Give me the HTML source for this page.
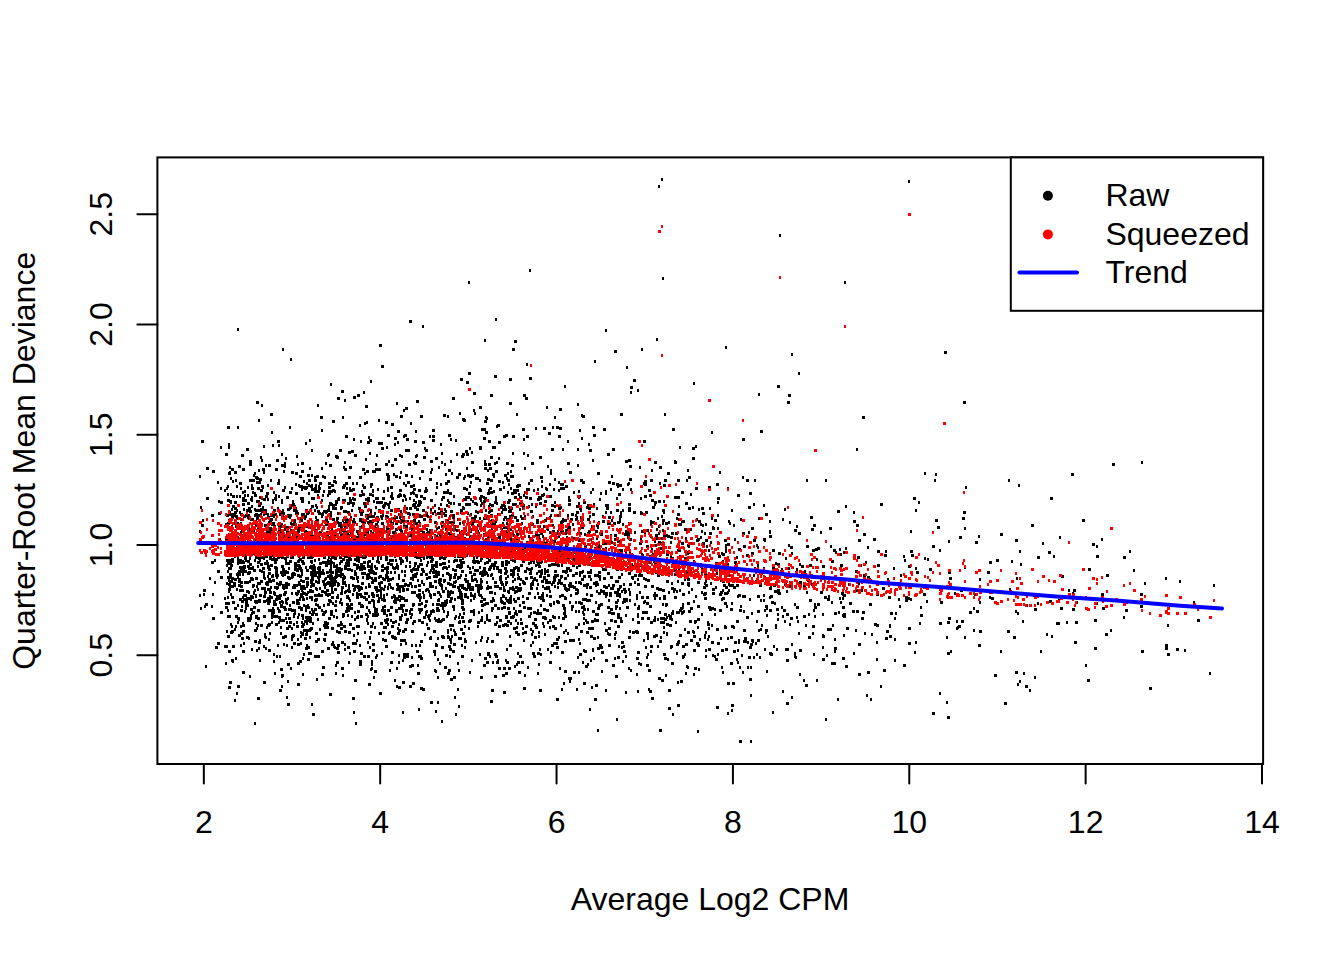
<!DOCTYPE html>
<html><head><meta charset="utf-8"><style>
html,body{margin:0;padding:0;background:#fff;}
svg{display:block;}
text{font-family:"Liberation Sans",sans-serif;font-size:32px;fill:#000;}
</style></head><body>
<svg width="1344" height="960" viewBox="0 0 1344 960">
<rect width="1344" height="960" fill="#fff"/>
<path d="M455 560.5h3M366 531.5h3M378 443.5h3M1019 551.5h2M503 587.5h2M527 608.5h3M361 521.5h2M530 511.5h3M274 587.5h3M244 611.5h2M663 627.5h2M226 488.5h2M956 628.5h2M639 467.5h2M602 549.5h3M242 651.5h3M309 629.5h3M662 590.5h3M405 526.5h3M500 542.5h3M274 540.5h2M300 568.5h2M435 536.5h3M456 549.5h2M267 576.5h2M681 612.5h3M281 512.5h2M409 583.5h3M479 490.5h3M356 565.5h3M399 586.5h2M708 636.5h2M415 502.5h2M455 544.5h2M911 555.5h3M338 524.5h2M719 472.5h2M374 554.5h2M353 651.5h3M700 524.5h2M250 599.5h2M681 543.5h3M719 610.5h3M247 618.5h3M322 521.5h3M594 564.5h3M407 547.5h2M218 530.5h3M538 566.5h3M614 592.5h3M927 559.5h2M286 628.5h3M328 545.5h2M261 405.5h2M337 595.5h2M414 554.5h2M399 543.5h3M457 577.5h2M684 563.5h3M503 668.5h3M515 587.5h3M482 571.5h3M311 498.5h3M413 493.5h2M1020 564.5h2M743 611.5h2M589 551.5h2M453 609.5h2M684 558.5h3M502 595.5h2M390 607.5h3M449 656.5h2M305 634.5h3M354 455.5h3M599 499.5h2M639 543.5h3M1088 569.5h3M647 618.5h3M247 528.5h3M558 482.5h2M622 565.5h2M688 508.5h3M433 576.5h3M425 614.5h2M287 664.5h3M855 571.5h3M1015 540.5h3M332 603.5h2M856 590.5h2M309 612.5h2M258 503.5h2M564 578.5h3M629 594.5h2M306 570.5h3M845 506.5h2M391 636.5h3M300 596.5h2M348 662.5h2M270 581.5h2M592 649.5h2M342 500.5h3M539 542.5h3M418 534.5h2M275 624.5h3M479 498.5h3M895 613.5h2M300 570.5h3M876 594.5h3M272 500.5h2M474 521.5h3M295 493.5h3M1123 557.5h3M460 556.5h2M688 611.5h3M547 649.5h2M413 520.5h3M331 572.5h3M688 546.5h2M705 632.5h2M601 565.5h3M620 618.5h2M240 633.5h3M314 609.5h3M463 588.5h3M255 477.5h3M481 503.5h2M825 480.5h2M371 533.5h2M537 542.5h2M307 570.5h2M612 613.5h3M722 581.5h3M628 668.5h2M409 544.5h2M369 539.5h3M258 541.5h2M660 618.5h3M733 651.5h3M465 497.5h3M586 584.5h3M318 576.5h3M580 603.5h3M327 627.5h2M561 521.5h3M227 486.5h2M384 640.5h3M322 476.5h2M239 512.5h2M331 578.5h3M760 431.5h3M349 498.5h2M271 614.5h3M523 583.5h3M592 427.5h3M367 656.5h3M769 610.5h3M541 486.5h2M454 632.5h2M722 672.5h2M622 565.5h2M488 490.5h2M327 648.5h3M447 481.5h3M497 554.5h2M722 554.5h3M803 680.5h2M248 518.5h3M449 493.5h3M799 674.5h2M405 622.5h3M579 430.5h2M318 570.5h3M687 632.5h3M295 484.5h2M332 531.5h2M325 534.5h2M282 569.5h3M524 571.5h3M655 635.5h3M288 532.5h2M306 551.5h3M390 496.5h3M348 606.5h3M506 625.5h3M272 523.5h3M438 527.5h2M272 515.5h2M413 500.5h2M380 516.5h2M251 578.5h2M359 539.5h2M509 645.5h3M692 507.5h2M841 593.5h3M567 633.5h2M395 476.5h3M285 527.5h2M532 631.5h2M472 540.5h3M675 533.5h3M329 465.5h3M517 590.5h3M262 568.5h3M352 505.5h2M405 508.5h3M619 596.5h2M368 561.5h3M496 568.5h3M1007 631.5h3M822 614.5h2M426 557.5h2M310 618.5h2M494 538.5h2M609 593.5h3M483 569.5h3M574 587.5h2M312 545.5h3M342 525.5h3M288 578.5h2M246 550.5h3M418 525.5h3M593 504.5h2M380 623.5h3M843 616.5h3M370 535.5h3M383 595.5h2M665 604.5h3M519 656.5h3M453 644.5h3M321 572.5h3M259 640.5h2M291 610.5h3M292 635.5h3M399 490.5h3M361 569.5h2M459 621.5h2M331 628.5h3M532 642.5h2M822 659.5h3M630 564.5h3M474 413.5h2M331 562.5h2M607 505.5h2M648 670.5h3M262 542.5h2M659 598.5h2M763 505.5h2M307 557.5h3M299 661.5h3M560 577.5h2M427 562.5h2M253 607.5h3M493 475.5h2M641 554.5h2M562 449.5h2M244 537.5h2M240 586.5h2M445 483.5h3M517 554.5h3M764 610.5h2M550 596.5h2M529 573.5h3M692 631.5h2M394 637.5h2M294 564.5h2M271 519.5h2M372 644.5h3M679 590.5h2M460 563.5h2M241 544.5h3M739 610.5h3M636 595.5h2M246 605.5h2M603 593.5h3M299 607.5h2M243 528.5h3M389 560.5h2M546 610.5h3M335 573.5h3M405 450.5h3M651 698.5h3M273 558.5h2M508 601.5h2M354 680.5h3M248 541.5h3M586 507.5h2M527 667.5h2M418 585.5h3M421 569.5h3M386 527.5h3M530 629.5h2M226 488.5h2M268 573.5h3M258 583.5h3M268 579.5h3M462 454.5h3M398 608.5h3M517 570.5h3M447 596.5h3M600 554.5h2M544 588.5h3M237 622.5h2M259 533.5h3M522 505.5h3M666 581.5h3M637 691.5h2M261 571.5h2M486 582.5h2M285 602.5h2M348 452.5h3M663 536.5h3M497 546.5h2M649 495.5h3M488 569.5h3M733 525.5h2M337 552.5h3M427 532.5h3M794 653.5h2M586 594.5h2M244 558.5h3M310 572.5h3M379 583.5h2M506 519.5h3M344 566.5h3M651 500.5h3M622 602.5h2M399 477.5h2M328 483.5h3M321 595.5h2M317 553.5h2M435 566.5h3M457 689.5h2M716 484.5h3M435 493.5h2M467 475.5h3M318 547.5h2M978 645.5h3M426 529.5h2M286 603.5h2M344 538.5h2M563 683.5h2M335 558.5h2M1075 622.5h3M608 541.5h2M486 615.5h2M534 637.5h3M389 540.5h3M623 601.5h3M620 515.5h2M619 587.5h2M501 529.5h2M611 476.5h2M615 632.5h2M320 555.5h3M242 545.5h2M764 649.5h2M387 563.5h3M255 551.5h2M685 538.5h2M654 551.5h3M493 491.5h2M266 530.5h3M684 629.5h2M430 586.5h3M259 479.5h3M296 535.5h3M282 585.5h2M684 529.5h3M708 607.5h3M785 649.5h2M358 535.5h2M478 592.5h2M494 562.5h3M374 580.5h3M229 467.5h2M248 509.5h3M256 628.5h2M414 576.5h3M397 586.5h2M234 502.5h3M248 598.5h2M383 507.5h2M511 476.5h3M438 573.5h2M579 575.5h2M464 639.5h2M259 595.5h3M267 566.5h3M372 555.5h3M488 560.5h3M680 563.5h3M696 643.5h3M867 577.5h3M674 462.5h3M393 474.5h2M465 581.5h2M248 532.5h3M808 614.5h2M480 677.5h3M241 562.5h3M708 550.5h2M554 564.5h3M1000 651.5h2M264 549.5h3M402 660.5h2M268 589.5h3M808 637.5h3M286 497.5h3M554 586.5h2M529 608.5h3M487 653.5h3M425 450.5h3M404 614.5h3M611 520.5h2M487 586.5h2M365 499.5h3M563 613.5h3M524 675.5h2M409 666.5h3M544 556.5h2M292 532.5h3M599 645.5h3M605 690.5h2M578 540.5h3M1167 625.5h2M387 504.5h3M751 613.5h2M595 602.5h2M584 651.5h3M357 611.5h3M261 509.5h3M590 539.5h2M249 480.5h3M518 590.5h3M229 575.5h3M300 576.5h2M411 552.5h2M646 665.5h3M348 477.5h3M767 636.5h2M810 517.5h3M577 592.5h2M368 570.5h2M415 495.5h3M908 598.5h2M469 568.5h2M483 429.5h3M468 504.5h3M288 543.5h3M1060 608.5h3M482 554.5h2M530 577.5h3M625 599.5h3M434 581.5h3M326 572.5h3M798 633.5h2M297 644.5h3M377 498.5h2M545 580.5h3M410 493.5h2M483 504.5h2M315 633.5h3M659 467.5h3M678 570.5h2M409 535.5h3M756 654.5h2M512 574.5h3M318 488.5h3M235 626.5h2M786 614.5h3M777 592.5h2M493 539.5h2M455 537.5h3M565 486.5h3M389 579.5h3M356 597.5h3M368 551.5h3M456 477.5h3M228 580.5h2M316 536.5h2M466 468.5h2M705 656.5h2M448 566.5h2M340 624.5h3M813 610.5h2M668 615.5h2M335 581.5h2M1074 642.5h3M540 573.5h3M331 557.5h3M491 520.5h2M360 536.5h2M770 596.5h3M493 521.5h2M244 582.5h3M444 558.5h2M458 474.5h3M632 566.5h2M814 604.5h2M530 584.5h2M476 529.5h2M452 539.5h3M294 563.5h3M567 515.5h2M437 513.5h3M390 560.5h2M576 567.5h2M372 650.5h3M545 571.5h2M359 546.5h2M302 487.5h3M465 504.5h3M756 545.5h2M301 463.5h3M285 548.5h3M356 558.5h2M673 591.5h2M381 570.5h3M378 590.5h2M360 564.5h3M459 554.5h2M395 523.5h3M285 585.5h2M566 526.5h2M287 516.5h3M458 504.5h3M430 585.5h2M229 501.5h3M325 611.5h2M650 536.5h2M676 591.5h2M281 502.5h2M573 538.5h2M370 626.5h3M317 577.5h3M303 654.5h2M698 509.5h2M964 528.5h2M811 529.5h3M280 572.5h2M218 513.5h3M419 547.5h3M715 563.5h3M442 591.5h3M331 644.5h3M763 595.5h2M510 476.5h2M368 437.5h2M475 527.5h2M513 608.5h2M255 623.5h2M461 603.5h3M488 479.5h2M258 501.5h2M298 568.5h2M236 554.5h2M315 599.5h3M236 693.5h2M479 480.5h2M629 600.5h2M268 581.5h2M693 601.5h2M323 542.5h2M199 531.5h2M399 600.5h2M348 557.5h3M372 537.5h2M356 560.5h3M599 579.5h2M378 562.5h2M651 586.5h3M528 536.5h2M532 623.5h3M590 636.5h3M295 552.5h3M774 603.5h2M471 589.5h3M230 530.5h3M305 526.5h3M742 672.5h2M505 571.5h3M211 562.5h3M265 637.5h2M866 695.5h2M312 585.5h2M412 505.5h3M466 581.5h3M226 542.5h3M400 597.5h3M474 545.5h3M238 562.5h3M432 430.5h3M594 699.5h3M517 634.5h3M310 586.5h2M411 631.5h3M299 576.5h2M392 637.5h3M369 572.5h3M405 540.5h2M559 428.5h3M300 520.5h3M791 644.5h2M589 516.5h2M842 594.5h2M374 471.5h2M499 537.5h2M524 492.5h2M877 565.5h3M539 542.5h2M443 415.5h3M286 556.5h3M603 586.5h3M760 629.5h2M512 576.5h2M228 584.5h3M1068 590.5h2M654 598.5h2M503 603.5h3M439 532.5h3M550 473.5h2M671 619.5h2M369 494.5h3M287 598.5h2M374 573.5h3M276 588.5h2M418 501.5h3M577 557.5h2M383 600.5h3M420 658.5h2M297 663.5h3M908 566.5h3M302 674.5h2M727 538.5h2M330 580.5h3M718 556.5h3M288 563.5h2M492 447.5h3M477 512.5h2M288 516.5h3M487 470.5h2M709 609.5h3M260 524.5h3M432 572.5h3M232 481.5h2M645 612.5h3M247 566.5h3M669 618.5h2M560 547.5h2M789 582.5h3M458 543.5h3M267 485.5h2M562 571.5h3M239 590.5h2M272 555.5h2M351 554.5h3M454 697.5h2M264 594.5h2M446 505.5h2M307 659.5h2M340 622.5h2M786 591.5h2M550 515.5h2M387 563.5h2M528 593.5h2M333 584.5h2M347 565.5h3M367 499.5h3M386 567.5h2M769 588.5h3M743 596.5h3M247 531.5h2M406 560.5h2M291 505.5h3M627 484.5h2M441 546.5h3M409 566.5h2M578 565.5h3M667 573.5h3M225 524.5h3M289 508.5h2M815 549.5h3M371 578.5h2M359 553.5h3M352 483.5h2M293 587.5h2M303 630.5h3M376 548.5h2M731 510.5h2M390 487.5h3M252 579.5h2M372 533.5h2M399 591.5h2M610 588.5h2M544 634.5h2M456 530.5h3M352 489.5h3M269 522.5h3M302 624.5h3M371 661.5h2M686 553.5h3M229 586.5h3M394 438.5h3M518 672.5h3M263 547.5h3M432 513.5h2M612 585.5h3M465 596.5h2M368 529.5h2M742 533.5h3M442 497.5h3M472 523.5h2M364 542.5h3M595 582.5h3M367 531.5h2M471 518.5h2M402 610.5h2M398 588.5h3M314 491.5h3M339 532.5h3M447 612.5h2M460 566.5h3M314 656.5h3M516 664.5h2M727 488.5h2M505 660.5h2M489 521.5h3M637 608.5h3M490 575.5h2M327 522.5h2M274 539.5h2M341 590.5h2M423 550.5h3M351 616.5h2M292 576.5h2M797 621.5h2M687 583.5h3M278 611.5h3M420 548.5h2M1079 597.5h2M752 641.5h2M334 508.5h3M304 630.5h3M311 577.5h2M224 646.5h3M627 537.5h2M701 508.5h3M232 555.5h2M733 587.5h3M344 539.5h2M370 535.5h2M535 535.5h3M256 501.5h3M608 558.5h2M298 552.5h2M253 593.5h2M366 607.5h2M311 609.5h2M377 614.5h2M251 613.5h2M394 553.5h2M556 427.5h3M374 526.5h2M416 455.5h2M357 633.5h2M302 563.5h3M663 501.5h2M488 560.5h2M556 515.5h3M448 502.5h2M493 565.5h3M396 553.5h3M434 618.5h2M491 608.5h3M359 519.5h2M370 669.5h2M254 493.5h2M607 607.5h3M279 514.5h3M429 555.5h2M366 533.5h3M260 509.5h2M402 537.5h2M454 574.5h3M556 561.5h3M263 510.5h2M386 517.5h3M867 547.5h2M442 568.5h2M414 541.5h2M440 605.5h3M265 637.5h2M827 599.5h3M305 607.5h3M530 562.5h2M302 514.5h3M470 611.5h2M260 564.5h3M291 554.5h3M538 571.5h3M274 567.5h3M454 582.5h2M491 564.5h3M552 427.5h2M630 569.5h3M564 598.5h3M497 608.5h3M384 606.5h2M536 588.5h2M313 567.5h3M339 557.5h3M335 543.5h2M340 569.5h3M359 569.5h2M531 634.5h2M882 588.5h3M473 598.5h2M758 630.5h2M453 496.5h2M469 584.5h2M420 656.5h2M274 673.5h2M576 557.5h3M321 514.5h3M359 495.5h3M203 590.5h3M431 469.5h2M339 575.5h2M311 557.5h2M496 622.5h2M480 496.5h3M370 486.5h2M331 589.5h2M430 537.5h3M338 498.5h2M308 485.5h2M505 582.5h3M381 566.5h3M258 470.5h2M729 585.5h3M358 558.5h2M367 542.5h2M430 500.5h3M580 510.5h2M533 562.5h2M296 593.5h3M509 403.5h3M387 624.5h2M624 591.5h3M973 630.5h2M916 572.5h3M535 428.5h2M415 645.5h2M595 584.5h2M727 544.5h3M403 552.5h2M299 526.5h3M333 578.5h3M375 587.5h3M372 495.5h2M418 490.5h3M336 522.5h3M470 589.5h3M279 528.5h2M473 559.5h2M335 601.5h2M467 566.5h2M316 520.5h3M476 557.5h2M398 495.5h2M714 614.5h2M295 513.5h2M380 593.5h2M391 424.5h3M380 512.5h2M372 490.5h2M491 538.5h3M227 494.5h2M386 530.5h2M392 552.5h3M679 610.5h3M853 521.5h3M628 573.5h2M655 545.5h2M1037 603.5h2M1096 603.5h2M506 616.5h2M248 553.5h2M677 550.5h3M433 569.5h2M234 556.5h2M289 547.5h3M459 532.5h2M549 591.5h2M870 699.5h2M628 637.5h3M712 589.5h3M247 561.5h3M406 589.5h3M618 550.5h2M622 524.5h2M308 538.5h3M475 528.5h3M324 540.5h3M283 574.5h3M641 618.5h3M381 443.5h2M724 540.5h3M237 554.5h2M769 521.5h2M620 621.5h3M425 545.5h3M450 511.5h3M340 529.5h2M444 509.5h2M560 625.5h2M538 597.5h3M472 611.5h3M279 534.5h2M339 450.5h3M914 652.5h2M380 593.5h2M387 477.5h3M392 588.5h2M666 581.5h2M386 619.5h2M469 620.5h3M389 614.5h3M312 538.5h3M350 577.5h3M316 589.5h2M615 608.5h2M1125 610.5h3M590 595.5h3M441 453.5h2M485 549.5h2M439 584.5h3M665 570.5h3M279 656.5h2M240 582.5h3M553 617.5h3M418 521.5h2M575 593.5h3M765 606.5h3M302 658.5h2M583 606.5h2M561 539.5h2M501 565.5h3M386 474.5h3M486 662.5h3M449 522.5h3M260 457.5h2M471 462.5h3M200 608.5h2M358 603.5h3M528 563.5h2M742 596.5h2M360 606.5h3M205 604.5h3M741 655.5h2M267 589.5h2M536 561.5h3M310 546.5h2M650 521.5h2M263 577.5h2M812 550.5h3M270 530.5h2M491 641.5h3M670 647.5h2M291 472.5h3M397 628.5h2M346 556.5h3M799 582.5h3M489 656.5h2M735 567.5h2M989 562.5h3M468 628.5h2M616 595.5h3M440 596.5h2M400 547.5h3M946 637.5h2M377 534.5h3M385 422.5h3M365 459.5h2M315 641.5h3M368 602.5h3M337 583.5h2M679 556.5h2M578 639.5h2M465 589.5h2M625 600.5h3M573 492.5h2M814 607.5h3M289 561.5h3M347 647.5h3M370 539.5h3M207 542.5h3M325 512.5h2M293 550.5h3M510 538.5h2M698 521.5h3M405 553.5h3M451 542.5h3M374 611.5h3M330 563.5h2M251 519.5h3M1009 589.5h2M412 605.5h2M556 557.5h2M490 557.5h3M908 628.5h3M674 461.5h2M583 623.5h2M367 565.5h2M1051 636.5h2M287 515.5h2M481 575.5h3M435 671.5h2M243 643.5h2M630 670.5h2M308 653.5h3M436 528.5h2M428 591.5h2M365 503.5h2M376 517.5h3M597 637.5h2M780 571.5h3M526 568.5h2M450 598.5h3M300 529.5h2M233 535.5h3M501 584.5h3M657 575.5h3M353 519.5h2M481 511.5h2M376 595.5h3M269 532.5h2M578 491.5h2M778 593.5h3M410 570.5h2M577 465.5h2M663 632.5h2M248 568.5h2M510 617.5h2M360 514.5h3M388 461.5h2M608 523.5h2M342 578.5h3M688 477.5h3M628 460.5h3M232 559.5h2M302 557.5h3M949 578.5h3M360 535.5h2M806 546.5h3M541 572.5h2M436 551.5h3M372 580.5h2M465 544.5h3M452 651.5h3M307 546.5h3M617 592.5h2M886 631.5h3M220 577.5h3M649 556.5h2M924 558.5h2M502 625.5h3M400 522.5h2M303 593.5h3M317 582.5h3M946 587.5h3M272 616.5h3M481 557.5h2M435 587.5h2M463 613.5h2M863 575.5h3M466 589.5h2M459 567.5h3M500 572.5h2M532 554.5h3M462 633.5h3M596 591.5h2M874 624.5h3M545 582.5h3M288 568.5h2M430 548.5h2M418 597.5h2M628 510.5h3M362 525.5h2M362 557.5h2M429 520.5h2M314 595.5h3M422 533.5h3M489 468.5h3M328 454.5h2M305 617.5h3M575 611.5h2M674 589.5h2M493 523.5h3M550 532.5h2M264 511.5h3M514 591.5h3M460 585.5h2M225 454.5h3M341 555.5h2M705 540.5h3M331 586.5h2M310 556.5h2M467 551.5h3M279 536.5h2M396 403.5h2M556 533.5h3M302 526.5h2M424 534.5h3M252 480.5h3M371 593.5h3M724 593.5h2M449 592.5h3M653 595.5h3M500 507.5h2M385 621.5h3M520 516.5h2M615 606.5h3M447 673.5h3M499 620.5h3M743 546.5h3M332 421.5h3M522 596.5h2M556 639.5h3M722 561.5h2M422 539.5h2M644 534.5h2M579 654.5h3M449 584.5h3M328 600.5h3M389 632.5h2M493 555.5h2M444 552.5h2M605 630.5h3M548 565.5h3M732 683.5h3M380 502.5h3M493 541.5h3M340 573.5h2M794 604.5h2M625 656.5h2M291 545.5h3M846 628.5h3M522 628.5h2M385 552.5h2M308 493.5h2M367 498.5h3M479 448.5h3M573 587.5h3M399 545.5h2M596 547.5h2M500 582.5h3M522 429.5h3M338 575.5h3M401 514.5h2M296 540.5h3M318 488.5h2M417 566.5h3M411 614.5h2M784 621.5h2M379 532.5h3M253 553.5h2M411 592.5h3M511 617.5h3M493 523.5h3M654 593.5h2M596 575.5h3M405 543.5h2M386 577.5h3M234 508.5h3M564 610.5h2M245 527.5h2M399 617.5h3M365 587.5h2M532 540.5h2M349 499.5h2M327 510.5h2M876 642.5h2M452 522.5h3M333 548.5h3M650 622.5h3M278 610.5h2M812 633.5h2M336 631.5h2M646 597.5h3M412 575.5h2M757 596.5h3M286 532.5h3M263 646.5h2M687 470.5h2M394 517.5h3M251 548.5h2M542 600.5h3M639 592.5h2M600 590.5h2M229 581.5h2M686 572.5h3M426 565.5h2M461 656.5h3M345 483.5h3M399 495.5h3M269 633.5h2M534 578.5h2M392 578.5h2M858 540.5h3M244 595.5h3M546 518.5h2M347 512.5h3M486 483.5h3M265 496.5h3M604 569.5h3M301 561.5h3M343 485.5h3M346 597.5h2M403 517.5h2M663 485.5h3M239 599.5h2M532 584.5h2M503 692.5h3M327 576.5h3M379 576.5h3M276 550.5h3M766 671.5h2M660 538.5h3M727 683.5h3M487 654.5h2M419 564.5h2M472 501.5h2M570 519.5h3M463 478.5h2M740 519.5h2M856 611.5h3M234 512.5h3M577 533.5h3M423 519.5h3M266 525.5h2M291 593.5h2M605 505.5h2M489 511.5h2M353 589.5h3M843 552.5h3M521 549.5h3M704 573.5h3M416 573.5h2M512 532.5h2M330 614.5h3M488 538.5h2M603 578.5h3M360 566.5h2M430 537.5h3M507 576.5h2M725 545.5h2M285 583.5h3M448 646.5h3M314 524.5h3M471 547.5h3M344 553.5h2M479 518.5h2M495 471.5h3M618 577.5h3M518 611.5h2M443 567.5h3M510 542.5h2M237 605.5h2M322 573.5h3M671 663.5h3M409 508.5h3M610 620.5h3M660 622.5h2M370 568.5h3M1072 593.5h2M495 554.5h2M305 610.5h2M724 626.5h2M313 565.5h2M490 515.5h2M383 539.5h2M605 565.5h2M473 410.5h2M543 617.5h3M709 533.5h3M336 542.5h2M314 480.5h3M441 522.5h3M306 586.5h2M385 557.5h3M764 540.5h2M490 592.5h3M329 561.5h3M352 594.5h2M228 651.5h3M614 539.5h3M255 514.5h3M312 526.5h3M339 570.5h3M639 565.5h2M292 587.5h3M283 571.5h2M229 574.5h3M834 613.5h3M381 547.5h2M443 581.5h2M358 508.5h3M280 541.5h3M442 554.5h3M582 612.5h2M443 492.5h3M687 583.5h2M763 577.5h3M553 541.5h3M492 474.5h3M290 540.5h2M300 551.5h2M351 451.5h3M257 583.5h2M443 580.5h3M451 636.5h2M321 468.5h2M598 593.5h3M533 612.5h3M438 542.5h3M268 569.5h3M253 530.5h2M403 545.5h3M543 494.5h2M1092 544.5h3M517 574.5h2M228 447.5h2M761 625.5h2M1094 648.5h3M607 454.5h3M336 662.5h3M340 593.5h3M889 625.5h2M595 553.5h3M262 507.5h2M352 698.5h3M459 614.5h2M538 526.5h3M491 610.5h2M538 664.5h2M298 614.5h2M317 619.5h2M363 533.5h2M370 566.5h3M637 584.5h3M293 616.5h2M739 667.5h2M464 594.5h3M512 453.5h2M342 487.5h3M273 604.5h2M652 554.5h2M622 661.5h2M605 548.5h2M436 539.5h2M760 582.5h2M365 406.5h3M357 626.5h3M315 604.5h2M365 532.5h3M298 582.5h2M712 528.5h3M828 596.5h2M417 557.5h2M489 587.5h3M803 616.5h3M550 652.5h2M270 587.5h2M470 589.5h3M817 548.5h3M619 516.5h3M694 621.5h3M1034 609.5h3M380 582.5h3M561 484.5h3M529 551.5h2M495 497.5h2M690 608.5h3M310 566.5h3M420 597.5h2M430 520.5h2M273 524.5h2M477 589.5h3M308 647.5h2M563 585.5h3M253 592.5h2M498 668.5h3M616 510.5h3M688 585.5h2M297 542.5h2M470 482.5h2M328 487.5h3M311 599.5h2M1101 539.5h2M494 529.5h2M649 556.5h2M468 553.5h3M569 472.5h3M664 480.5h3M349 490.5h3M714 520.5h3M711 518.5h2M734 562.5h3M386 568.5h3M790 618.5h3M550 547.5h3M430 557.5h3M528 489.5h2M659 548.5h3M217 643.5h3M447 533.5h2M404 496.5h2M273 512.5h2M429 577.5h2M350 555.5h2M494 550.5h2M275 568.5h3M725 564.5h3M471 524.5h3M338 632.5h3M505 578.5h2M562 605.5h3M766 615.5h2M688 592.5h2M413 489.5h3M617 626.5h2M720 592.5h3M427 628.5h3M274 562.5h3M319 563.5h3M504 554.5h2M380 597.5h2M300 594.5h3M469 672.5h2M534 597.5h2M334 477.5h2M662 510.5h3M471 660.5h2M255 525.5h2M468 621.5h3M834 651.5h2M263 544.5h3M659 641.5h3M293 585.5h3M314 477.5h2M705 650.5h2M500 545.5h2M426 529.5h2M419 645.5h2M415 456.5h2M440 513.5h3M575 560.5h3M291 636.5h3M360 653.5h3M430 570.5h2M422 571.5h3M268 529.5h2M374 627.5h2M393 568.5h3M328 509.5h2M382 639.5h2M569 602.5h2M426 551.5h3M440 504.5h2M508 562.5h2M1072 609.5h3M245 558.5h2M350 604.5h3M592 489.5h2M384 620.5h3M486 418.5h2M336 550.5h3M628 504.5h3M485 544.5h3M328 557.5h2M840 602.5h2M231 526.5h2M705 581.5h2M425 605.5h2M840 554.5h2M249 511.5h3M487 479.5h3M460 510.5h3M230 565.5h3M423 584.5h2M887 579.5h2M530 587.5h2M226 631.5h2M439 621.5h2M564 671.5h3M704 637.5h2M424 525.5h2M651 470.5h2M277 546.5h3M508 612.5h3M397 633.5h3M750 667.5h2M344 462.5h2M321 516.5h2M513 535.5h2M685 644.5h3M332 519.5h3M494 605.5h3M578 611.5h2M291 488.5h2M495 656.5h3M404 600.5h3M617 626.5h3M623 584.5h2M455 616.5h2M287 577.5h3M326 583.5h3M275 575.5h2M502 562.5h2M611 613.5h2M668 592.5h2M577 553.5h3M538 497.5h3M617 522.5h3M754 480.5h2M267 546.5h2M506 600.5h3M557 602.5h3M272 610.5h2M530 570.5h2M664 658.5h3M278 534.5h3M670 616.5h2M474 594.5h2M442 637.5h3M380 558.5h2M234 608.5h3M716 629.5h3M416 557.5h2M522 633.5h2M234 584.5h2M806 480.5h2M607 633.5h2M894 639.5h2M437 638.5h2M565 533.5h2M525 497.5h3M505 584.5h2M481 601.5h2M428 615.5h3M266 600.5h3M625 564.5h2M276 570.5h2M229 577.5h3M714 569.5h2M502 596.5h3M365 614.5h3M624 592.5h2M582 571.5h2M515 632.5h3M693 632.5h2M664 614.5h3M363 597.5h3M523 544.5h3M551 525.5h3M444 464.5h2M697 539.5h3M535 550.5h2M430 585.5h2M475 642.5h2M957 627.5h2M578 582.5h3M367 546.5h3M344 500.5h2M452 585.5h2M630 489.5h2M309 637.5h2M257 698.5h3M494 582.5h3M490 521.5h3M432 440.5h3M710 576.5h3M542 623.5h2M343 536.5h2M369 637.5h2M304 531.5h3M241 519.5h2M437 659.5h2M260 531.5h2M326 563.5h2M1165 648.5h3M523 439.5h2M597 614.5h2M412 604.5h3M258 524.5h3M306 582.5h3M246 449.5h3M659 573.5h2M474 579.5h3M335 570.5h3M407 585.5h3M389 502.5h2M670 557.5h2M247 487.5h2M565 589.5h2M305 567.5h2M301 571.5h2M275 543.5h2M450 461.5h2M537 593.5h2M454 582.5h2M599 577.5h2M459 595.5h3M324 552.5h2M266 543.5h2M597 473.5h3M414 463.5h3M693 561.5h2M935 520.5h3M287 584.5h3M273 601.5h3M248 508.5h3M452 517.5h3M1106 575.5h3M494 463.5h2M395 567.5h3M956 621.5h2M438 508.5h2M583 618.5h2M734 539.5h2M282 587.5h2M360 596.5h3M523 607.5h3M466 454.5h3M229 563.5h2M357 551.5h3M607 573.5h3M372 520.5h2M331 504.5h2M259 504.5h2M440 546.5h2M765 630.5h2M383 613.5h3M799 564.5h2M345 436.5h3M359 661.5h3M548 545.5h3M531 504.5h2M304 488.5h3M395 611.5h3M237 618.5h3M610 512.5h2M746 555.5h3M743 630.5h3M294 587.5h2M402 561.5h2M244 500.5h3M843 614.5h3M415 549.5h2M357 566.5h2M258 552.5h2M1082 520.5h3M339 602.5h2M387 580.5h2M610 535.5h2M335 566.5h2M584 534.5h2M250 568.5h3M243 535.5h2M544 520.5h3M636 564.5h2M535 546.5h2M410 609.5h3M243 599.5h3M381 599.5h2M757 565.5h2M263 544.5h2M462 562.5h2M341 668.5h3M519 589.5h3M217 571.5h3M551 505.5h3M301 574.5h2M629 592.5h2M458 597.5h3M311 614.5h3M391 597.5h2M439 663.5h2M572 640.5h3M690 529.5h2M348 562.5h2M242 597.5h2M578 539.5h3M662 530.5h2M566 568.5h2M318 537.5h2M281 557.5h3M301 514.5h2M554 576.5h3M465 499.5h2M511 515.5h3M869 579.5h2M342 559.5h3M403 436.5h2M272 530.5h3M400 560.5h3M270 533.5h2M479 654.5h2M350 608.5h3M386 447.5h2M514 579.5h2M1015 672.5h3M403 524.5h2M336 617.5h2M327 455.5h2M806 592.5h2M1019 681.5h2M597 545.5h2M238 619.5h2M830 546.5h2M1040 651.5h2M499 579.5h3M461 597.5h2M307 592.5h2M580 480.5h3M381 653.5h2M442 563.5h2M721 667.5h2M342 530.5h3M296 570.5h3M535 627.5h3M858 674.5h3M566 570.5h2M682 657.5h2M582 517.5h2M322 570.5h2M1073 590.5h3M418 609.5h2M267 516.5h2M458 622.5h3M231 469.5h3M264 578.5h2M394 537.5h3M415 551.5h2M1105 634.5h3M526 489.5h2M402 589.5h3M421 603.5h2M291 639.5h2M636 658.5h3M354 643.5h3M880 504.5h3M617 541.5h3M382 607.5h2M276 554.5h2M353 538.5h2M317 577.5h2M677 612.5h3M437 677.5h2M390 620.5h2M393 595.5h2M637 616.5h2M435 571.5h2M420 610.5h2M584 546.5h3M627 531.5h3M278 555.5h2M264 592.5h3M564 641.5h3M378 420.5h2M346 560.5h3M483 574.5h3M484 572.5h3M414 556.5h2M258 553.5h3M736 585.5h3M347 551.5h2M319 588.5h2M588 508.5h3M311 489.5h3M452 586.5h2M537 526.5h3M541 561.5h2M271 545.5h3M517 590.5h2M698 669.5h2M313 489.5h2M628 589.5h2M803 585.5h3M342 675.5h2M493 568.5h2M787 402.5h3M446 616.5h2M510 623.5h2M1167 654.5h3M274 526.5h2M236 518.5h3M267 603.5h3M280 633.5h2M446 520.5h3M301 588.5h3M273 510.5h3M285 535.5h2M695 446.5h2M236 510.5h2M286 587.5h2M789 624.5h2M629 466.5h3M958 626.5h3M269 601.5h2M317 511.5h3M301 590.5h2M523 640.5h2M270 480.5h2M262 469.5h3M311 450.5h2M252 585.5h3M439 536.5h3M665 614.5h2M258 642.5h3M404 508.5h2M602 569.5h3M292 573.5h3M335 502.5h3M682 594.5h3M422 555.5h3M242 672.5h3M428 577.5h2M341 642.5h3M250 615.5h2M608 585.5h2M571 609.5h2M315 530.5h3M711 608.5h3M296 456.5h2M831 561.5h3M800 585.5h2M303 605.5h2M348 591.5h3M379 693.5h3M511 465.5h3M529 593.5h2M275 499.5h2M490 543.5h3M788 545.5h2M449 649.5h3M349 467.5h3M910 531.5h2M238 635.5h3M822 647.5h2M239 546.5h3M278 598.5h3M614 658.5h2M315 522.5h3M541 495.5h3M396 598.5h3M429 557.5h2M309 527.5h3M333 543.5h3M813 654.5h2M231 631.5h3M473 518.5h3M500 580.5h2M309 590.5h3M1165 578.5h2M484 658.5h3M370 484.5h3M290 530.5h3M229 512.5h2M509 516.5h3M321 674.5h3M201 525.5h3M263 542.5h2M308 544.5h3M828 629.5h3M238 560.5h2M422 537.5h2M445 556.5h2M460 638.5h2M485 603.5h2M382 515.5h2M546 528.5h2M431 559.5h3M295 535.5h2M392 532.5h3M372 545.5h2M360 538.5h2M496 567.5h3M468 547.5h2M331 485.5h3M404 506.5h2M418 604.5h3M395 529.5h3M428 618.5h2M238 561.5h3M383 610.5h3M460 585.5h2M316 524.5h3M374 566.5h2M321 500.5h2M569 583.5h3M432 436.5h3M400 605.5h3M596 620.5h3M315 485.5h2M281 675.5h3M549 662.5h3M438 582.5h3M502 675.5h3M319 551.5h3M581 554.5h2M315 595.5h3M308 630.5h3M517 662.5h3M476 561.5h3M413 621.5h3M462 419.5h3M345 591.5h2M719 594.5h3M788 568.5h2M593 638.5h3M268 533.5h2M258 558.5h2M275 599.5h3M684 654.5h2M376 517.5h2M733 627.5h2M407 450.5h3M245 608.5h2M484 421.5h3M293 614.5h2M318 572.5h2M263 601.5h3M603 429.5h3M246 582.5h3M1031 525.5h3M348 588.5h2M399 558.5h3M567 528.5h3M354 538.5h2M418 590.5h3M963 512.5h3M386 571.5h2M353 397.5h3M452 546.5h2M373 501.5h2M327 563.5h3M225 538.5h2M427 548.5h3M769 597.5h2M666 634.5h2M281 465.5h3M451 547.5h3M443 513.5h2M406 547.5h2M327 604.5h3M609 595.5h3M403 654.5h3M1101 594.5h3M249 581.5h2M265 648.5h2M326 523.5h2M672 611.5h2M411 586.5h2M259 570.5h2M231 626.5h2M259 532.5h2M376 531.5h2M757 640.5h3M488 441.5h3M629 584.5h3M723 585.5h3M521 662.5h3M822 566.5h3M394 444.5h2M247 515.5h3M397 568.5h2M883 670.5h3M353 522.5h3M453 586.5h3M589 564.5h3M461 600.5h3M411 476.5h2M677 497.5h3M557 531.5h2M297 617.5h2M374 520.5h2M613 555.5h2M547 588.5h3M259 601.5h2M359 511.5h2M612 449.5h3M602 521.5h3M512 570.5h3M301 486.5h2M737 596.5h2M457 539.5h3M364 632.5h2M357 581.5h2M382 533.5h2M227 524.5h2M628 573.5h3M511 493.5h3M566 568.5h3M345 522.5h3M348 607.5h3M302 586.5h3M499 577.5h2M395 560.5h2M376 588.5h2M280 531.5h3M227 603.5h3M347 520.5h3M524 516.5h2M582 607.5h3M657 518.5h2M440 585.5h3M940 602.5h3M465 555.5h3M301 501.5h3M829 528.5h3M385 576.5h3M438 467.5h2M316 476.5h3M717 654.5h2M300 643.5h2M658 533.5h2M915 568.5h2M484 622.5h2M591 628.5h3M294 574.5h2M714 609.5h2M243 516.5h3M278 526.5h2M363 503.5h3M399 529.5h2M926 601.5h2M701 614.5h2M687 579.5h3M627 568.5h2M402 631.5h3M500 601.5h3M670 537.5h3M374 610.5h2M450 642.5h2M989 597.5h2M395 621.5h2M461 531.5h3M290 609.5h2M299 476.5h3M657 568.5h3M321 610.5h2M620 512.5h2M536 522.5h3M297 561.5h3M318 594.5h2M597 608.5h3M494 593.5h2M461 601.5h2M379 586.5h2M220 502.5h3M366 553.5h2M296 585.5h2M363 522.5h3M501 602.5h3M254 548.5h3M240 586.5h3M689 621.5h3M498 537.5h2M571 553.5h3M263 572.5h2M538 632.5h2M440 580.5h2M299 519.5h2M309 440.5h2M247 542.5h3M228 589.5h3M457 565.5h2M341 589.5h2M218 501.5h2M654 462.5h3M546 571.5h3M463 538.5h3M407 656.5h2M266 553.5h3M494 550.5h3M333 563.5h2M457 597.5h3M398 548.5h3M437 610.5h3M266 627.5h2M420 544.5h3M417 673.5h3M285 518.5h2M432 544.5h2M361 491.5h2M562 488.5h3M528 608.5h3M322 591.5h2M277 441.5h3M258 600.5h3M510 602.5h2M550 521.5h3M232 646.5h3M782 691.5h2M212 618.5h3M324 622.5h3M575 573.5h3M239 483.5h3M491 529.5h2M364 557.5h2M310 535.5h3M549 496.5h3M559 507.5h3M332 549.5h3M294 568.5h3M293 510.5h3M623 589.5h3M411 539.5h2M447 632.5h2M554 550.5h2M500 507.5h3M241 562.5h2M287 545.5h2M578 624.5h2M231 533.5h2M591 621.5h3M358 542.5h3M269 592.5h3M1042 543.5h2M842 598.5h2M485 510.5h2M347 524.5h3M284 585.5h3M347 610.5h3M871 634.5h2M328 491.5h2M333 557.5h3M530 613.5h2M330 585.5h2M477 626.5h2M528 616.5h3M338 584.5h2M282 490.5h3M654 554.5h2M822 578.5h3M366 593.5h2M417 665.5h2M245 601.5h3M867 672.5h3M423 540.5h3M524 468.5h2M588 628.5h3M427 516.5h2M237 542.5h3M240 514.5h3M292 505.5h3M543 545.5h3M494 654.5h3M317 491.5h3M388 534.5h2M459 592.5h3M532 560.5h3M242 568.5h2M421 581.5h2M578 602.5h3M755 581.5h3M340 624.5h2M234 521.5h3M263 536.5h2M490 480.5h3M569 586.5h3M428 555.5h2M505 598.5h2M330 573.5h2M409 498.5h2M297 565.5h3M610 609.5h3M278 556.5h3M421 556.5h2M454 526.5h3M572 524.5h2M468 493.5h3M812 626.5h3M286 622.5h2M366 518.5h3M372 615.5h3M368 586.5h3M573 558.5h3M627 529.5h3M534 619.5h3M776 579.5h2M239 599.5h3M471 580.5h3M299 553.5h2M663 598.5h3M327 495.5h2M396 529.5h2M447 500.5h2M242 498.5h3M455 440.5h2M486 617.5h2M292 501.5h2M425 546.5h2M1140 606.5h3M717 515.5h2M419 612.5h2M483 438.5h3M366 575.5h2M348 538.5h2M650 646.5h3M711 642.5h3M386 572.5h3M549 517.5h2M477 533.5h3M763 600.5h2M546 595.5h2M591 687.5h2M266 584.5h3M594 548.5h3M337 513.5h2M372 557.5h2M645 512.5h3M508 511.5h3M592 611.5h3M413 568.5h2M242 625.5h3M268 598.5h3M296 622.5h2M394 556.5h2M338 525.5h2M369 538.5h2M279 602.5h2M263 575.5h2M435 562.5h3M263 446.5h2M352 643.5h3M399 618.5h3M487 552.5h2M434 565.5h3M307 578.5h2M352 628.5h3M615 581.5h3M381 549.5h3M269 591.5h2M310 597.5h3M324 548.5h3M615 676.5h3M296 626.5h3M337 546.5h2M317 639.5h3M777 590.5h3M749 647.5h3M346 565.5h2M299 559.5h3M346 564.5h2M508 500.5h3M369 542.5h2M459 413.5h2M948 572.5h3M472 567.5h2M1096 546.5h2M435 574.5h2M498 626.5h3M362 485.5h2M535 506.5h2M685 571.5h3M650 480.5h3M286 550.5h3M626 607.5h3M366 619.5h2M266 563.5h3M503 436.5h3M640 513.5h3M862 612.5h3M306 532.5h2M401 571.5h2M689 571.5h3M232 535.5h3M558 506.5h2M562 531.5h2M558 580.5h3M782 616.5h2M372 596.5h3M327 623.5h2M608 612.5h3M470 593.5h2M283 588.5h2M392 527.5h2M359 547.5h3M264 549.5h3M392 567.5h2M240 567.5h3M567 557.5h3M631 554.5h2M227 500.5h3M272 445.5h2M270 553.5h3M676 653.5h2M433 651.5h3M685 673.5h2M466 550.5h3M324 587.5h2M281 454.5h2M400 416.5h3M831 602.5h2M480 560.5h2M380 502.5h2M833 663.5h3M310 533.5h2M894 618.5h2M413 462.5h2M427 616.5h2M420 564.5h3M600 534.5h3M519 497.5h3M356 596.5h3M293 610.5h3M345 521.5h2M335 482.5h2M333 566.5h2M537 610.5h2M276 550.5h2M470 552.5h3M256 542.5h3M366 533.5h2M480 500.5h2M671 558.5h3M228 473.5h3M719 570.5h2M908 643.5h3M307 522.5h3M783 610.5h3M403 640.5h3M404 549.5h3M258 548.5h2M576 512.5h3M233 542.5h2M583 576.5h3M321 430.5h2M240 560.5h2M647 580.5h3M251 649.5h2M540 598.5h3M324 627.5h3M612 559.5h3M526 598.5h3M480 581.5h3M312 612.5h3M652 522.5h3M690 640.5h3M310 572.5h2M450 629.5h2M526 544.5h2M694 622.5h2M591 526.5h2M512 616.5h3M570 595.5h2M527 455.5h2M551 564.5h3M577 404.5h2M347 569.5h2M512 504.5h3M242 469.5h3M684 579.5h2M331 529.5h2M388 610.5h2M421 471.5h3M543 577.5h3M543 526.5h2M309 653.5h3M289 578.5h2M657 568.5h3M409 562.5h2M575 602.5h2M290 523.5h2M728 521.5h2M337 568.5h3M655 535.5h3M1102 608.5h3M272 612.5h3M305 443.5h2M439 544.5h2M347 590.5h3M340 537.5h3M566 590.5h2M364 593.5h3M453 677.5h3M629 567.5h3M738 640.5h2M314 532.5h3M273 516.5h2M453 544.5h2M617 581.5h2M387 619.5h2M324 553.5h2M614 535.5h3M340 507.5h3M372 595.5h3M1123 617.5h2M404 585.5h2M504 531.5h3M323 557.5h3M512 581.5h2M249 539.5h2M395 509.5h3M554 571.5h3M595 685.5h3M503 607.5h3M303 481.5h2M794 656.5h2M420 496.5h3M473 596.5h3M671 588.5h3M301 622.5h2M629 554.5h2M565 630.5h2M227 636.5h3M315 656.5h3M532 581.5h2M293 643.5h3M540 613.5h2M880 686.5h2M332 582.5h3M403 521.5h2M546 489.5h2M654 541.5h2M228 568.5h2M663 654.5h3M234 552.5h2M506 555.5h3M621 591.5h2M259 660.5h2M420 416.5h3M308 502.5h2M453 561.5h2M499 489.5h3M462 522.5h3M383 579.5h3M932 546.5h3M522 581.5h2M264 563.5h3M556 647.5h3M304 638.5h3M1029 690.5h2M214 582.5h2M437 574.5h3M371 571.5h3M758 518.5h3M343 467.5h2M273 551.5h3M310 582.5h3M506 662.5h3M647 572.5h3M654 617.5h2M507 502.5h3M676 567.5h3M261 588.5h3M590 579.5h2M406 548.5h3M322 495.5h2M679 524.5h3M687 584.5h3M369 612.5h2M455 551.5h3M312 528.5h3M773 646.5h2M227 427.5h3M328 563.5h2M373 606.5h2M496 556.5h2M300 498.5h3M835 552.5h2M648 490.5h3M646 657.5h2M329 554.5h3M678 641.5h2M619 485.5h3M505 564.5h3M696 540.5h3M370 514.5h2M302 592.5h2M426 556.5h3M640 575.5h3M537 536.5h3M564 588.5h3M725 649.5h3M646 633.5h3M578 497.5h2M309 553.5h2M287 681.5h2M904 560.5h2M240 568.5h2M704 593.5h3M450 439.5h2M405 485.5h2M325 592.5h2M417 516.5h3M618 494.5h3M269 533.5h3M371 582.5h3M367 442.5h3M359 425.5h2M447 636.5h2M649 606.5h3M643 441.5h3M247 620.5h2M614 634.5h2M560 576.5h3M260 540.5h3M501 562.5h3M245 604.5h3M524 632.5h3M258 482.5h3M506 553.5h2M588 563.5h2M323 625.5h3M753 657.5h2M337 645.5h3M449 555.5h2M311 556.5h3M301 634.5h3M775 627.5h2M271 554.5h3M375 609.5h3M448 435.5h3M291 577.5h2M521 523.5h2M633 512.5h3M267 547.5h3M315 572.5h3M483 604.5h3M639 572.5h2M326 540.5h3M722 598.5h3M246 605.5h3M282 516.5h2M437 572.5h3M491 515.5h2M560 583.5h3M368 516.5h3M283 538.5h3M370 632.5h2M483 545.5h2M478 536.5h2M462 508.5h3M721 553.5h2M477 478.5h2M397 543.5h2M347 503.5h3M730 580.5h3M732 571.5h3M585 666.5h3M478 489.5h3M311 506.5h3M660 637.5h2M343 518.5h2M525 578.5h3M429 436.5h2M277 557.5h3M517 485.5h2M508 613.5h3M681 583.5h2M214 560.5h2M560 488.5h2M861 618.5h3M417 540.5h3M692 448.5h3M839 598.5h2M285 458.5h2M414 507.5h3M233 583.5h3M507 480.5h3M280 669.5h3M494 624.5h3M258 526.5h2M272 580.5h3M939 693.5h2M638 575.5h3M414 549.5h2M250 542.5h3M644 496.5h3M231 578.5h3M254 473.5h2M229 514.5h3M725 593.5h3M453 577.5h3M450 551.5h3M404 584.5h3M441 462.5h2M412 623.5h2M749 599.5h2M447 542.5h3M663 534.5h2M300 580.5h2M519 509.5h2M663 512.5h2M353 635.5h2M728 590.5h2M241 601.5h3M677 682.5h2M553 541.5h2M436 610.5h3M284 609.5h3M753 540.5h3M323 612.5h3M237 686.5h3M458 638.5h2M335 508.5h2M284 636.5h3M785 558.5h2M280 606.5h3M440 533.5h2M617 600.5h2M569 640.5h3M351 570.5h2M441 603.5h3M487 542.5h3M587 664.5h2M509 508.5h3M484 461.5h2M394 680.5h2M336 519.5h2M402 580.5h3M377 489.5h2M617 566.5h3M250 578.5h2M360 441.5h2M331 588.5h2M257 488.5h3M649 691.5h3M507 473.5h2M215 647.5h3M345 563.5h3M318 559.5h2M437 604.5h2M877 551.5h3M1034 677.5h2M473 562.5h3M514 592.5h2M795 657.5h2M647 636.5h2M256 536.5h2M540 545.5h2M370 545.5h2M309 468.5h2M379 590.5h3M657 646.5h2M258 648.5h2M627 567.5h2M362 521.5h3M306 623.5h2M467 586.5h3M458 540.5h2M375 615.5h3M674 574.5h2M755 643.5h2M293 520.5h3M399 516.5h3M727 592.5h2M430 597.5h2M409 613.5h2M332 546.5h3M683 611.5h2M726 606.5h2M258 554.5h3M335 543.5h3M402 521.5h3M432 567.5h2M296 603.5h2M362 511.5h2M358 590.5h2M226 560.5h3M796 617.5h2M549 484.5h2M348 632.5h3M257 562.5h3M905 600.5h3M595 614.5h2M252 567.5h2M546 546.5h3M288 626.5h3M325 624.5h3M734 642.5h3M663 596.5h3M549 532.5h2M242 562.5h3M350 559.5h2M475 478.5h3M616 498.5h2M313 611.5h2M610 489.5h2M235 658.5h2M699 639.5h2M292 534.5h3M770 586.5h2M365 539.5h2M475 561.5h3M335 456.5h3M319 483.5h3M320 417.5h3M396 584.5h3M231 559.5h3M559 409.5h3M345 534.5h2M483 497.5h2M235 526.5h3M429 572.5h2M275 559.5h3M656 564.5h2M540 654.5h2M486 516.5h3M599 552.5h3M283 543.5h2M682 604.5h2M297 684.5h3M447 583.5h3M355 573.5h2M281 574.5h3M668 690.5h3M391 536.5h3M512 544.5h3M471 529.5h3M267 567.5h3M262 544.5h3M318 607.5h3M361 605.5h2M312 571.5h2M560 484.5h3M247 517.5h2M387 529.5h3M565 571.5h3M1096 556.5h3M766 608.5h2M547 529.5h2M342 583.5h3M687 545.5h2M289 492.5h3M647 638.5h2M488 512.5h2M382 578.5h2M502 523.5h2M377 521.5h2M712 655.5h2M450 679.5h3M232 547.5h3M795 572.5h2M508 484.5h2M299 486.5h2M515 538.5h3M430 611.5h2M428 541.5h3M331 582.5h2M1144 583.5h2M577 590.5h2M393 596.5h3M656 529.5h2M658 501.5h3M337 398.5h3M237 561.5h2M632 619.5h2M235 516.5h3M338 568.5h3M234 700.5h2M464 596.5h2M487 550.5h2M363 487.5h3M269 519.5h3M831 663.5h3M269 558.5h3M674 570.5h3M376 529.5h2M370 571.5h3M495 539.5h2M514 492.5h3M230 478.5h2M410 423.5h2M315 547.5h3M464 596.5h2M493 447.5h3M337 652.5h3M726 570.5h3M495 500.5h2M363 568.5h3M774 591.5h3M226 646.5h2M653 636.5h3M393 601.5h2M900 575.5h2M666 617.5h2M532 516.5h2M407 513.5h3M371 547.5h3M611 542.5h2M209 578.5h2M820 592.5h3M518 568.5h2M234 629.5h2M658 678.5h3M969 612.5h3M351 547.5h3M558 551.5h3M498 458.5h2M228 521.5h2M1048 552.5h3M351 538.5h3M280 537.5h2M531 463.5h3M380 597.5h2M542 548.5h2M290 507.5h2M259 515.5h2M678 524.5h2M512 587.5h2M253 570.5h3M441 499.5h2M335 542.5h3M356 537.5h3M644 484.5h3M667 659.5h2M506 463.5h3M619 521.5h2M431 586.5h3M506 532.5h3M333 646.5h2M415 540.5h2M305 594.5h3M330 566.5h2M321 651.5h3M386 543.5h2M471 576.5h2M582 599.5h3M244 555.5h3M1176 649.5h3M547 466.5h2M322 528.5h2M206 468.5h3M376 591.5h2M315 505.5h2M416 401.5h3M463 499.5h3M378 583.5h3M410 578.5h3M443 605.5h3M288 534.5h3M256 478.5h3M568 504.5h3M628 560.5h3M314 575.5h3M308 617.5h2M826 655.5h2M471 524.5h3M247 573.5h2M840 565.5h3M356 483.5h2M273 612.5h2M454 599.5h2M590 572.5h2M491 523.5h2M469 589.5h2M569 678.5h3M499 489.5h2M487 550.5h2M504 624.5h3M292 524.5h3M435 644.5h2M659 483.5h2M425 601.5h3M478 612.5h2M554 479.5h2M592 514.5h3M536 556.5h2M329 570.5h2M292 551.5h3M233 585.5h3M537 540.5h2M405 643.5h2M409 514.5h2M572 575.5h3M628 523.5h2M421 582.5h2M885 551.5h2M504 568.5h3M263 545.5h3M488 506.5h2M272 610.5h3M421 622.5h3M212 594.5h2M414 543.5h3M385 531.5h2M735 568.5h3M330 512.5h2M528 483.5h2M342 614.5h3M608 634.5h3M539 690.5h3M330 504.5h3M327 560.5h2M629 631.5h2M452 552.5h2M280 605.5h3M509 529.5h3M585 620.5h2M775 563.5h2M346 493.5h3M307 536.5h2M491 505.5h3M386 567.5h3M397 599.5h2M369 566.5h3M1184 650.5h2M309 591.5h2M334 584.5h2M261 557.5h2M239 496.5h2M293 548.5h2M301 615.5h3M543 626.5h2M449 533.5h3M387 610.5h3M602 591.5h3M301 471.5h3M423 617.5h3M281 533.5h3M520 503.5h3M608 523.5h3M475 511.5h2M604 623.5h2M782 519.5h2M387 534.5h2M400 490.5h2M659 589.5h3M422 534.5h3M371 568.5h2M423 457.5h3M459 566.5h2M315 614.5h3M642 612.5h3M374 578.5h3M769 531.5h2M248 598.5h3M366 422.5h2M505 598.5h2M331 580.5h3M347 525.5h2M400 513.5h2M749 493.5h3M659 612.5h2M365 538.5h3M484 468.5h3M557 583.5h2M738 595.5h3M575 589.5h3M620 553.5h3M975 542.5h3M480 601.5h3M294 613.5h2M653 561.5h3M459 585.5h2M853 653.5h2M370 510.5h2M417 580.5h2M254 641.5h3M399 619.5h3M349 600.5h2M572 565.5h3M377 555.5h2M664 619.5h3M606 593.5h2M497 425.5h3M325 594.5h3M283 471.5h2M453 540.5h2M200 507.5h2M220 612.5h3M493 541.5h2M484 464.5h3M295 511.5h2M229 538.5h3M241 638.5h3M342 574.5h2M542 586.5h2M435 620.5h3M368 610.5h2M298 556.5h2M472 587.5h2M383 505.5h3M446 600.5h2M330 541.5h2M409 686.5h3M399 553.5h3M789 586.5h3M394 572.5h2M239 567.5h2M306 645.5h2M778 553.5h3M314 600.5h3M419 523.5h2M512 436.5h3M272 547.5h2M311 577.5h3M336 648.5h3M588 531.5h3M652 507.5h3M449 516.5h2M235 616.5h3M284 607.5h2M404 656.5h3M587 519.5h3M548 582.5h3M234 523.5h3M448 561.5h2M294 567.5h3M351 490.5h2M388 633.5h2M769 532.5h2M366 518.5h3M335 536.5h3M697 645.5h3M320 595.5h2M575 515.5h2M302 581.5h3M978 536.5h2M583 585.5h3M810 575.5h2M285 572.5h2M448 470.5h3M533 490.5h2M450 575.5h2M404 584.5h2M385 622.5h3M704 533.5h2M407 482.5h2M297 552.5h2M259 534.5h2M491 541.5h2M375 464.5h2M929 569.5h3M339 563.5h2M371 668.5h2M268 532.5h3M662 522.5h2M448 670.5h3M485 432.5h3M426 624.5h2M324 640.5h2M682 561.5h3M270 519.5h3M381 610.5h3M368 684.5h3M280 548.5h3M551 449.5h3M248 572.5h3M359 645.5h2M356 545.5h2M468 587.5h2M829 629.5h3M790 547.5h3M833 550.5h3M506 531.5h2M583 609.5h3M297 626.5h2M242 574.5h2M416 651.5h3M505 617.5h2M304 621.5h2M579 533.5h3M765 514.5h3M411 665.5h3M199 476.5h2M461 617.5h3M391 498.5h3M323 605.5h2M347 533.5h2M326 590.5h3M628 483.5h2M470 531.5h2M556 601.5h3M681 521.5h2M244 551.5h2M378 633.5h2M742 439.5h3M415 569.5h3M1129 551.5h2M420 574.5h3M383 491.5h2M463 488.5h3M217 482.5h2M287 509.5h3M310 561.5h3M746 480.5h3M275 569.5h2M553 603.5h2M685 503.5h3M247 503.5h3M379 502.5h2M598 547.5h2M511 508.5h2M473 574.5h3M542 593.5h2M262 557.5h2M515 620.5h2M336 457.5h3M517 634.5h2M571 514.5h3M437 600.5h3M710 542.5h2M360 512.5h3M398 624.5h2M489 488.5h3M315 517.5h2M492 598.5h2M549 596.5h3M602 516.5h2M286 645.5h2M319 532.5h3M440 484.5h2M399 494.5h2M297 591.5h3M394 602.5h3M329 601.5h2M283 538.5h2M238 574.5h3M688 584.5h2M385 551.5h3M498 442.5h3M296 553.5h3M617 614.5h3M265 465.5h2M309 567.5h2M534 625.5h3M496 662.5h3M312 555.5h2M463 420.5h3M568 678.5h3M344 545.5h3M388 476.5h2M436 483.5h2M300 636.5h2M277 550.5h2M268 522.5h2M317 491.5h3M507 492.5h2M322 513.5h2M994 675.5h3M530 573.5h2M362 494.5h3M255 617.5h3M776 609.5h3M468 549.5h2M608 482.5h3M1058 600.5h2M311 562.5h2M284 529.5h3M299 566.5h2M457 578.5h2M329 575.5h3M349 488.5h2M420 554.5h2M402 682.5h3M1033 595.5h2M555 561.5h2M359 477.5h3M271 597.5h2M668 522.5h2M346 596.5h3M450 591.5h2M544 571.5h3M256 554.5h3M346 608.5h3M351 510.5h2M434 511.5h2M374 534.5h3M266 548.5h3M502 482.5h2M232 516.5h2M643 578.5h2M456 547.5h2M456 454.5h2M703 594.5h3M295 593.5h3M258 420.5h2M513 599.5h2M442 575.5h2M677 581.5h2M346 488.5h2M380 588.5h3M420 551.5h2M382 548.5h2M276 460.5h3M397 431.5h3M398 687.5h3M558 553.5h3M510 488.5h2M816 559.5h2M495 539.5h2M489 521.5h3M391 523.5h3M284 466.5h2M662 520.5h3M676 644.5h3M425 574.5h3M492 662.5h2M265 583.5h2M273 661.5h2M230 553.5h3M481 605.5h3M487 537.5h3M449 601.5h3M628 508.5h3M395 598.5h2M680 608.5h3M443 591.5h2M418 504.5h3M227 563.5h2M592 528.5h3M484 498.5h3M353 590.5h2M463 533.5h3M329 539.5h3M637 579.5h2M241 571.5h3M715 587.5h2M434 565.5h3M330 491.5h3M414 441.5h3M327 582.5h2M474 503.5h3M469 476.5h3M582 579.5h2M311 475.5h2M425 612.5h2M237 537.5h2M299 599.5h2M368 539.5h3M671 533.5h3M441 588.5h2M333 481.5h3M227 542.5h3M364 506.5h3M616 484.5h3M575 582.5h2M360 556.5h3M225 663.5h2M306 633.5h2M708 649.5h3M265 556.5h3M477 525.5h3M211 606.5h2M429 586.5h3M654 563.5h3M441 522.5h3M404 571.5h2M473 519.5h2M262 487.5h2M544 501.5h3M505 547.5h2M454 618.5h2M400 522.5h2M440 621.5h2M296 511.5h2M277 508.5h2M458 590.5h3M322 562.5h2M593 583.5h3M834 648.5h3M593 658.5h2M504 557.5h3M494 551.5h3M330 559.5h2M451 592.5h3M876 625.5h3M528 506.5h2M228 544.5h3M286 697.5h2M258 550.5h2M526 558.5h2M342 616.5h2M460 555.5h2M353 553.5h2M444 536.5h2M552 582.5h3M359 520.5h3M504 506.5h2M429 620.5h2M483 665.5h3M248 592.5h2M706 546.5h2M961 621.5h3M302 498.5h2M243 566.5h3M376 550.5h3M506 617.5h2M266 582.5h2M267 598.5h3M640 498.5h2M260 625.5h3M1061 576.5h3M414 522.5h2M530 480.5h3M263 596.5h3M632 578.5h2M278 445.5h2M407 521.5h2M479 447.5h3M248 573.5h2M804 571.5h2M693 636.5h3M236 496.5h2M360 519.5h3M239 599.5h2M405 450.5h2M281 552.5h2M556 699.5h3M325 565.5h3M367 616.5h2M539 539.5h2M508 608.5h2M1076 602.5h2M240 488.5h2M384 503.5h3M490 556.5h2M402 500.5h2M294 524.5h2M675 622.5h2M369 521.5h3M665 675.5h2M490 492.5h3M349 653.5h2M295 569.5h3M512 589.5h3M668 522.5h2M514 601.5h3M757 611.5h3M250 596.5h3M357 586.5h3M341 603.5h2M278 480.5h2M613 523.5h3M540 533.5h3M315 543.5h2M597 527.5h2M1085 665.5h2M279 595.5h3M553 489.5h2M282 513.5h3M575 519.5h3M322 667.5h3M378 535.5h3M324 634.5h3M229 543.5h3M468 497.5h2M324 562.5h3M678 506.5h2M536 520.5h3M340 599.5h2M285 599.5h3M665 605.5h2M507 601.5h3M418 656.5h3M412 683.5h3M677 514.5h3M1133 570.5h2M488 620.5h3M362 577.5h2M701 531.5h2M260 581.5h3M480 558.5h3M920 615.5h3M420 688.5h3M284 545.5h3M494 586.5h3M390 564.5h3M375 589.5h2M296 565.5h3M395 523.5h2M284 547.5h3M337 625.5h3M280 555.5h3M229 568.5h3M477 562.5h3M429 479.5h3M433 594.5h3M383 627.5h2M232 496.5h3M536 613.5h3M824 597.5h3M481 617.5h2M731 603.5h2M536 573.5h2M340 534.5h3M857 557.5h3M471 579.5h2M318 513.5h3M227 547.5h3M523 495.5h2M898 599.5h2M450 541.5h3M414 563.5h3M344 631.5h3M737 662.5h2M228 687.5h3M375 657.5h2M564 616.5h3M470 595.5h3M616 556.5h2M418 535.5h3M277 483.5h3M515 567.5h3M510 599.5h2M385 559.5h3M238 585.5h3M359 587.5h3M328 510.5h2M480 584.5h2M453 547.5h3M658 589.5h2M599 560.5h2M499 535.5h2M769 536.5h3M361 545.5h3M437 592.5h3M461 549.5h3M398 521.5h2M947 653.5h3M353 553.5h3M389 545.5h3M427 548.5h3M441 526.5h2M425 525.5h2M367 566.5h3M552 616.5h2M253 475.5h2M595 531.5h3M849 603.5h3M569 556.5h3M238 571.5h3M328 493.5h3M284 545.5h3M789 522.5h2M492 578.5h2M381 523.5h3M392 544.5h3M256 402.5h3M387 490.5h2M727 638.5h2M331 592.5h3M335 501.5h3M656 595.5h2M522 602.5h3M289 517.5h2M512 527.5h2M852 611.5h3M511 552.5h2M530 588.5h3M347 562.5h3M290 668.5h2M520 542.5h3M386 615.5h2M514 666.5h2M356 578.5h2M400 563.5h2M279 583.5h3M357 587.5h3M390 572.5h2M506 478.5h2M269 528.5h3M231 517.5h3M263 682.5h3M387 619.5h2M637 584.5h3M509 517.5h3M548 433.5h3M640 664.5h2M666 624.5h3M486 619.5h2M458 670.5h2M510 574.5h3M293 523.5h3M341 525.5h2M1046 634.5h2M643 602.5h2M414 574.5h3M259 503.5h3M302 597.5h2M466 454.5h3M345 542.5h3M334 522.5h2M447 540.5h3M242 492.5h2M281 686.5h2M360 588.5h3M403 410.5h2M226 565.5h2M489 567.5h3M240 626.5h2M354 612.5h2M465 544.5h3M333 544.5h2M280 627.5h2M328 582.5h3M280 526.5h3M560 556.5h3M297 639.5h2M721 650.5h3M372 572.5h3M281 531.5h2M255 602.5h3M242 573.5h2M508 507.5h3M323 491.5h2M323 584.5h2M757 547.5h2M661 680.5h3M611 577.5h2M546 587.5h3M765 632.5h2M605 491.5h2M551 584.5h2M516 486.5h3M398 575.5h2M588 576.5h3M1017 684.5h2M533 656.5h3M471 475.5h3M288 609.5h2M310 628.5h3M439 558.5h2M203 594.5h2M545 488.5h2M378 510.5h3M590 506.5h3M278 496.5h2M228 520.5h2M532 653.5h3M573 559.5h2M302 618.5h2M581 438.5h2M332 642.5h2M738 642.5h2M356 617.5h3M294 506.5h2M686 666.5h2M255 616.5h3M667 568.5h2M442 608.5h2M497 660.5h2M400 528.5h2M442 619.5h3M512 560.5h2M244 491.5h2M321 542.5h2M310 574.5h2M276 587.5h3M510 539.5h2M474 546.5h2M426 578.5h2M620 550.5h3M480 640.5h2M241 535.5h3M612 483.5h3M350 531.5h2M245 515.5h2M448 594.5h3M439 594.5h2M257 625.5h2M480 505.5h2M334 558.5h3M1013 637.5h3M509 588.5h3M720 580.5h3M341 543.5h2M656 588.5h3M385 516.5h3M730 663.5h3M356 577.5h3M514 497.5h3M282 637.5h3M235 480.5h2M432 610.5h2M341 604.5h2M693 650.5h3M429 595.5h3M308 525.5h3M736 581.5h2M515 611.5h2M691 543.5h2M973 608.5h2M676 518.5h2M712 527.5h2M418 516.5h3M507 591.5h3M721 599.5h2M518 525.5h2M294 587.5h2M605 594.5h3M245 527.5h3M330 569.5h2M433 631.5h3M707 639.5h2M233 543.5h2M449 577.5h3M593 435.5h3M252 612.5h3M483 570.5h2M277 608.5h2M266 582.5h2M332 508.5h3M606 508.5h3M873 539.5h3M714 656.5h2M583 502.5h3M368 584.5h2M667 473.5h3M427 553.5h3M447 637.5h3M513 628.5h3M232 602.5h2M471 452.5h2M330 611.5h3M662 622.5h3M409 611.5h2M461 563.5h2M608 645.5h3M256 601.5h3M263 616.5h3M530 645.5h2M587 533.5h3M298 607.5h3M513 490.5h3M798 533.5h3M307 620.5h3M384 568.5h3M488 464.5h2M513 491.5h2M549 604.5h3M452 529.5h3M402 590.5h3M623 646.5h2M228 534.5h2M532 556.5h3M658 542.5h3M266 539.5h2M251 579.5h3M717 502.5h2M623 651.5h3M416 523.5h2M289 427.5h2M641 531.5h3M419 610.5h2M537 489.5h2M266 561.5h2M711 432.5h2M458 617.5h2M542 536.5h2M396 566.5h3M531 544.5h2M547 575.5h3M568 500.5h3M340 628.5h3M291 628.5h2M537 653.5h3M271 524.5h2M915 642.5h2M357 557.5h3M476 570.5h3M413 525.5h2M405 545.5h2M361 548.5h3M333 616.5h2M450 549.5h2M686 480.5h2M318 656.5h2M496 426.5h2M297 531.5h3M360 616.5h3M299 598.5h2M335 576.5h3M348 542.5h3M748 657.5h3M315 588.5h2M250 609.5h3M344 539.5h2M306 584.5h3M594 575.5h2M903 556.5h2M862 417.5h3M809 600.5h3M494 654.5h3M567 589.5h3M372 491.5h2M483 501.5h3M426 589.5h3M360 542.5h2M367 500.5h3M257 610.5h3M291 574.5h2M629 551.5h2M340 508.5h2M544 573.5h2M230 594.5h2M600 493.5h2M300 586.5h3M398 514.5h3M238 581.5h3M480 588.5h2M865 562.5h2M359 527.5h3M315 521.5h2M341 587.5h3M842 615.5h2M681 492.5h3M452 515.5h3M299 547.5h2M436 604.5h2M378 554.5h2M443 547.5h2M588 444.5h2M442 536.5h2M420 560.5h2M680 571.5h2M740 606.5h2M704 583.5h2M843 635.5h2M601 591.5h3M503 505.5h2M460 594.5h3M559 596.5h2M246 591.5h3M458 537.5h2M402 640.5h2M700 537.5h2M1049 601.5h3M621 647.5h2M539 498.5h3M363 656.5h3M1058 623.5h2M508 592.5h2M561 565.5h2M760 585.5h2M480 546.5h3M224 490.5h2M292 602.5h3M743 641.5h2M580 540.5h2M283 594.5h3M520 588.5h2M263 554.5h3M382 550.5h2M791 697.5h2M282 510.5h2M664 414.5h2M744 641.5h3M461 607.5h3M671 583.5h2M573 552.5h3M261 486.5h3M505 616.5h2M248 548.5h3M619 519.5h2M424 491.5h3M399 517.5h2M638 606.5h2M805 625.5h2M344 511.5h3M366 620.5h2M504 573.5h3M437 621.5h3M364 534.5h2M465 552.5h2M361 606.5h3M263 553.5h2M666 633.5h2M260 490.5h3M937 527.5h3M531 583.5h3M813 525.5h3M1141 651.5h3M481 429.5h2M227 523.5h3M1037 557.5h3M509 509.5h2M514 490.5h3M324 477.5h2M361 526.5h3M267 598.5h3M227 550.5h3M418 620.5h3M311 543.5h3M467 583.5h2M475 498.5h2M430 472.5h2M461 571.5h3M239 635.5h2M568 497.5h2M473 610.5h2M284 592.5h3M704 635.5h2M283 536.5h3M390 579.5h2M393 532.5h3M443 563.5h3M358 561.5h2M345 543.5h2M634 582.5h2M236 542.5h2M446 568.5h2M372 623.5h2M559 668.5h2M494 502.5h2M306 598.5h2M777 564.5h3M364 556.5h3M717 528.5h2M289 605.5h2M637 614.5h2M377 558.5h2M368 596.5h2M592 650.5h2M519 605.5h2M498 571.5h3M345 536.5h2M459 544.5h3M400 472.5h2M694 668.5h3M260 514.5h2M293 624.5h2M1016 578.5h2M523 453.5h2M371 547.5h3M1026 605.5h2M311 524.5h2M246 598.5h2M451 540.5h3M744 638.5h3M298 518.5h3M374 608.5h2M510 559.5h3M574 551.5h3M465 589.5h2M465 451.5h3M418 530.5h3M224 598.5h2M336 565.5h2M337 499.5h3M535 565.5h2M299 552.5h2M486 557.5h3M513 568.5h3M285 561.5h2M393 545.5h2M382 554.5h3M346 604.5h3M372 558.5h2M457 565.5h3M325 565.5h2M307 659.5h3M281 524.5h2M238 466.5h3M251 506.5h2M629 479.5h3M251 524.5h2M647 530.5h2M373 601.5h2M670 542.5h2M328 506.5h2M610 577.5h2M483 568.5h3M247 495.5h2M201 441.5h3M544 569.5h2M258 557.5h3M859 565.5h3M305 648.5h3M381 448.5h3M500 598.5h2M286 552.5h2M325 544.5h2M281 566.5h3M388 534.5h2M549 620.5h3M454 556.5h2M229 562.5h3M375 498.5h2M446 492.5h3M539 576.5h3M979 602.5h2M318 574.5h3M524 547.5h2M373 677.5h2M318 595.5h2M416 550.5h2M651 555.5h3M316 679.5h2M227 597.5h2M447 593.5h2M270 565.5h3M457 556.5h3M654 504.5h2M343 523.5h3M959 537.5h3M340 538.5h3M558 508.5h3M411 571.5h2M379 549.5h3M345 532.5h3M492 600.5h3M318 575.5h2M545 545.5h3M307 532.5h2M453 630.5h2M749 679.5h3M641 597.5h3M398 578.5h2M241 606.5h2M583 650.5h2M644 481.5h3M427 541.5h2M939 623.5h3M236 574.5h3M398 655.5h2M586 632.5h3M648 689.5h2M614 621.5h3M358 547.5h2M238 548.5h2M568 585.5h2M327 595.5h2M520 619.5h2M964 567.5h2M385 627.5h2M301 586.5h2M350 517.5h2M888 597.5h3M539 562.5h3M470 499.5h2M856 525.5h3M288 618.5h3M370 549.5h2M791 553.5h2M394 599.5h3M462 585.5h2M776 649.5h2M301 626.5h3M375 612.5h3M479 595.5h3M518 529.5h3M464 647.5h2M276 583.5h2M264 588.5h2M697 619.5h3M629 539.5h3M650 651.5h2M508 602.5h2M658 526.5h2M493 550.5h2M1085 598.5h3M363 562.5h3M343 511.5h2M491 690.5h3M1094 620.5h3M486 483.5h2M388 584.5h3M677 480.5h3M772 574.5h3M489 592.5h2M399 455.5h2M705 524.5h2M329 585.5h3M702 513.5h3M263 514.5h2M233 553.5h3M681 613.5h2M453 582.5h3M567 463.5h3M817 604.5h3M361 583.5h3M622 489.5h2M747 667.5h2M410 486.5h3M255 510.5h3M464 626.5h2M621 574.5h2M369 647.5h2M509 598.5h2M553 602.5h2M506 550.5h2M373 516.5h2M345 611.5h3M478 525.5h3M401 534.5h3M240 532.5h2M275 572.5h3M412 525.5h3M352 585.5h2M459 560.5h3M214 545.5h2M273 592.5h2M696 519.5h2M495 527.5h3M781 607.5h2M358 556.5h3M420 641.5h3M424 448.5h2M1000 534.5h3M848 584.5h2M411 645.5h2M670 646.5h3M518 494.5h2M418 536.5h3M383 597.5h2M634 604.5h2M488 464.5h3M229 521.5h2M300 609.5h3M426 490.5h2M348 525.5h2M244 571.5h3M453 503.5h2M605 512.5h2M558 637.5h2M674 597.5h3M392 532.5h2M576 506.5h3M420 609.5h3M281 513.5h3M300 608.5h3M996 560.5h3M403 495.5h2M317 568.5h3M258 524.5h3M275 495.5h2M443 611.5h2M646 546.5h2M345 585.5h2M522 582.5h3M704 598.5h3M457 663.5h2M404 508.5h3M505 673.5h3M282 539.5h2M601 671.5h2M501 512.5h2M460 629.5h3M391 465.5h3M254 590.5h2M546 545.5h3M616 569.5h3M458 577.5h3M342 417.5h2M587 609.5h2M405 499.5h2M520 565.5h3M438 600.5h2M309 617.5h2M274 498.5h3M597 584.5h2M231 514.5h3M335 673.5h2M864 633.5h2M861 590.5h2M248 638.5h2M489 548.5h2M950 651.5h2M697 582.5h3M414 523.5h2M327 537.5h3M268 639.5h2M329 548.5h3M267 517.5h3M489 492.5h3M212 471.5h3M286 614.5h3M487 533.5h2M449 592.5h2M425 488.5h2M624 534.5h3M724 627.5h3M558 490.5h2M679 447.5h2M274 604.5h3M496 503.5h2M332 490.5h3M454 560.5h2M315 581.5h2M381 529.5h2M455 581.5h2M326 532.5h3M413 485.5h2M396 686.5h2M520 623.5h3M962 518.5h3M257 589.5h2M707 622.5h2M796 526.5h2M636 598.5h2M753 575.5h2M650 572.5h2M654 502.5h3M261 498.5h2M378 469.5h3M586 600.5h3M247 534.5h2M507 621.5h3M271 432.5h2M416 496.5h2M461 542.5h2M526 436.5h3M334 491.5h2M898 586.5h2M504 509.5h3M313 498.5h2M524 550.5h3M781 569.5h2M325 519.5h2M312 585.5h3M357 594.5h2M845 548.5h2M597 558.5h3M662 523.5h2M634 568.5h3M546 552.5h2M569 570.5h3M345 519.5h3M474 516.5h3M487 493.5h3M424 634.5h2M526 542.5h3M531 524.5h3M233 584.5h2M441 636.5h3M579 572.5h2M414 565.5h2M361 552.5h3M404 629.5h3M422 442.5h3M725 587.5h3M589 450.5h3M809 565.5h3M238 579.5h3M542 597.5h2M467 597.5h2M439 533.5h2M453 530.5h2M759 657.5h2M365 534.5h3M263 499.5h3M541 581.5h3M259 560.5h2M546 541.5h2M423 597.5h2M553 580.5h3M261 460.5h2M728 584.5h2M451 625.5h3M400 640.5h2M232 506.5h3M243 595.5h2M820 576.5h2M964 637.5h2M429 530.5h2M414 549.5h3M498 442.5h2M481 587.5h2M448 528.5h3M325 584.5h2M246 637.5h3M582 416.5h3M508 668.5h3M730 637.5h3M537 613.5h3M231 509.5h2M565 545.5h3M387 488.5h2M590 570.5h2M822 635.5h2M1022 621.5h2M281 601.5h2M310 580.5h2M505 561.5h3M599 560.5h2M1066 622.5h2M434 535.5h2M277 575.5h2M598 576.5h3M373 603.5h2M240 519.5h3M263 557.5h2M729 523.5h2M438 580.5h3M425 590.5h2M412 576.5h3M516 414.5h2M313 573.5h2M489 504.5h2M430 461.5h3M400 644.5h2M371 600.5h3M481 637.5h2M619 586.5h3M233 602.5h2M411 529.5h2M405 600.5h3M246 548.5h3M1059 537.5h2M554 417.5h2M390 521.5h2M476 531.5h3M480 579.5h2M368 577.5h3M340 574.5h3M514 613.5h3M554 502.5h2M425 542.5h2M540 605.5h2M649 562.5h2M369 638.5h2M682 656.5h3M614 544.5h2M342 615.5h3M231 581.5h2M240 645.5h2M396 564.5h2M314 510.5h2M615 602.5h3M254 630.5h3M477 588.5h3M441 557.5h2M655 572.5h2M444 604.5h3M623 599.5h3M539 649.5h2M571 606.5h3M352 552.5h2M677 642.5h3M227 571.5h2M805 685.5h3M612 665.5h3M380 594.5h2M520 536.5h2M312 623.5h2M252 586.5h2M388 507.5h2M271 559.5h2M354 571.5h2M775 625.5h2M1209 673.5h2M724 603.5h3M436 487.5h2M809 575.5h3M401 537.5h2M578 672.5h2M655 538.5h3M645 579.5h2M585 559.5h2M402 611.5h2M619 553.5h3M330 524.5h2M352 498.5h2M628 555.5h2M695 596.5h2M621 642.5h3M839 549.5h2M537 561.5h3M738 549.5h3M438 619.5h2M414 592.5h2M634 575.5h3M486 562.5h3M520 556.5h2M445 511.5h2M320 573.5h2M373 573.5h3M294 569.5h2M434 551.5h3M276 577.5h2M449 575.5h2M257 589.5h2M272 608.5h2M410 617.5h2M236 542.5h3M289 515.5h3M510 596.5h2M462 621.5h3M251 497.5h2M530 538.5h2M357 565.5h2M276 544.5h3M577 592.5h2M704 573.5h3M515 555.5h2M241 561.5h3M419 478.5h2M400 520.5h2M434 522.5h3M426 611.5h2M414 532.5h3M845 666.5h3M619 565.5h2M284 463.5h2M202 520.5h2M447 614.5h2M464 476.5h2M979 579.5h2M352 521.5h3M537 564.5h3M843 595.5h3M477 591.5h2M787 649.5h2M605 660.5h3M692 458.5h3M746 617.5h3M627 534.5h3M376 455.5h2M392 551.5h3M422 592.5h2M595 585.5h2M731 585.5h3M512 532.5h2M306 620.5h3M478 594.5h2M578 503.5h2M697 606.5h3M278 617.5h3M617 486.5h2M483 527.5h3M816 680.5h2M444 601.5h3M335 504.5h2M308 512.5h2M576 689.5h2M560 522.5h3M473 538.5h2M337 529.5h3M470 600.5h2M245 547.5h3M480 572.5h3M340 523.5h2M306 483.5h2M485 539.5h3M279 582.5h3M385 464.5h3M371 664.5h2M329 571.5h3M516 627.5h2M255 551.5h2M454 634.5h3M1017 613.5h2M263 558.5h2M417 543.5h2M918 502.5h2M338 571.5h2M229 682.5h3M737 650.5h2M249 461.5h3M397 509.5h3M703 587.5h3M432 611.5h3M461 587.5h2M584 547.5h2M402 588.5h2M365 515.5h2M766 630.5h2M361 534.5h3M362 566.5h3M359 594.5h3M564 597.5h2M562 555.5h3M446 573.5h3M709 508.5h2M328 533.5h2M367 623.5h2M701 569.5h2M249 564.5h3M361 539.5h2M509 636.5h2M569 681.5h2M238 541.5h3M447 526.5h2M256 515.5h3M481 597.5h2M503 527.5h3M240 610.5h3M242 500.5h3M516 490.5h3M415 431.5h2M344 649.5h2M249 518.5h2M561 565.5h2M329 578.5h2M490 601.5h3M876 659.5h2M378 544.5h2M376 502.5h3M439 564.5h3M226 515.5h3M482 528.5h2M440 444.5h2M405 610.5h3M313 584.5h2M270 414.5h3M414 576.5h2M319 629.5h2M255 557.5h3M251 552.5h3M262 519.5h3M517 578.5h3M579 559.5h3M278 622.5h2M644 601.5h2M1213 585.5h2M464 641.5h3M893 568.5h2M657 619.5h2M354 619.5h2M367 562.5h2M565 572.5h2M889 636.5h3M414 586.5h3M647 654.5h2M355 555.5h2M503 519.5h2M272 575.5h2M237 577.5h2M326 537.5h2M716 573.5h2M396 668.5h2M314 488.5h3M344 577.5h2M580 631.5h3M644 586.5h3M237 558.5h2M525 398.5h3M632 559.5h3M349 535.5h2M528 569.5h3M465 497.5h2M389 670.5h2M600 590.5h2M495 521.5h2M457 550.5h3M537 584.5h2M324 579.5h2M660 543.5h3M287 538.5h2M227 539.5h2M289 561.5h3M672 564.5h3M579 508.5h3M426 552.5h2M717 498.5h3M230 624.5h2M286 527.5h3M690 494.5h2M837 699.5h2M239 527.5h3M518 590.5h3M589 587.5h3M344 582.5h2M381 518.5h2M264 636.5h2M495 539.5h2M582 519.5h2M430 613.5h2M292 557.5h2M404 575.5h2M303 526.5h3M518 577.5h2M323 639.5h3M356 640.5h2M375 609.5h2M637 622.5h3M426 533.5h2M466 534.5h2M416 509.5h3M711 625.5h2M226 583.5h2M297 575.5h3M652 556.5h3M919 623.5h2M784 584.5h3M838 612.5h2M390 662.5h3M256 650.5h2M612 559.5h2M334 589.5h3M370 531.5h2M519 611.5h3M890 613.5h3M311 485.5h2M523 544.5h3M248 527.5h2M512 571.5h3M452 569.5h2M248 545.5h2M353 554.5h2M640 512.5h2M554 506.5h2M234 579.5h3M261 511.5h3M400 608.5h3M769 653.5h3M625 531.5h2M352 503.5h3M597 648.5h3M814 616.5h2M232 602.5h2M915 510.5h2M306 511.5h2M558 617.5h2M281 500.5h2M368 561.5h3M750 695.5h2M496 617.5h3M853 512.5h2M519 503.5h3M547 587.5h3M271 617.5h2M308 480.5h3M348 598.5h2M310 509.5h2M704 550.5h3M282 602.5h2M636 632.5h3M447 591.5h2M643 640.5h2M751 640.5h3M555 552.5h3M276 596.5h3M232 528.5h2M411 528.5h3M388 531.5h2M377 601.5h3M617 550.5h2M646 603.5h3M601 652.5h3M390 539.5h2M834 639.5h2M519 485.5h2M227 543.5h3M576 517.5h2M436 608.5h3M371 594.5h3M272 502.5h2M396 549.5h3M336 567.5h2M594 619.5h2M348 585.5h2M429 638.5h3M775 591.5h2M385 575.5h3M571 586.5h3M534 544.5h3M590 492.5h2M330 576.5h3M584 599.5h3M242 623.5h2M317 605.5h2M326 535.5h3M979 631.5h3M510 570.5h2M547 570.5h2M302 599.5h3M478 555.5h2M675 561.5h3M736 621.5h3M460 575.5h2M562 618.5h3M273 541.5h3M730 609.5h3M842 658.5h3M586 622.5h3M231 660.5h3M939 550.5h2M736 659.5h2M705 585.5h3M412 538.5h2M587 505.5h3M385 646.5h3M344 469.5h3M563 608.5h3M617 657.5h3M687 603.5h3M277 553.5h3M249 464.5h3M329 554.5h2M325 578.5h2M359 664.5h3M220 447.5h2M517 598.5h3M451 473.5h2M231 586.5h3M651 549.5h2M858 644.5h3M372 471.5h3M399 554.5h3M344 400.5h2M563 561.5h2M248 620.5h3M307 605.5h2M228 444.5h2M351 549.5h3M807 580.5h3M487 638.5h2M440 512.5h3M401 586.5h3M427 539.5h2M496 586.5h3M434 531.5h3M298 527.5h3M550 605.5h2M275 469.5h3M418 594.5h3M353 439.5h2M751 640.5h3M344 592.5h2M390 510.5h3M340 561.5h3M408 464.5h3M467 542.5h3M254 601.5h2M378 598.5h2M620 414.5h3M462 558.5h2M273 559.5h2M205 666.5h2M620 569.5h3M589 600.5h2M552 531.5h3M456 566.5h3M796 607.5h3M230 632.5h3M370 552.5h3M386 594.5h2M462 507.5h2M336 597.5h3M430 561.5h3M553 643.5h3M268 650.5h3M288 537.5h2M590 660.5h2M344 556.5h3M688 529.5h3M777 619.5h2M551 546.5h2M459 523.5h2M577 657.5h2M702 525.5h2M255 595.5h2M274 594.5h2M486 641.5h2M454 529.5h2M598 544.5h2M557 587.5h2M559 582.5h2M325 511.5h3M270 515.5h3M584 585.5h2M500 576.5h2M243 509.5h2M462 609.5h3M636 674.5h2M522 561.5h3M295 473.5h3M257 618.5h3M331 526.5h3M275 514.5h2M255 521.5h2M725 548.5h2M449 625.5h3M662 618.5h3M638 663.5h2M303 555.5h2M308 607.5h2M1015 611.5h2M518 588.5h2M520 579.5h2M772 568.5h3M281 676.5h2M525 626.5h3M219 539.5h2M250 599.5h2M426 515.5h2M531 548.5h2M292 504.5h3M305 578.5h2M284 487.5h2M394 536.5h3M232 523.5h3M592 460.5h2M666 535.5h2M395 517.5h3M357 616.5h2M346 565.5h2M563 632.5h2M464 579.5h3M693 674.5h2M429 554.5h3M259 549.5h2M602 558.5h2M505 549.5h2M695 488.5h3M454 570.5h3M334 647.5h2M910 551.5h3M401 456.5h2M255 578.5h3M889 626.5h2M568 527.5h3M412 492.5h2M282 620.5h3M549 627.5h2M374 528.5h3M244 495.5h2M499 588.5h3M229 543.5h3M558 436.5h3M237 427.5h2M467 513.5h2M772 550.5h3M436 564.5h2M493 476.5h2M510 511.5h2M241 590.5h3M446 533.5h3M384 586.5h2M370 513.5h2M400 511.5h2M447 416.5h2M421 658.5h2M643 483.5h2M747 642.5h2M435 458.5h3M310 544.5h2M469 572.5h3M284 548.5h2M650 524.5h2M541 543.5h3M536 580.5h2M661 516.5h2M258 510.5h3M1011 561.5h2M234 515.5h2M367 515.5h3M720 638.5h2M297 603.5h3M369 453.5h2M529 498.5h3M480 580.5h2M225 603.5h2M354 586.5h3M1165 645.5h3M340 576.5h2M470 587.5h3M286 555.5h2M899 606.5h2M448 574.5h2M344 544.5h3M617 617.5h3M323 511.5h3M321 591.5h3M446 602.5h2M485 518.5h2M412 540.5h2M350 532.5h2M325 549.5h3M580 583.5h2M1149 688.5h3M598 572.5h3M657 575.5h3M376 561.5h3M885 638.5h3M329 571.5h2M581 607.5h3M460 598.5h2M375 568.5h3M256 586.5h2M262 510.5h3M424 606.5h2M581 527.5h3M300 588.5h3M237 563.5h2M257 528.5h3M362 469.5h3M422 532.5h3M272 575.5h2M449 579.5h2M784 509.5h2M560 532.5h2M310 486.5h3M583 683.5h3M645 570.5h3M602 543.5h2M242 544.5h2M1025 686.5h3M568 556.5h3M318 580.5h2M318 486.5h2M503 487.5h2M433 545.5h3M335 665.5h2M249 618.5h3M443 558.5h3M313 553.5h2M374 671.5h3M469 538.5h2M265 552.5h3M614 638.5h2M405 408.5h3M894 660.5h2M773 585.5h3M292 587.5h3M252 492.5h2M486 588.5h3M310 544.5h2M267 625.5h3M575 627.5h3M294 508.5h3M253 539.5h3M358 589.5h3M516 534.5h3M375 507.5h2M375 469.5h3M869 604.5h3M264 525.5h3M372 521.5h2M395 610.5h3M1179 581.5h2M691 589.5h2M416 595.5h2M543 609.5h3M710 583.5h2M391 652.5h3M220 488.5h2M389 530.5h2M329 584.5h3M434 654.5h2M407 513.5h2M437 604.5h3M403 605.5h2M279 620.5h3M735 565.5h2M242 504.5h3M834 576.5h2M715 659.5h3M562 519.5h2M231 597.5h3M484 563.5h2M436 576.5h2M348 569.5h3M312 528.5h3M587 572.5h3M304 516.5h3M259 497.5h2M252 597.5h2M948 618.5h3M618 594.5h3M231 561.5h3M267 499.5h2M271 576.5h3M267 514.5h2M422 510.5h3M241 529.5h2M763 539.5h3M343 626.5h3M573 562.5h2M564 520.5h3M325 463.5h2M856 449.5h2M858 583.5h2M751 553.5h3M449 544.5h2M494 676.5h3M645 647.5h2M305 531.5h2M391 493.5h2M635 567.5h2M445 474.5h2M285 571.5h2M1053 556.5h2M727 564.5h2M641 555.5h3M543 578.5h2M474 570.5h3M301 489.5h2M420 502.5h2M483 534.5h2M700 566.5h2M557 558.5h3M472 561.5h2M538 535.5h2M296 594.5h2M680 681.5h3M405 475.5h3M496 634.5h3M354 574.5h3M434 505.5h2M507 608.5h3M284 541.5h2M282 572.5h3M567 575.5h2M600 647.5h3M662 604.5h2M608 600.5h2M452 398.5h3M567 568.5h3M312 536.5h2M561 552.5h2M485 417.5h2M249 529.5h3M801 566.5h3M634 532.5h2M491 565.5h2M285 546.5h2M379 555.5h3M469 448.5h2M622 510.5h2M594 620.5h3M478 585.5h3M625 461.5h3M423 595.5h2M974 594.5h2M278 584.5h3M274 554.5h3M631 577.5h3M359 555.5h2M753 504.5h2M361 538.5h3M707 624.5h3M702 543.5h3M412 569.5h3M681 583.5h3M352 578.5h3M367 574.5h3M605 596.5h2M756 621.5h2M438 599.5h2M514 517.5h3M429 583.5h3M596 525.5h3M236 547.5h3M450 503.5h2M285 618.5h2M487 603.5h2M266 493.5h3M294 541.5h3M671 613.5h3M388 580.5h2M367 522.5h2M903 665.5h3M286 572.5h3M397 496.5h3M356 593.5h2M199 595.5h2M429 549.5h3M322 614.5h3M469 486.5h2M580 517.5h2M249 533.5h2M480 447.5h2M722 590.5h2M490 457.5h3M678 550.5h3M461 645.5h2M547 649.5h2M1023 673.5h2M837 511.5h3M264 591.5h2M278 530.5h2M305 607.5h3M303 588.5h3M748 532.5h2M376 550.5h3M304 518.5h2M230 494.5h2M589 556.5h3M334 577.5h3M506 523.5h2M498 481.5h3M573 672.5h3M257 566.5h2M305 606.5h3M544 618.5h3M820 532.5h2M269 596.5h2M394 638.5h3M391 626.5h3M439 579.5h3M674 497.5h3M337 585.5h2M298 560.5h2M335 610.5h2M863 534.5h3M297 464.5h2M308 556.5h3M1140 594.5h3M248 537.5h2M619 608.5h2M625 615.5h2M737 495.5h3M400 549.5h3M431 565.5h3M763 568.5h2M991 598.5h3M526 557.5h2M297 528.5h3M351 530.5h2M653 620.5h3M227 616.5h2M401 544.5h3M268 465.5h3M987 572.5h3M822 636.5h3M697 627.5h2M392 622.5h3M234 472.5h3M483 599.5h3M237 540.5h2M561 689.5h2M229 527.5h3M347 607.5h3M251 488.5h3M364 540.5h2M259 548.5h3M406 654.5h3M884 555.5h3M457 587.5h3M289 544.5h3M510 471.5h2M506 649.5h2M273 513.5h2M682 646.5h3M387 479.5h3M536 551.5h3M539 457.5h3M503 590.5h3M515 504.5h2M342 520.5h2M278 530.5h3M611 588.5h3M364 573.5h2M1087 680.5h3M249 676.5h2M344 568.5h3M206 498.5h3M445 588.5h2M637 652.5h3M397 551.5h2M268 610.5h3M518 549.5h3M392 560.5h2M298 568.5h3M325 520.5h3M517 653.5h2M283 607.5h3M367 642.5h2M297 513.5h2M408 482.5h2M760 600.5h2M273 593.5h3M407 482.5h2M429 594.5h2M754 568.5h2M311 568.5h3M617 589.5h3M302 541.5h3M533 579.5h3M395 553.5h2M301 633.5h3M417 569.5h2M786 660.5h3M451 524.5h3M497 514.5h2M258 505.5h3M236 523.5h3M832 625.5h2M483 554.5h2M334 605.5h3M329 694.5h3M528 547.5h3M556 643.5h2M400 531.5h3M567 441.5h2M423 498.5h3M554 628.5h3M307 475.5h3M669 625.5h3M318 526.5h2M469 536.5h3M333 645.5h2M714 568.5h2M476 521.5h2M240 532.5h2M578 496.5h3M246 510.5h3M295 538.5h2M368 523.5h3M418 557.5h3M404 435.5h3M580 572.5h3M518 555.5h3M567 557.5h2M349 500.5h3M282 575.5h2M204 606.5h2M306 513.5h3M513 608.5h2M238 552.5h2M665 523.5h3M481 610.5h2M432 610.5h2M371 564.5h2M537 673.5h2M553 577.5h3M939 599.5h2M777 614.5h2M382 498.5h3M796 569.5h2M550 470.5h2M398 630.5h3M579 643.5h2M250 519.5h2M314 570.5h2M330 515.5h2M701 573.5h2M625 552.5h2M333 581.5h2M245 606.5h2M759 585.5h3M277 645.5h2M725 551.5h2M390 587.5h2M496 462.5h2M304 551.5h2M582 482.5h3M444 667.5h3M322 581.5h3M708 628.5h2M268 624.5h3M318 567.5h3M370 516.5h3M435 645.5h3M529 526.5h2M557 565.5h3M724 570.5h3M905 597.5h3M361 573.5h3M364 473.5h2M347 560.5h3M227 610.5h2M954 593.5h2M242 535.5h3M382 632.5h3M596 508.5h2M770 654.5h3M347 615.5h2M687 667.5h2M270 555.5h2M340 526.5h3M387 587.5h2M490 510.5h3M1193 602.5h2M487 575.5h2M521 557.5h2M419 595.5h2M923 594.5h3M338 523.5h3M311 591.5h3M387 588.5h2M551 510.5h3M445 515.5h2M566 537.5h2M556 575.5h3M237 573.5h2M236 589.5h2M708 487.5h3M245 560.5h2M322 535.5h3M683 521.5h2M251 485.5h2M434 554.5h2M400 560.5h2M405 566.5h2M420 530.5h2M445 567.5h2M401 615.5h2M678 519.5h2M523 688.5h3M422 689.5h3M552 626.5h3M330 601.5h2M479 573.5h3M811 584.5h3M381 531.5h3M613 562.5h2M491 574.5h2M598 522.5h2M500 579.5h2M433 540.5h3M519 547.5h2M376 535.5h3M477 622.5h3M344 526.5h3M366 515.5h2M227 577.5h2M374 587.5h3M397 442.5h2M352 489.5h2M365 599.5h3M256 518.5h3M522 508.5h3M264 513.5h3M423 538.5h3M317 495.5h2M466 489.5h2M595 685.5h3M519 584.5h2M440 539.5h3M855 630.5h2M736 557.5h2M681 543.5h3M476 504.5h2M687 552.5h3M374 513.5h2M307 552.5h3M298 485.5h2M271 611.5h3M284 558.5h3M312 579.5h2M332 585.5h2M344 644.5h2M618 646.5h2M387 435.5h3M241 455.5h3M296 600.5h3M328 618.5h3M250 499.5h3M511 546.5h2M317 405.5h2M353 499.5h3M672 429.5h3M541 570.5h2M228 616.5h3M406 619.5h3M236 486.5h2M1056 623.5h2M508 524.5h3M372 614.5h3M349 624.5h3M531 568.5h2M479 567.5h2M376 655.5h2M403 598.5h2M417 505.5h3M412 579.5h2M380 502.5h3M444 515.5h2M441 647.5h3M473 557.5h2M799 650.5h3M354 559.5h3M554 575.5h3M547 622.5h2M403 483.5h2M276 656.5h2M413 504.5h3M264 510.5h3M537 499.5h3M504 475.5h3M350 502.5h2M425 513.5h3M266 540.5h3M358 567.5h3M794 530.5h3M356 568.5h2M400 598.5h3M419 534.5h3M632 632.5h3M462 550.5h2M475 585.5h3M543 543.5h3M280 525.5h3M775 573.5h2M312 574.5h3M501 505.5h2M430 637.5h2M366 471.5h3M233 555.5h3M625 692.5h2M332 505.5h3M357 533.5h3M364 423.5h2M583 614.5h2M324 592.5h3M243 567.5h3M271 622.5h2M598 605.5h3M356 626.5h3M581 415.5h2M460 552.5h2M382 565.5h2M275 616.5h3M279 690.5h3M263 472.5h2M499 570.5h3M278 555.5h3M742 477.5h2M311 553.5h2M254 509.5h2M516 614.5h2M654 558.5h2M514 561.5h2M393 518.5h3M679 635.5h3M401 521.5h2M398 596.5h3M1197 620.5h3M551 645.5h3M579 559.5h3M211 515.5h3M353 564.5h3M356 558.5h3M608 628.5h3M254 495.5h3M284 528.5h2M701 592.5h2M256 482.5h2M541 595.5h3M242 569.5h3M621 569.5h2M281 547.5h2M254 560.5h2M309 621.5h3M336 518.5h3M717 643.5h3M608 517.5h3M595 562.5h3M539 503.5h3M369 440.5h3M749 542.5h3M948 541.5h2M254 515.5h3M305 630.5h3M604 543.5h3M445 529.5h3M285 563.5h3M242 631.5h3M360 510.5h2M470 514.5h2M285 587.5h2M490 566.5h2M676 612.5h2M490 701.5h3M356 531.5h3M419 515.5h2M666 554.5h3M827 629.5h3M976 611.5h3M596 538.5h2M506 527.5h3M586 587.5h2M463 562.5h2M647 546.5h2M640 538.5h2M228 591.5h2M316 507.5h2M431 568.5h2M406 439.5h3M405 557.5h3M581 579.5h3M751 528.5h3M235 541.5h3M297 532.5h2M509 598.5h3M443 546.5h2M309 597.5h2M264 634.5h2M271 507.5h2M748 507.5h3M558 536.5h2M561 595.5h3M577 449.5h2M486 573.5h2M419 600.5h2M358 538.5h3M505 435.5h3M230 502.5h2M375 524.5h3M457 519.5h3M541 481.5h2M269 555.5h2M476 581.5h2M445 655.5h3M499 526.5h3M546 407.5h2M321 555.5h2M473 614.5h2M305 487.5h3M664 597.5h2M452 606.5h3M394 459.5h3M670 559.5h3M516 520.5h3M342 580.5h2M240 523.5h2M423 558.5h2M289 622.5h3M447 490.5h2M382 506.5h2M635 631.5h3M230 536.5h3M314 560.5h2M542 617.5h3M430 509.5h2M910 599.5h2M396 589.5h3M328 594.5h3M1110 630.5h2M842 607.5h3M283 644.5h2M228 560.5h3M273 654.5h2M493 550.5h2M682 607.5h2M565 530.5h3M334 534.5h3M417 596.5h3M232 661.5h2M449 639.5h3M771 602.5h3M667 536.5h3M378 577.5h2M865 580.5h2M517 623.5h2M229 472.5h2M275 543.5h3M729 575.5h2M303 526.5h2M258 544.5h2M461 456.5h3M291 647.5h2M1115 600.5h3M479 407.5h3M432 604.5h2M403 657.5h3M249 558.5h2M731 626.5h3M583 549.5h3M411 657.5h2M447 630.5h2M605 587.5h3M947 622.5h3M331 597.5h3M483 518.5h3M305 510.5h3M465 575.5h2M332 544.5h3M398 662.5h2M607 523.5h3M543 428.5h3M538 636.5h2M712 593.5h3M460 512.5h3M441 620.5h2M561 652.5h3M582 662.5h2M329 503.5h3M434 670.5h2M298 584.5h3M270 610.5h2M421 516.5h2M750 644.5h3M920 607.5h2M266 533.5h3M290 557.5h2M501 608.5h2M521 518.5h3M255 596.5h2M504 517.5h3M366 578.5h3M480 620.5h3M960 590.5h3M251 500.5h2M504 517.5h3M383 589.5h2M273 492.5h2M445 541.5h2M300 632.5h2M343 576.5h2M515 591.5h3M317 547.5h2M394 602.5h3M605 493.5h2M325 524.5h3M225 607.5h3M502 509.5h2M370 570.5h3M308 557.5h3M600 604.5h3M412 514.5h3M540 477.5h3M298 542.5h3M311 584.5h3M237 329.5h2M282 349.5h2M290 359.5h2M379 345.5h3M381 366.5h3M409 321.5h3M422 326.5h2M330 384.5h2M341 391.5h3M357 395.5h3M363 392.5h2M370 381.5h2M661 179.5h2M658 186.5h2M662 278.5h2M529 270.5h2M468 282.5h2M495 319.5h2M605 330.5h2M656 339.5h2M484 340.5h2M514 341.5h3M512 349.5h3M614 351.5h3M641 349.5h2M594 361.5h2M626 367.5h2M526 364.5h2M468 373.5h3M460 379.5h3M466 382.5h3M494 376.5h3M509 379.5h3M529 378.5h3M564 386.5h2M633 380.5h3M630 387.5h3M630 392.5h2M637 390.5h2M693 383.5h2M473 393.5h3M490 395.5h3M523 395.5h3M908 181.5h2M779 235.5h2M844 282.5h2M725 347.5h2M791 354.5h2M944 352.5h3M798 373.5h2M777 386.5h3M758 394.5h2M788 395.5h3M287 704.5h3M311 704.5h2M312 714.5h3M353 712.5h2M355 723.5h2M254 723.5h2M402 712.5h2M418 709.5h2M435 711.5h2M441 721.5h2M430 702.5h3M437 702.5h2M455 714.5h2M458 706.5h2M589 709.5h2M616 719.5h2M597 730.5h2M668 708.5h3M677 705.5h3M672 714.5h2M716 707.5h3M731 705.5h3M731 710.5h2M727 713.5h2M659 730.5h3M697 731.5h2M739 741.5h3M750 741.5h2M786 703.5h3M772 712.5h2M825 719.5h2M932 713.5h3M946 702.5h2M947 717.5h3M1004 703.5h3M963 402.5h3M924 473.5h2M935 474.5h2M934 480.5h2M965 487.5h2M913 498.5h3M1071 474.5h3M1008 480.5h2M1018 485.5h2M1050 498.5h3M1112 464.5h3M1141 462.5h2" stroke="#000" stroke-width="3" shape-rendering="crispEdges"/>
<path d="M455 545.5h3M366 539.5h3M378 511.5h3M380 539.5h2M1019 578.5h2M503 551.5h3M527 555.5h2M361 536.5h3M530 552.5h3M274 549.5h2M244 552.5h2M663 571.5h2M226 525.5h2M956 595.5h2M639 525.5h3M602 551.5h3M242 554.5h3M309 553.5h3M662 566.5h3M405 537.5h3M500 542.5h2M274 541.5h2M300 547.5h3M435 540.5h2M583 500.5h2M456 543.5h3M267 548.5h2M681 571.5h3M281 534.5h3M409 549.5h3M479 525.5h2M356 546.5h2M399 549.5h2M708 577.5h2M415 549.5h3M455 541.5h2M911 574.5h2M338 537.5h2M719 532.5h3M374 544.5h2M353 554.5h2M700 550.5h3M250 551.5h3M681 556.5h3M640 486.5h3M719 575.5h3M247 553.5h2M322 536.5h3M594 553.5h3M407 542.5h3M218 539.5h2M538 550.5h3M614 562.5h2M927 577.5h2M286 553.5h2M328 542.5h2M653 492.5h3M261 497.5h2M337 550.5h3M414 545.5h3M399 542.5h3M457 554.5h3M684 562.5h3M503 557.5h2M515 552.5h2M482 547.5h2M311 529.5h2M413 526.5h2M1020 583.5h3M743 577.5h2M589 549.5h3M453 552.5h2M684 560.5h3M502 552.5h3M390 552.5h2M449 555.5h3M305 554.5h3M472 526.5h3M354 515.5h3M599 533.5h2M639 552.5h2M1088 588.5h3M647 568.5h3M247 538.5h2M558 525.5h3M622 557.5h3M688 543.5h3M433 548.5h2M425 552.5h2M451 555.5h2M287 555.5h2M855 576.5h3M1015 573.5h2M332 551.5h3M856 582.5h2M309 552.5h3M258 530.5h2M564 553.5h2M629 563.5h2M306 547.5h2M845 552.5h3M391 554.5h3M300 551.5h2M348 555.5h3M270 549.5h3M592 564.5h2M342 529.5h3M539 544.5h3M418 539.5h2M275 553.5h3M479 528.5h3M895 589.5h3M300 547.5h2M876 584.5h3M272 529.5h2M474 536.5h3M295 527.5h3M1123 585.5h2M460 544.5h2M688 572.5h3M547 560.5h2M413 536.5h3M331 547.5h3M688 557.5h3M705 576.5h3M601 554.5h2M620 565.5h2M240 553.5h2M314 552.5h2M463 549.5h2M255 522.5h3M481 529.5h3M825 541.5h2M371 539.5h2M537 544.5h3M307 547.5h2M612 564.5h3M722 569.5h3M628 569.5h3M409 542.5h3M369 541.5h3M258 541.5h3M660 570.5h2M733 580.5h3M465 527.5h2M586 556.5h3M318 548.5h2M580 558.5h2M327 553.5h3M561 539.5h3M227 525.5h2M384 554.5h3M322 521.5h3M239 534.5h3M331 548.5h3M760 518.5h3M349 529.5h2M271 552.5h2M523 552.5h2M592 526.5h2M367 554.5h2M769 579.5h3M541 531.5h3M454 553.5h2M722 580.5h3M622 557.5h2M488 525.5h3M327 554.5h3M447 522.5h2M497 545.5h3M722 562.5h2M803 588.5h3M248 535.5h3M449 526.5h2M799 588.5h2M405 553.5h2M579 506.5h3M318 547.5h3M687 574.5h3M295 524.5h2M332 539.5h3M325 540.5h3M282 547.5h3M524 550.5h3M655 571.5h3M288 539.5h2M306 543.5h2M390 528.5h2M348 552.5h2M506 555.5h2M272 537.5h2M477 542.5h3M438 537.5h2M272 535.5h3M413 529.5h2M380 535.5h3M251 548.5h2M359 541.5h2M509 557.5h3M692 543.5h3M841 581.5h3M567 560.5h3M395 521.5h3M285 538.5h2M532 557.5h3M472 545.5h2M675 552.5h3M329 518.5h3M517 554.5h3M262 547.5h2M352 531.5h2M405 532.5h2M619 562.5h2M368 545.5h3M496 548.5h3M1007 599.5h2M822 584.5h3M426 544.5h3M310 553.5h2M494 541.5h3M609 561.5h3M483 547.5h2M574 556.5h3M312 542.5h3M342 537.5h3M288 548.5h2M246 543.5h3M418 537.5h3M593 534.5h3M380 553.5h3M843 586.5h2M370 540.5h3M383 550.5h3M665 568.5h3M519 558.5h2M453 554.5h2M321 547.5h3M259 554.5h2M291 552.5h3M292 554.5h3M399 544.5h2M361 547.5h2M459 553.5h2M331 553.5h3M532 558.5h2M822 589.5h2M630 557.5h2M474 498.5h3M331 546.5h3M607 536.5h2M648 572.5h2M262 542.5h3M659 567.5h2M763 547.5h2M307 545.5h2M299 555.5h2M560 553.5h2M427 545.5h3M253 552.5h3M493 533.5h2M641 556.5h2M562 533.5h3M244 540.5h2M240 549.5h2M445 522.5h2M517 546.5h2M764 578.5h3M550 555.5h2M529 550.5h2M692 575.5h3M394 554.5h3M294 546.5h2M271 536.5h2M372 554.5h3M679 567.5h2M460 545.5h3M241 542.5h2M739 576.5h3M636 564.5h3M246 551.5h3M603 560.5h3M299 552.5h2M243 538.5h2M389 545.5h3M546 557.5h3M335 547.5h2M405 512.5h2M651 573.5h3M273 545.5h3M508 553.5h3M354 555.5h2M248 541.5h2M586 535.5h3M527 559.5h3M418 549.5h3M421 547.5h3M386 538.5h3M530 557.5h3M226 525.5h3M268 547.5h2M258 549.5h3M268 548.5h2M462 513.5h3M398 552.5h3M517 549.5h3M447 550.5h2M600 552.5h2M544 554.5h2M237 555.5h2M259 539.5h3M522 531.5h3M666 564.5h2M637 571.5h3M261 547.5h3M486 549.5h2M285 551.5h3M348 514.5h3M663 552.5h2M497 543.5h2M649 535.5h3M488 547.5h3M733 552.5h2M337 544.5h3M427 539.5h3M794 586.5h3M586 558.5h2M244 545.5h2M310 547.5h3M379 549.5h2M506 536.5h2M344 546.5h3M651 537.5h2M622 564.5h3M399 521.5h2M328 524.5h3M321 550.5h2M317 544.5h3M435 546.5h2M457 555.5h2M716 536.5h2M435 526.5h2M467 519.5h2M318 543.5h3M978 599.5h2M426 538.5h2M286 551.5h3M344 541.5h3M563 562.5h3M335 545.5h2M1075 602.5h2M466 518.5h2M608 549.5h2M486 553.5h2M534 558.5h3M389 541.5h2M623 563.5h2M620 545.5h3M619 561.5h2M501 545.5h2M611 525.5h3M615 566.5h2M320 544.5h3M242 542.5h2M764 583.5h3M387 546.5h3M255 543.5h3M685 554.5h2M654 556.5h3M493 526.5h3M266 539.5h2M684 573.5h2M430 549.5h2M259 523.5h3M296 540.5h3M282 549.5h2M684 551.5h3M708 573.5h2M785 585.5h3M358 540.5h2M478 550.5h3M494 546.5h2M374 548.5h2M229 519.5h3M248 533.5h2M256 553.5h2M414 548.5h2M397 549.5h3M234 530.5h3M248 551.5h3M383 532.5h3M511 521.5h3M438 547.5h3M579 554.5h3M464 554.5h3M259 550.5h2M267 546.5h2M372 544.5h3M488 546.5h2M680 561.5h3M696 576.5h3M867 579.5h2M674 525.5h3M393 520.5h2M465 548.5h3M248 539.5h2M808 583.5h3M480 556.5h3M241 546.5h3M708 560.5h2M554 550.5h3M1000 601.5h3M264 543.5h3M402 555.5h3M268 550.5h2M808 586.5h2M286 529.5h3M554 554.5h3M529 555.5h2M487 556.5h3M425 512.5h2M404 552.5h3M611 547.5h3M487 550.5h2M365 529.5h3M563 558.5h2M524 559.5h3M409 555.5h2M544 548.5h2M292 539.5h3M403 511.5h3M599 565.5h3M605 567.5h2M578 546.5h3M1167 608.5h3M387 531.5h3M751 578.5h2M595 560.5h2M584 563.5h3M357 552.5h3M261 533.5h2M590 546.5h3M249 523.5h2M518 552.5h2M229 548.5h3M300 548.5h2M411 543.5h2M646 571.5h3M348 522.5h3M767 582.5h3M810 554.5h3M577 557.5h2M368 553.5h3M415 545.5h3M908 587.5h3M469 546.5h3M483 504.5h2M468 530.5h3M288 542.5h2M1060 598.5h3M482 544.5h2M530 551.5h2M625 563.5h3M434 548.5h3M326 547.5h2M798 585.5h3M297 554.5h2M377 550.5h3M545 552.5h3M410 526.5h2M483 530.5h3M315 554.5h2M659 525.5h2M678 563.5h3M409 540.5h3M756 582.5h3M684 577.5h3M512 549.5h3M318 525.5h3M235 553.5h2M786 581.5h2M777 577.5h2M493 541.5h2M455 540.5h2M565 526.5h3M389 548.5h2M356 551.5h2M368 543.5h2M368 542.5h3M456 526.5h3M228 548.5h3M316 540.5h2M466 517.5h2M705 578.5h3M448 546.5h2M340 553.5h3M813 583.5h2M668 570.5h3M335 549.5h2M1074 605.5h2M540 551.5h2M331 545.5h2M491 536.5h3M360 540.5h3M770 577.5h2M493 536.5h3M244 549.5h2M444 548.5h2M458 519.5h3M632 558.5h2M814 582.5h2M530 552.5h3M476 538.5h3M452 548.5h2M294 546.5h3M567 538.5h3M437 533.5h2M390 545.5h2M576 552.5h3M372 554.5h2M545 551.5h3M359 542.5h2M302 525.5h3M465 530.5h2M756 562.5h2M301 517.5h3M285 543.5h3M356 545.5h2M673 567.5h3M417 516.5h2M381 547.5h2M378 550.5h2M360 546.5h2M459 544.5h2M395 537.5h3M285 549.5h3M566 541.5h2M287 535.5h2M458 530.5h2M430 549.5h3M229 530.5h2M325 552.5h3M616 504.5h3M650 551.5h3M676 567.5h3M281 530.5h3M573 546.5h2M370 553.5h2M317 548.5h2M303 554.5h2M698 544.5h2M964 566.5h2M462 539.5h3M811 559.5h2M280 547.5h2M218 534.5h2M419 542.5h2M715 564.5h3M442 550.5h2M331 554.5h2M763 576.5h2M510 542.5h2M368 509.5h2M475 537.5h2M513 554.5h2M255 553.5h2M461 551.5h3M488 521.5h2M258 541.5h3M298 547.5h2M236 544.5h2M315 551.5h3M236 555.5h2M479 522.5h3M629 564.5h3M268 549.5h3M693 571.5h2M323 541.5h3M199 539.5h3M399 551.5h3M348 545.5h2M372 540.5h3M356 545.5h3M599 557.5h2M378 545.5h2M651 564.5h2M528 542.5h3M532 557.5h3M590 563.5h3M295 544.5h3M774 578.5h3M471 550.5h3M230 539.5h3M305 538.5h3M742 582.5h3M505 549.5h2M211 546.5h3M265 554.5h2M866 593.5h3M312 549.5h3M412 531.5h2M466 548.5h3M226 541.5h3M400 551.5h2M474 542.5h2M238 546.5h2M432 540.5h2M594 565.5h2M517 557.5h2M310 549.5h3M411 553.5h2M299 548.5h3M392 554.5h3M369 547.5h3M405 541.5h2M559 505.5h2M300 536.5h3M791 585.5h2M589 539.5h2M842 581.5h3M374 520.5h3M499 541.5h2M524 527.5h2M877 576.5h3M539 544.5h2M443 524.5h3M286 544.5h2M603 559.5h3M760 581.5h2M512 550.5h3M451 555.5h2M228 549.5h3M1068 594.5h3M654 566.5h2M503 553.5h2M439 539.5h3M550 521.5h3M671 571.5h2M369 527.5h3M287 551.5h2M374 547.5h3M276 550.5h2M418 529.5h3M577 550.5h3M383 551.5h3M420 555.5h2M297 555.5h3M908 578.5h3M302 555.5h2M727 557.5h2M330 548.5h3M718 563.5h3M288 546.5h2M492 527.5h3M477 533.5h2M288 535.5h2M487 518.5h3M452 543.5h2M709 574.5h2M260 537.5h2M432 547.5h2M232 523.5h2M645 567.5h2M247 546.5h2M669 571.5h2M560 546.5h2M789 575.5h2M458 541.5h3M267 524.5h3M562 552.5h2M239 550.5h3M272 544.5h3M351 544.5h2M454 555.5h2M264 550.5h3M446 530.5h2M307 555.5h3M340 553.5h2M786 577.5h3M463 541.5h3M1110 528.5h3M550 536.5h2M387 546.5h3M645 476.5h2M528 553.5h3M333 549.5h2M347 546.5h2M367 529.5h3M386 546.5h2M769 575.5h2M743 574.5h3M247 539.5h2M406 545.5h2M291 531.5h2M627 529.5h2M441 542.5h2M409 546.5h3M578 552.5h3M667 562.5h3M225 537.5h3M289 532.5h2M256 537.5h3M815 567.5h3M371 553.5h3M359 544.5h3M352 524.5h3M293 549.5h2M303 553.5h3M376 543.5h2M731 547.5h2M390 525.5h3M252 548.5h3M372 539.5h2M399 550.5h3M610 560.5h3M544 558.5h2M456 538.5h2M352 526.5h2M269 536.5h3M302 553.5h3M371 555.5h3M686 559.5h2M229 549.5h3M394 509.5h3M518 558.5h2M263 543.5h2M432 533.5h2M612 560.5h3M465 551.5h3M368 550.5h2M742 556.5h2M442 528.5h2M472 548.5h2M364 542.5h3M595 557.5h2M367 539.5h2M471 544.5h2M402 553.5h3M398 549.5h3M314 527.5h2M339 539.5h2M447 552.5h2M460 546.5h3M314 555.5h3M516 558.5h2M727 538.5h3M505 557.5h2M489 536.5h3M637 566.5h2M490 548.5h3M327 537.5h2M274 541.5h2M341 550.5h3M423 543.5h3M351 552.5h2M292 548.5h2M797 583.5h2M687 567.5h2M278 552.5h2M420 542.5h2M1079 597.5h2M752 581.5h2M334 532.5h3M304 553.5h2M311 548.5h2M224 554.5h2M627 549.5h3M701 544.5h2M232 544.5h2M733 572.5h3M344 541.5h2M370 540.5h3M535 542.5h3M256 530.5h2M608 554.5h3M298 544.5h2M253 550.5h2M366 552.5h2M311 552.5h3M377 552.5h3M251 552.5h2M394 544.5h3M556 505.5h2M374 538.5h2M416 514.5h3M357 554.5h3M302 546.5h2M663 538.5h3M488 553.5h2M556 537.5h2M448 529.5h2M493 550.5h3M396 545.5h2M434 553.5h3M491 553.5h3M359 536.5h2M370 555.5h3M254 527.5h2M607 562.5h3M279 534.5h3M429 544.5h3M366 539.5h3M260 533.5h2M402 540.5h3M454 547.5h2M556 550.5h3M263 533.5h3M386 535.5h3M867 569.5h2M442 546.5h2M414 541.5h3M440 551.5h3M265 554.5h2M827 582.5h3M305 552.5h2M530 548.5h2M302 534.5h3M470 552.5h2M260 546.5h2M291 544.5h2M538 550.5h2M274 546.5h2M454 549.5h2M491 547.5h3M552 535.5h3M630 558.5h3M564 557.5h3M497 553.5h2M384 551.5h2M536 553.5h2M313 547.5h2M339 545.5h3M335 542.5h2M340 547.5h2M359 547.5h3M531 557.5h2M882 583.5h2M473 551.5h3M758 581.5h3M453 527.5h2M469 550.5h3M420 555.5h2M274 555.5h2M576 550.5h3M321 534.5h2M359 528.5h2M203 550.5h3M371 541.5h3M431 530.5h2M339 548.5h3M311 545.5h2M496 554.5h3M480 527.5h2M467 522.5h2M370 525.5h2M331 550.5h3M430 540.5h2M338 529.5h3M308 525.5h3M505 550.5h3M381 546.5h2M258 520.5h3M729 571.5h3M358 545.5h3M367 541.5h2M430 532.5h2M580 545.5h2M533 548.5h2M296 550.5h3M509 534.5h2M387 553.5h2M624 562.5h2M973 597.5h2M916 580.5h2M535 504.5h3M415 554.5h2M595 557.5h2M727 560.5h3M403 543.5h2M299 538.5h2M333 548.5h3M375 549.5h3M372 528.5h3M418 525.5h2M336 536.5h2M470 550.5h2M279 538.5h2M473 545.5h2M335 551.5h2M467 546.5h3M316 536.5h2M476 545.5h2M398 527.5h3M714 575.5h2M295 534.5h2M380 550.5h2M391 545.5h3M380 534.5h3M372 526.5h3M491 541.5h3M227 527.5h2M386 539.5h2M392 543.5h3M679 571.5h3M853 558.5h3M628 559.5h3M655 554.5h3M1037 596.5h2M1096 599.5h3M506 556.5h2M248 544.5h2M677 557.5h3M433 547.5h3M234 550.5h3M289 543.5h2M459 538.5h2M549 554.5h2M870 594.5h3M628 568.5h3M712 570.5h2M247 545.5h3M406 550.5h2M618 552.5h2M622 545.5h3M308 541.5h2M475 538.5h2M324 541.5h2M283 548.5h3M641 568.5h3M381 511.5h3M724 558.5h3M237 544.5h2M769 553.5h2M620 565.5h3M425 542.5h3M450 532.5h2M340 538.5h2M444 537.5h3M560 559.5h3M538 555.5h2M472 552.5h3M279 540.5h3M339 513.5h2M914 595.5h3M380 550.5h3M387 522.5h2M392 549.5h2M666 564.5h2M386 553.5h3M469 553.5h3M389 552.5h3M312 541.5h3M350 548.5h2M316 550.5h3M615 564.5h2M1125 602.5h3M590 558.5h2M441 513.5h2M485 543.5h3M439 549.5h3M665 562.5h2M279 555.5h2M240 549.5h3M553 558.5h2M418 536.5h2M575 557.5h2M765 578.5h3M302 555.5h2M583 559.5h3M561 544.5h2M501 547.5h3M386 521.5h2M486 556.5h3M449 536.5h3M260 516.5h2M471 538.5h2M200 552.5h3M358 551.5h2M528 548.5h3M742 574.5h2M708 489.5h3M360 552.5h2M205 551.5h3M741 581.5h3M267 550.5h2M536 548.5h3M310 542.5h3M650 545.5h2M263 548.5h2M812 567.5h2M270 539.5h2M491 555.5h3M670 573.5h2M291 520.5h3M397 553.5h3M346 545.5h3M799 576.5h3M489 556.5h3M735 567.5h2M989 581.5h3M468 553.5h2M616 563.5h3M440 554.5h3M400 543.5h3M946 596.5h3M377 540.5h2M385 539.5h3M365 516.5h2M315 554.5h2M368 551.5h2M337 549.5h3M679 559.5h3M578 562.5h2M465 549.5h2M625 564.5h2M573 529.5h2M814 582.5h2M289 545.5h3M347 554.5h2M675 484.5h2M370 541.5h2M207 542.5h3M325 534.5h2M293 543.5h2M510 542.5h2M698 549.5h3M405 544.5h2M451 541.5h3M374 552.5h2M330 546.5h3M251 536.5h2M1009 591.5h3M412 551.5h3M556 549.5h3M490 545.5h2M908 592.5h2M674 524.5h3M583 561.5h2M367 546.5h2M1051 603.5h3M287 534.5h2M481 548.5h2M435 555.5h2M243 554.5h2M630 570.5h2M308 554.5h3M436 538.5h2M428 550.5h2M365 530.5h3M376 535.5h3M597 564.5h3M780 572.5h2M526 549.5h3M450 551.5h3M300 538.5h2M233 540.5h3M501 553.5h2M571 480.5h3M657 562.5h2M353 536.5h3M481 550.5h3M376 550.5h3M269 539.5h2M578 528.5h3M778 577.5h3M410 547.5h2M577 521.5h2M663 571.5h3M248 547.5h2M510 557.5h3M360 534.5h3M388 519.5h3M608 543.5h3M342 548.5h2M688 531.5h2M628 524.5h2M232 545.5h3M302 545.5h2M949 584.5h3M360 540.5h2M806 566.5h3M541 552.5h3M436 543.5h2M372 548.5h3M465 541.5h3M452 554.5h2M307 542.5h2M617 561.5h2M886 591.5h3M220 548.5h2M649 557.5h2M924 576.5h2M502 555.5h3M400 536.5h3M303 550.5h3M317 549.5h2M946 586.5h3M272 552.5h2M543 513.5h2M481 545.5h3M435 549.5h2M463 552.5h3M863 578.5h3M466 550.5h2M459 546.5h3M500 548.5h2M532 547.5h3M462 554.5h2M596 559.5h2M874 589.5h3M545 553.5h2M727 489.5h2M288 547.5h3M430 542.5h2M418 550.5h3M628 544.5h3M362 537.5h3M362 545.5h2M429 535.5h3M314 550.5h3M422 539.5h2M489 545.5h3M328 514.5h2M305 552.5h3M575 559.5h3M674 567.5h3M493 537.5h3M550 542.5h3M264 533.5h2M514 552.5h3M460 549.5h2M225 514.5h2M341 544.5h2M705 557.5h3M331 549.5h3M310 545.5h3M467 543.5h2M279 540.5h2M396 547.5h2M556 543.5h3M302 538.5h3M424 539.5h3M252 523.5h3M371 550.5h3M724 572.5h2M449 550.5h2M653 566.5h2M500 532.5h3M385 553.5h3M520 536.5h2M615 563.5h2M447 555.5h2M499 555.5h3M743 561.5h3M332 548.5h3M522 553.5h2M556 560.5h2M722 564.5h3M422 540.5h3M644 550.5h3M579 563.5h2M449 549.5h3M328 551.5h2M389 553.5h3M493 545.5h2M444 543.5h2M605 565.5h3M548 550.5h2M451 548.5h3M732 581.5h3M380 543.5h3M493 542.5h2M340 548.5h3M794 580.5h2M625 569.5h3M291 542.5h3M846 588.5h2M522 556.5h2M385 544.5h3M308 527.5h2M367 529.5h2M479 511.5h2M573 556.5h2M500 528.5h2M399 542.5h3M596 549.5h3M500 554.5h3M522 504.5h2M338 548.5h2M401 534.5h2M296 541.5h3M413 516.5h2M318 526.5h3M417 546.5h3M411 552.5h2M784 582.5h2M379 539.5h3M253 544.5h2M411 550.5h3M511 555.5h2M493 552.5h2M654 565.5h2M596 556.5h3M405 542.5h2M386 548.5h3M234 532.5h3M564 558.5h3M245 538.5h2M399 552.5h2M365 549.5h2M532 543.5h3M349 529.5h3M327 533.5h2M876 592.5h3M452 536.5h3M333 543.5h3M650 569.5h3M278 552.5h3M812 586.5h3M336 553.5h2M646 565.5h2M412 548.5h3M757 575.5h2M286 539.5h2M263 554.5h3M687 529.5h3M394 542.5h3M251 543.5h3M542 555.5h2M639 564.5h3M600 559.5h3M229 549.5h2M686 564.5h2M426 546.5h2M461 555.5h3M345 524.5h2M399 527.5h2M269 554.5h3M534 551.5h3M392 548.5h3M858 565.5h3M244 550.5h2M546 546.5h2M347 547.5h2M486 523.5h2M265 528.5h3M604 556.5h3M301 545.5h3M343 524.5h3M346 551.5h2M403 535.5h2M663 533.5h3M239 551.5h2M532 557.5h3M503 557.5h2M327 548.5h3M379 548.5h2M276 543.5h2M766 584.5h3M660 552.5h3M727 581.5h3M487 556.5h3M419 546.5h2M472 529.5h2M570 539.5h3M463 521.5h3M740 550.5h2M856 586.5h3M234 534.5h2M577 544.5h2M423 535.5h3M266 537.5h3M291 550.5h3M605 536.5h3M489 533.5h2M353 550.5h3M843 569.5h2M521 545.5h2M704 566.5h2M416 547.5h2M512 540.5h2M330 552.5h2M488 541.5h2M603 561.5h2M360 546.5h2M430 540.5h3M507 549.5h3M725 560.5h2M285 549.5h3M448 554.5h3M314 537.5h2M471 542.5h3M344 544.5h2M479 535.5h3M495 519.5h3M618 559.5h2M518 555.5h3M443 546.5h3M510 543.5h3M237 551.5h3M322 547.5h3M671 574.5h2M409 532.5h3M562 510.5h2M610 564.5h3M660 570.5h3M370 547.5h2M1072 595.5h2M495 545.5h3M305 552.5h3M724 577.5h3M313 546.5h2M490 534.5h3M383 541.5h2M605 555.5h3M473 497.5h3M503 541.5h3M543 557.5h2M709 555.5h2M336 542.5h3M314 534.5h2M441 536.5h3M306 549.5h2M385 545.5h2M764 561.5h3M490 551.5h3M329 546.5h3M352 550.5h3M228 554.5h2M614 549.5h3M255 534.5h2M312 538.5h3M339 547.5h2M639 558.5h2M292 549.5h2M283 547.5h3M229 548.5h3M834 584.5h3M381 543.5h3M443 548.5h2M358 532.5h3M280 541.5h2M442 544.5h3M582 560.5h2M443 526.5h3M687 567.5h2M763 572.5h2M553 544.5h2M492 520.5h2M290 541.5h2M300 544.5h3M351 551.5h3M257 549.5h2M443 548.5h2M451 554.5h3M321 524.5h2M598 559.5h3M533 556.5h2M438 541.5h2M268 547.5h2M253 539.5h2M403 542.5h2M543 539.5h2M1092 578.5h3M517 550.5h3M228 512.5h2M761 580.5h3M1094 607.5h2M607 521.5h3M336 555.5h2M340 550.5h2M889 591.5h3M595 551.5h3M262 532.5h2M352 555.5h2M459 552.5h3M538 540.5h3M491 553.5h3M538 559.5h3M298 552.5h3M317 553.5h3M363 539.5h3M370 546.5h2M637 562.5h2M293 552.5h3M739 581.5h3M464 550.5h2M512 513.5h2M342 525.5h2M273 551.5h3M652 556.5h2M622 568.5h3M605 550.5h2M436 540.5h3M760 573.5h3M365 550.5h2M357 553.5h2M315 551.5h2M365 539.5h3M298 549.5h2M712 552.5h2M828 581.5h2M417 544.5h2M489 550.5h3M803 583.5h3M550 560.5h3M270 549.5h3M470 550.5h3M817 567.5h2M619 545.5h3M694 574.5h3M1034 597.5h3M380 549.5h3M561 525.5h3M529 546.5h2M495 528.5h3M690 572.5h3M310 546.5h2M420 550.5h2M430 536.5h2M273 537.5h2M477 550.5h2M308 554.5h2M563 555.5h3M253 550.5h3M498 557.5h3M616 538.5h3M688 567.5h2M297 542.5h3M470 522.5h2M328 525.5h2M311 551.5h3M1101 577.5h2M494 539.5h3M649 557.5h3M468 543.5h3M569 521.5h3M664 531.5h2M349 526.5h2M714 549.5h3M711 548.5h2M734 566.5h2M386 547.5h2M790 582.5h3M550 546.5h2M430 544.5h2M528 526.5h3M659 555.5h2M217 554.5h3M447 539.5h3M404 539.5h3M273 534.5h2M429 548.5h2M350 544.5h2M494 544.5h2M275 547.5h2M725 565.5h2M471 552.5h3M338 553.5h3M505 550.5h3M562 557.5h3M766 579.5h2M688 569.5h3M413 525.5h2M617 566.5h2M720 572.5h3M427 554.5h2M274 546.5h2M319 546.5h2M504 545.5h3M380 550.5h2M300 550.5h2M469 555.5h3M534 554.5h2M334 522.5h3M662 542.5h2M471 555.5h3M255 537.5h2M468 553.5h3M834 589.5h3M263 542.5h3M659 572.5h2M293 549.5h2M314 522.5h2M705 578.5h2M500 543.5h2M426 538.5h2M419 554.5h3M415 514.5h3M440 533.5h3M575 551.5h3M291 554.5h2M360 554.5h2M430 547.5h2M422 547.5h2M268 538.5h2M374 553.5h3M393 547.5h2M328 533.5h2M382 554.5h2M569 557.5h3M426 543.5h3M440 530.5h3M508 547.5h2M1072 599.5h2M245 545.5h2M350 551.5h2M592 529.5h3M384 553.5h3M486 500.5h3M336 543.5h2M628 537.5h2M485 542.5h3M328 545.5h3M840 583.5h3M231 538.5h2M705 568.5h2M425 551.5h3M840 570.5h3M249 533.5h2M487 532.5h2M460 532.5h2M230 546.5h2M423 549.5h3M887 581.5h3M530 553.5h3M226 553.5h2M439 553.5h2M564 562.5h3M704 576.5h3M424 537.5h2M651 526.5h2M277 542.5h3M508 554.5h3M397 555.5h2M750 582.5h2M344 517.5h3M321 535.5h2M513 541.5h3M685 575.5h3M332 536.5h2M494 553.5h2M578 559.5h2M291 526.5h2M495 556.5h2M404 551.5h2M617 566.5h2M623 561.5h2M455 552.5h3M287 548.5h2M326 549.5h2M275 548.5h3M502 549.5h3M611 564.5h2M668 567.5h2M577 549.5h3M538 529.5h2M617 545.5h3M754 537.5h3M267 542.5h2M506 553.5h2M557 557.5h3M272 552.5h2M530 550.5h3M664 573.5h3M449 526.5h3M278 540.5h3M670 570.5h2M474 550.5h3M442 554.5h2M380 545.5h2M234 552.5h2M716 577.5h2M416 544.5h3M522 557.5h3M234 549.5h2M806 540.5h2M607 565.5h2M894 593.5h2M437 554.5h3M565 543.5h3M525 528.5h3M505 551.5h3M481 552.5h3M428 552.5h2M266 551.5h2M625 557.5h2M276 547.5h3M229 548.5h2M714 566.5h2M502 552.5h2M365 552.5h2M624 562.5h3M582 553.5h2M515 556.5h2M693 575.5h3M664 570.5h3M363 551.5h3M523 544.5h3M551 540.5h2M444 543.5h3M697 556.5h3M535 546.5h3M430 549.5h2M475 555.5h2M957 595.5h2M578 555.5h2M367 542.5h2M344 529.5h2M452 549.5h2M630 532.5h2M309 554.5h2M257 555.5h2M494 550.5h2M490 536.5h3M432 545.5h2M710 567.5h2M542 558.5h3M343 540.5h3M369 554.5h2M304 539.5h3M241 536.5h3M437 555.5h3M260 539.5h3M326 546.5h3M1165 612.5h3M523 508.5h2M597 562.5h3M412 555.5h2M258 537.5h2M306 549.5h2M246 513.5h2M659 562.5h2M474 553.5h3M335 547.5h3M407 549.5h3M389 530.5h2M670 559.5h3M247 525.5h3M565 555.5h2M305 546.5h2M301 547.5h2M275 542.5h2M450 515.5h2M537 554.5h3M454 549.5h2M599 557.5h3M459 550.5h3M324 544.5h3M266 542.5h2M597 523.5h3M414 517.5h3M693 562.5h3M935 562.5h2M411 543.5h3M814 450.5h3M287 549.5h2M273 551.5h2M248 532.5h3M452 534.5h3M1106 591.5h2M494 516.5h2M395 546.5h2M956 594.5h3M438 532.5h2M583 560.5h2M734 558.5h2M282 549.5h2M360 551.5h2M523 555.5h3M466 512.5h2M229 546.5h3M357 543.5h2M607 557.5h2M372 536.5h3M331 531.5h3M259 531.5h2M440 542.5h2M765 581.5h2M383 552.5h2M799 571.5h3M345 546.5h3M359 555.5h3M548 545.5h3M531 532.5h2M304 526.5h2M395 552.5h3M237 553.5h3M610 539.5h2M746 564.5h2M743 579.5h3M294 549.5h2M402 545.5h2M244 529.5h2M843 585.5h3M415 543.5h2M357 546.5h2M258 544.5h2M1082 569.5h3M339 551.5h2M387 548.5h3M610 547.5h2M335 546.5h3M584 544.5h2M250 547.5h3M243 540.5h2M544 538.5h3M636 558.5h3M535 545.5h2M410 552.5h2M243 551.5h3M381 551.5h2M757 568.5h2M263 542.5h3M462 545.5h2M341 555.5h2M519 552.5h2M217 547.5h2M551 533.5h2M301 548.5h2M629 563.5h2M458 550.5h2M311 552.5h2M391 551.5h3M439 555.5h2M572 561.5h2M690 552.5h3M348 546.5h2M242 551.5h2M578 545.5h2M662 550.5h3M566 552.5h3M318 540.5h3M281 545.5h3M301 534.5h2M554 552.5h2M465 528.5h2M511 535.5h2M869 580.5h3M342 545.5h2M403 545.5h2M272 539.5h3M400 545.5h3M270 539.5h2M479 555.5h3M350 552.5h2M386 512.5h3M514 550.5h2M1015 604.5h3M403 537.5h2M336 552.5h2M327 515.5h3M806 579.5h3M1019 604.5h3M597 549.5h3M238 553.5h2M620 569.5h2M830 567.5h2M1040 604.5h2M499 550.5h3M461 550.5h2M307 550.5h2M580 525.5h2M395 555.5h2M381 554.5h2M442 545.5h2M721 580.5h3M342 539.5h3M296 547.5h2M535 557.5h3M858 592.5h3M566 552.5h2M682 575.5h3M582 539.5h3M322 547.5h3M1073 594.5h2M418 552.5h3M267 535.5h3M458 553.5h2M231 519.5h2M264 548.5h3M394 540.5h3M415 543.5h2M1105 606.5h3M526 531.5h2M402 550.5h3M421 551.5h2M291 554.5h2M636 570.5h2M354 554.5h2M880 554.5h3M510 507.5h2M617 550.5h2M382 552.5h3M276 544.5h2M353 541.5h2M317 548.5h3M677 571.5h2M437 555.5h3M390 553.5h3M393 551.5h2M637 567.5h3M435 547.5h3M420 552.5h3M584 548.5h2M627 547.5h2M278 544.5h2M264 550.5h2M564 561.5h2M378 529.5h3M346 545.5h3M483 552.5h2M484 548.5h3M414 544.5h2M258 546.5h2M736 571.5h2M347 544.5h3M319 550.5h2M588 535.5h3M311 526.5h3M452 549.5h2M537 540.5h3M541 549.5h2M271 542.5h3M517 552.5h3M698 578.5h3M313 526.5h3M628 563.5h3M803 577.5h3M342 555.5h2M493 548.5h3M787 507.5h2M446 552.5h2M510 555.5h2M1167 613.5h3M274 538.5h3M236 535.5h2M267 551.5h3M280 554.5h2M446 542.5h2M390 524.5h3M301 550.5h3M273 533.5h3M285 540.5h2M695 520.5h2M236 533.5h3M286 549.5h2M789 583.5h3M629 523.5h3M958 595.5h2M269 551.5h3M317 533.5h2M301 550.5h3M523 557.5h3M270 523.5h2M262 519.5h3M311 513.5h3M589 505.5h3M252 549.5h2M439 540.5h3M665 570.5h3M258 554.5h2M404 532.5h3M602 555.5h3M427 507.5h2M292 548.5h3M335 530.5h2M682 569.5h3M422 544.5h3M242 555.5h3M428 548.5h2M341 554.5h3M250 552.5h3M608 559.5h3M571 558.5h2M315 539.5h3M711 574.5h3M296 515.5h2M831 572.5h2M800 577.5h2M303 551.5h2M348 550.5h2M379 555.5h2M511 517.5h2M529 553.5h3M275 529.5h2M490 542.5h3M788 564.5h2M449 554.5h2M349 519.5h3M910 565.5h2M238 554.5h3M822 588.5h2M239 542.5h3M278 551.5h3M614 567.5h2M315 537.5h3M541 529.5h3M396 551.5h2M429 544.5h3M309 538.5h2M333 542.5h2M668 485.5h3M813 588.5h3M231 553.5h3M473 534.5h3M500 550.5h2M309 550.5h3M1165 595.5h3M484 556.5h3M370 524.5h3M290 539.5h3M229 534.5h2M509 535.5h3M321 555.5h3M201 537.5h3M263 542.5h3M308 542.5h3M828 586.5h3M238 545.5h2M422 540.5h3M445 544.5h2M460 554.5h3M485 552.5h2M382 535.5h2M546 540.5h3M431 554.5h2M418 532.5h2M295 540.5h2M392 539.5h3M372 542.5h2M360 541.5h3M496 547.5h2M468 542.5h2M331 524.5h3M404 531.5h3M418 551.5h3M395 538.5h3M428 552.5h2M238 545.5h3M383 552.5h3M460 549.5h2M316 537.5h3M374 546.5h3M321 530.5h2M569 555.5h3M432 507.5h2M400 551.5h2M596 562.5h3M315 525.5h2M281 555.5h3M549 560.5h2M438 549.5h2M502 557.5h3M319 543.5h3M581 550.5h2M315 550.5h2M308 553.5h3M517 558.5h3M391 541.5h3M476 545.5h3M413 553.5h2M462 500.5h2M742 420.5h2M345 550.5h2M719 572.5h2M788 572.5h2M593 563.5h2M268 539.5h2M258 545.5h2M275 551.5h3M684 575.5h3M376 535.5h3M733 578.5h3M407 549.5h3M245 552.5h3M484 525.5h2M293 552.5h3M318 547.5h2M263 551.5h3M603 517.5h3M246 549.5h3M1031 569.5h3M348 550.5h3M399 545.5h2M567 541.5h3M354 541.5h2M418 554.5h2M963 560.5h2M386 547.5h2M353 494.5h3M452 542.5h2M373 530.5h2M327 546.5h3M225 541.5h3M427 543.5h3M769 577.5h2M666 572.5h2M281 518.5h3M451 542.5h2M443 548.5h2M406 542.5h2M327 551.5h2M609 561.5h3M403 554.5h3M1101 597.5h3M249 549.5h3M265 554.5h3M326 537.5h3M672 570.5h2M411 549.5h2M259 547.5h2M231 553.5h3M259 539.5h3M376 539.5h3M757 581.5h2M488 508.5h3M629 561.5h2M723 571.5h3M521 558.5h3M822 573.5h3M394 511.5h3M247 534.5h3M397 547.5h3M883 594.5h2M353 537.5h3M453 549.5h2M589 553.5h2M461 551.5h2M411 521.5h2M677 538.5h2M557 542.5h3M297 552.5h2M374 536.5h2M613 553.5h3M547 554.5h2M259 551.5h3M359 533.5h2M612 517.5h2M602 542.5h2M512 549.5h3M301 525.5h2M737 574.5h3M457 540.5h3M364 553.5h3M357 549.5h2M382 539.5h2M227 537.5h2M628 559.5h2M511 527.5h3M566 552.5h2M345 536.5h3M348 552.5h3M302 551.5h2M499 549.5h2M395 545.5h3M376 549.5h3M280 539.5h2M227 551.5h3M347 536.5h2M524 536.5h2M582 559.5h2M657 544.5h3M440 549.5h2M442 532.5h2M940 590.5h3M465 552.5h3M301 530.5h3M829 559.5h3M385 548.5h3M438 517.5h2M316 522.5h3M717 579.5h2M300 554.5h2M658 550.5h2M915 579.5h2M484 554.5h2M591 562.5h3M294 548.5h3M714 574.5h2M243 535.5h2M278 537.5h2M363 530.5h3M399 538.5h3M926 588.5h3M701 574.5h2M687 566.5h3M627 559.5h3M402 553.5h2M500 553.5h3M670 553.5h3M374 552.5h3M450 554.5h2M989 592.5h3M395 553.5h3M461 538.5h2M290 552.5h2M299 521.5h2M657 560.5h3M321 552.5h3M620 540.5h2M536 538.5h3M297 545.5h3M318 550.5h2M597 561.5h3M494 551.5h3M461 551.5h2M379 549.5h3M220 530.5h3M366 544.5h3M296 549.5h3M363 537.5h2M501 553.5h2M254 543.5h3M240 549.5h3M689 573.5h3M480 556.5h3M498 541.5h3M571 549.5h3M263 547.5h3M538 558.5h2M440 548.5h2M299 536.5h2M309 510.5h3M247 541.5h2M228 550.5h2M457 546.5h2M341 550.5h2M678 576.5h3M218 530.5h3M654 523.5h3M546 551.5h2M463 553.5h2M407 554.5h2M266 544.5h3M494 544.5h3M333 546.5h3M457 551.5h2M398 543.5h2M437 552.5h3M266 553.5h2M420 542.5h2M417 555.5h2M285 535.5h3M432 542.5h2M361 536.5h3M562 527.5h2M580 520.5h3M528 555.5h2M322 550.5h2M277 510.5h3M258 551.5h3M510 553.5h3M550 539.5h2M232 554.5h3M782 587.5h2M212 553.5h3M324 553.5h3M575 553.5h3M239 524.5h3M491 550.5h3M364 545.5h3M310 540.5h2M549 545.5h3M559 544.5h3M332 543.5h2M294 547.5h2M293 533.5h3M623 562.5h3M411 541.5h2M447 553.5h3M554 547.5h2M500 532.5h3M241 546.5h3M287 542.5h2M578 560.5h2M231 539.5h2M591 562.5h2M358 542.5h3M269 550.5h3M1042 576.5h3M842 582.5h2M485 533.5h3M347 537.5h2M284 549.5h3M347 552.5h3M871 590.5h2M328 526.5h3M333 545.5h3M530 556.5h3M330 549.5h3M648 459.5h3M477 554.5h3M528 556.5h2M338 549.5h3M282 526.5h3M654 556.5h2M822 576.5h3M366 550.5h2M417 555.5h2M245 551.5h2M867 593.5h3M423 541.5h2M524 518.5h2M588 562.5h2M427 534.5h2M237 541.5h3M240 534.5h2M292 531.5h2M543 545.5h3M494 556.5h2M317 527.5h2M388 540.5h3M459 550.5h3M532 548.5h3M242 547.5h2M421 548.5h3M578 558.5h2M755 572.5h2M340 553.5h2M234 536.5h3M263 540.5h3M490 522.5h2M569 555.5h2M428 544.5h3M505 553.5h3M330 548.5h3M409 528.5h2M297 546.5h3M610 563.5h3M278 545.5h2M421 544.5h2M454 545.5h2M572 540.5h2M468 526.5h2M812 585.5h2M286 553.5h3M366 540.5h2M372 552.5h3M368 549.5h3M573 550.5h2M627 547.5h3M534 557.5h2M776 574.5h3M239 551.5h3M471 548.5h3M299 544.5h2M663 567.5h3M327 528.5h3M396 538.5h3M447 529.5h3M242 529.5h2M455 543.5h3M486 553.5h3M292 530.5h3M425 542.5h2M1140 602.5h3M717 548.5h2M419 552.5h3M483 507.5h2M366 552.5h2M348 541.5h3M650 571.5h2M711 577.5h2M386 547.5h2M549 537.5h3M477 551.5h2M763 577.5h2M546 555.5h3M591 565.5h3M266 549.5h3M594 549.5h3M337 534.5h2M372 545.5h3M645 541.5h3M508 534.5h3M592 561.5h3M413 546.5h2M242 553.5h2M268 551.5h3M296 553.5h3M394 544.5h2M338 537.5h2M369 541.5h3M279 551.5h2M263 548.5h3M435 545.5h2M263 512.5h3M352 554.5h2M399 552.5h2M487 544.5h2M434 546.5h3M307 548.5h3M352 553.5h2M615 560.5h3M381 543.5h3M269 550.5h2M310 551.5h3M324 543.5h2M615 568.5h3M559 512.5h2M296 553.5h3M337 542.5h2M317 554.5h3M777 576.5h2M749 581.5h2M346 546.5h3M299 545.5h2M346 546.5h2M508 529.5h2M369 542.5h3M459 540.5h2M948 582.5h2M472 546.5h2M1096 579.5h2M435 553.5h3M498 555.5h3M362 524.5h3M535 532.5h3M685 564.5h3M650 530.5h2M286 543.5h2M626 565.5h2M366 553.5h2M266 546.5h2M503 544.5h3M640 541.5h3M862 587.5h2M306 539.5h2M401 547.5h3M689 564.5h3M232 540.5h2M558 533.5h3M562 542.5h3M558 553.5h3M782 581.5h3M372 550.5h3M327 553.5h2M608 563.5h3M470 550.5h2M283 550.5h3M392 538.5h2M359 543.5h2M264 543.5h3M392 546.5h2M240 546.5h3M567 550.5h3M631 555.5h3M227 529.5h3M272 512.5h3M270 544.5h3M676 574.5h3M433 554.5h3M685 576.5h2M466 543.5h2M324 550.5h2M281 515.5h2M400 543.5h2M831 582.5h3M480 545.5h2M380 530.5h2M833 590.5h3M310 539.5h2M894 590.5h2M413 516.5h3M427 552.5h3M420 546.5h2M660 487.5h2M600 546.5h2M519 528.5h3M356 551.5h3M293 552.5h2M345 536.5h3M335 523.5h2M333 546.5h3M537 556.5h2M276 543.5h2M470 543.5h2M256 541.5h2M366 539.5h3M480 528.5h3M671 559.5h3M228 521.5h3M719 567.5h2M908 594.5h2M307 536.5h3M783 580.5h3M403 554.5h2M404 543.5h3M258 543.5h3M576 546.5h3M233 541.5h2M583 554.5h3M321 506.5h2M240 545.5h2M647 562.5h2M251 554.5h2M540 555.5h2M324 553.5h3M612 554.5h3M526 554.5h3M480 549.5h2M312 552.5h2M652 545.5h3M690 575.5h3M310 547.5h2M450 553.5h2M526 544.5h3M694 574.5h3M591 542.5h3M512 555.5h3M570 557.5h2M527 514.5h2M551 550.5h3M577 496.5h3M347 547.5h3M512 531.5h2M242 519.5h2M684 566.5h2M331 538.5h3M388 552.5h3M421 535.5h2M543 552.5h3M543 540.5h2M309 554.5h2M289 548.5h3M657 560.5h2M409 545.5h2M575 559.5h2M290 537.5h2M728 550.5h3M337 547.5h2M655 551.5h3M1102 601.5h2M272 552.5h2M305 511.5h3M439 541.5h2M347 550.5h2M340 540.5h3M566 556.5h3M364 550.5h3M453 555.5h3M629 558.5h2M738 580.5h3M314 539.5h3M273 535.5h3M453 552.5h2M617 559.5h2M387 553.5h3M324 544.5h3M614 548.5h3M340 532.5h2M372 550.5h3M1123 604.5h3M404 549.5h3M399 537.5h3M504 540.5h2M323 545.5h3M512 551.5h3M249 541.5h3M395 533.5h2M554 551.5h3M595 565.5h2M503 554.5h3M303 523.5h3M794 586.5h2M420 548.5h3M473 551.5h3M671 566.5h2M301 553.5h3M629 554.5h2M565 560.5h2M227 554.5h2M315 555.5h3M532 552.5h2M293 554.5h3M540 556.5h2M880 595.5h3M332 549.5h2M403 536.5h3M546 527.5h3M654 553.5h3M228 547.5h2M663 573.5h2M234 544.5h3M506 545.5h3M621 562.5h3M259 555.5h3M420 553.5h3M308 532.5h3M453 545.5h2M499 525.5h2M462 536.5h2M383 550.5h2M932 572.5h2M522 551.5h3M264 546.5h2M556 560.5h2M304 554.5h2M1029 605.5h3M214 549.5h3M437 547.5h3M371 547.5h3M758 551.5h3M343 519.5h2M273 543.5h2M310 549.5h3M506 557.5h3M647 560.5h2M654 569.5h2M507 530.5h3M676 562.5h3M261 549.5h3M590 558.5h3M406 548.5h3M322 528.5h3M679 548.5h2M687 567.5h2M369 552.5h3M455 543.5h2M312 538.5h3M773 584.5h2M227 505.5h3M328 546.5h3M641 445.5h2M373 552.5h3M496 545.5h3M300 529.5h3M835 569.5h2M648 533.5h2M646 571.5h3M329 544.5h3M678 574.5h3M619 529.5h3M505 547.5h2M696 556.5h3M370 534.5h3M302 550.5h3M426 544.5h2M640 561.5h3M537 545.5h2M564 558.5h3M725 579.5h3M646 570.5h3M578 531.5h2M309 545.5h2M287 555.5h2M904 576.5h3M240 547.5h2M704 571.5h2M450 545.5h2M405 540.5h3M325 550.5h3M417 534.5h3M618 532.5h3M269 539.5h3M371 549.5h3M367 510.5h2M359 530.5h2M447 554.5h3M649 567.5h2M643 514.5h3M247 553.5h2M614 566.5h3M560 553.5h2M260 541.5h2M501 547.5h2M245 551.5h3M524 557.5h3M258 524.5h3M506 545.5h2M588 552.5h2M323 553.5h3M753 582.5h3M337 554.5h3M449 544.5h3M311 545.5h3M301 554.5h2M775 582.5h3M271 544.5h2M375 552.5h3M448 506.5h2M291 548.5h3M521 538.5h3M633 540.5h3M267 543.5h2M315 547.5h3M483 552.5h3M639 560.5h3M326 541.5h3M722 573.5h3M246 551.5h2M282 535.5h2M437 547.5h2M491 534.5h3M560 554.5h2M368 535.5h2M283 541.5h2M370 553.5h2M483 542.5h2M478 540.5h2M462 532.5h3M721 562.5h2M477 521.5h2M397 541.5h3M347 531.5h3M730 570.5h3M732 568.5h3M585 563.5h3M478 524.5h2M311 532.5h2M660 571.5h3M343 535.5h2M525 551.5h3M429 517.5h2M277 545.5h2M517 549.5h3M508 554.5h2M681 566.5h3M214 545.5h3M560 527.5h2M861 587.5h3M417 541.5h2M692 521.5h2M839 582.5h2M285 516.5h3M414 532.5h2M233 549.5h3M507 552.5h2M280 555.5h2M494 554.5h2M258 538.5h3M272 549.5h3M939 599.5h2M638 560.5h3M414 549.5h3M250 541.5h2M644 535.5h2M231 548.5h3M254 521.5h2M229 534.5h3M725 572.5h2M453 548.5h2M450 543.5h2M404 549.5h2M441 516.5h2M412 553.5h2M749 575.5h2M447 541.5h3M663 551.5h2M261 524.5h2M300 548.5h2M519 533.5h3M663 543.5h2M353 554.5h3M728 572.5h2M241 551.5h3M677 575.5h2M553 545.5h2M436 552.5h3M284 552.5h3M753 560.5h2M323 552.5h2M237 555.5h2M458 554.5h3M335 533.5h2M284 554.5h2M785 568.5h3M280 552.5h3M440 539.5h3M617 563.5h2M569 561.5h2M351 547.5h2M441 553.5h2M487 542.5h3M587 564.5h2M509 533.5h2M484 515.5h3M394 555.5h3M336 536.5h3M402 548.5h2M377 526.5h2M617 556.5h3M250 548.5h3M360 510.5h3M331 550.5h3M257 526.5h3M649 572.5h2M507 520.5h3M215 554.5h2M345 546.5h3M318 545.5h2M437 551.5h2M877 571.5h2M1034 605.5h2M473 545.5h2M514 552.5h3M795 587.5h2M647 570.5h2M256 540.5h3M540 545.5h3M370 542.5h3M309 519.5h3M379 550.5h3M657 572.5h3M258 554.5h3M627 557.5h2M362 536.5h2M708 400.5h3M306 553.5h2M467 549.5h3M458 540.5h2M375 552.5h2M674 564.5h3M755 582.5h3M293 536.5h2M399 537.5h2M727 572.5h3M430 551.5h3M409 552.5h2M332 542.5h3M683 571.5h3M726 575.5h3M258 544.5h3M335 542.5h3M402 536.5h3M432 546.5h3M296 551.5h3M362 533.5h2M358 550.5h2M226 545.5h3M796 583.5h2M549 525.5h3M348 554.5h3M257 546.5h3M905 587.5h2M595 562.5h2M252 546.5h3M546 545.5h2M288 553.5h3M325 553.5h2M734 580.5h2M663 567.5h2M549 542.5h2M242 546.5h2M350 545.5h2M475 521.5h3M616 539.5h3M313 552.5h2M610 536.5h2M235 555.5h2M699 576.5h3M292 540.5h2M770 574.5h3M365 541.5h2M475 545.5h2M335 542.5h2M319 546.5h3M320 502.5h2M396 554.5h3M231 545.5h3M559 515.5h2M345 540.5h2M483 528.5h3M235 538.5h3M429 547.5h2M510 558.5h2M275 545.5h2M656 559.5h3M540 559.5h3M486 534.5h3M599 551.5h3M283 542.5h3M682 570.5h2M297 555.5h3M447 549.5h2M355 547.5h3M281 548.5h2M668 575.5h2M391 540.5h3M512 543.5h2M471 538.5h3M267 546.5h3M262 542.5h3M318 552.5h2M361 552.5h3M517 499.5h3M312 547.5h2M560 529.5h3M247 535.5h2M387 538.5h2M565 552.5h2M1096 583.5h2M766 578.5h3M547 544.5h3M696 483.5h2M342 549.5h2M687 557.5h3M289 527.5h2M647 570.5h2M488 533.5h3M382 548.5h3M502 537.5h3M377 536.5h3M712 578.5h2M450 555.5h2M232 543.5h3M795 573.5h3M508 524.5h2M299 525.5h3M515 542.5h2M430 552.5h2M428 541.5h2M331 549.5h2M1144 596.5h2M577 556.5h2M393 550.5h3M656 549.5h2M658 538.5h3M337 540.5h3M237 545.5h3M632 567.5h2M235 535.5h3M338 547.5h2M234 555.5h3M464 550.5h3M487 544.5h2M363 525.5h2M269 536.5h3M831 589.5h2M269 545.5h3M674 563.5h2M376 538.5h2M509 522.5h3M370 547.5h3M495 541.5h3M514 527.5h2M230 522.5h2M410 521.5h3M315 543.5h2M464 550.5h2M493 539.5h3M337 554.5h3M726 567.5h3M495 529.5h3M363 547.5h3M312 555.5h3M774 576.5h3M226 554.5h3M653 571.5h3M393 551.5h3M900 580.5h2M666 570.5h2M532 536.5h3M407 534.5h2M371 543.5h3M611 550.5h2M209 548.5h2M820 580.5h2M518 549.5h2M234 553.5h2M658 573.5h2M969 593.5h3M351 543.5h2M558 556.5h2M498 514.5h3M228 536.5h3M1048 580.5h2M351 541.5h2M280 540.5h3M531 517.5h2M380 550.5h2M415 528.5h3M542 549.5h2M290 532.5h2M259 535.5h3M678 548.5h3M512 552.5h2M253 547.5h2M441 540.5h2M335 542.5h3M356 541.5h2M644 531.5h2M667 573.5h2M506 547.5h3M619 543.5h3M431 549.5h2M506 547.5h3M333 554.5h3M415 541.5h2M305 550.5h3M330 546.5h2M321 554.5h3M386 542.5h2M471 548.5h2M582 558.5h3M244 544.5h3M1176 613.5h3M547 518.5h3M322 538.5h2M206 519.5h2M376 550.5h2M315 531.5h3M416 526.5h3M463 528.5h2M378 549.5h2M448 518.5h3M410 548.5h2M443 551.5h3M288 540.5h3M256 522.5h2M568 533.5h3M628 556.5h2M314 548.5h2M308 553.5h2M826 589.5h2M471 536.5h2M247 547.5h2M840 574.5h3M356 524.5h2M273 553.5h3M454 551.5h3M590 554.5h3M491 537.5h3M469 550.5h3M569 562.5h3M499 525.5h3M487 543.5h3M504 555.5h2M292 537.5h2M435 554.5h2M659 531.5h2M425 553.5h2M478 553.5h3M554 536.5h3M592 538.5h2M536 547.5h3M329 547.5h2M292 543.5h3M233 549.5h3M537 543.5h3M405 554.5h2M409 548.5h3M572 554.5h2M628 545.5h2M421 549.5h3M885 572.5h2M631 492.5h2M504 548.5h3M263 542.5h2M488 531.5h3M272 552.5h3M421 553.5h2M212 550.5h3M414 541.5h3M385 539.5h3M735 567.5h3M330 534.5h3M528 524.5h2M342 552.5h3M608 565.5h2M539 560.5h2M330 531.5h2M327 545.5h2M629 567.5h3M452 543.5h3M280 551.5h2M509 546.5h3M585 561.5h2M775 569.5h3M346 527.5h2M307 540.5h3M491 531.5h3M386 546.5h2M397 551.5h2M369 546.5h2M1184 613.5h3M309 550.5h2M334 549.5h3M261 545.5h2M239 528.5h3M293 543.5h3M301 552.5h2M543 558.5h2M449 539.5h3M387 552.5h2M602 559.5h2M301 542.5h2M423 552.5h3M281 539.5h2M520 531.5h2M608 543.5h3M475 532.5h3M604 564.5h3M782 554.5h2M387 539.5h2M400 526.5h2M659 565.5h3M422 539.5h3M371 547.5h2M423 515.5h3M459 546.5h2M315 552.5h3M642 567.5h3M374 548.5h3M769 557.5h3M248 551.5h2M366 503.5h3M505 553.5h2M331 549.5h3M347 537.5h3M400 549.5h3M749 542.5h3M659 569.5h2M365 541.5h3M484 517.5h2M557 554.5h2M738 574.5h2M575 556.5h3M620 553.5h3M975 572.5h3M480 552.5h2M294 552.5h2M653 558.5h3M459 549.5h2M853 591.5h3M370 533.5h2M417 548.5h2M254 554.5h3M399 553.5h2M349 551.5h2M572 551.5h2M377 544.5h3M664 570.5h2M606 561.5h2M497 526.5h2M325 550.5h2M453 520.5h2M283 520.5h2M453 540.5h3M200 532.5h2M220 552.5h2M493 542.5h3M484 516.5h2M293 507.5h3M295 533.5h3M229 540.5h2M241 554.5h2M342 548.5h3M542 553.5h3M435 553.5h3M368 552.5h3M298 545.5h3M472 549.5h3M383 531.5h3M446 551.5h2M330 541.5h2M409 555.5h2M399 544.5h3M789 576.5h3M394 547.5h3M239 546.5h2M306 554.5h3M778 566.5h2M314 551.5h2M419 536.5h3M512 551.5h2M272 543.5h2M311 548.5h3M336 554.5h3M588 544.5h3M652 539.5h2M449 536.5h3M235 552.5h3M284 552.5h2M404 554.5h2M587 540.5h3M548 553.5h2M234 537.5h2M448 545.5h3M294 546.5h2M351 526.5h2M388 553.5h2M769 557.5h3M366 536.5h3M335 540.5h2M697 576.5h3M320 550.5h2M575 538.5h3M302 549.5h2M978 570.5h3M583 556.5h3M810 575.5h3M285 547.5h2M448 528.5h2M533 526.5h3M450 548.5h3M404 549.5h2M385 553.5h2M704 554.5h2M407 523.5h3M297 544.5h2M259 540.5h2M491 542.5h2M375 518.5h3M929 580.5h2M339 546.5h3M371 555.5h3M268 539.5h2M662 546.5h3M448 555.5h2M485 525.5h3M426 553.5h2M324 554.5h2M682 561.5h3M270 536.5h2M381 552.5h2M368 555.5h3M280 543.5h2M551 532.5h2M248 547.5h3M359 554.5h3M356 542.5h2M468 549.5h2M829 586.5h3M790 565.5h2M833 568.5h3M506 539.5h3M583 559.5h3M297 553.5h3M242 548.5h2M416 554.5h2M505 555.5h3M304 553.5h3M579 544.5h2M765 550.5h3M411 555.5h3M199 522.5h3M461 552.5h2M391 528.5h2M323 551.5h2M347 539.5h2M326 550.5h2M628 529.5h3M470 538.5h2M556 556.5h2M681 547.5h3M244 543.5h2M378 553.5h3M742 520.5h3M415 547.5h3M1129 583.5h2M420 547.5h3M383 526.5h2M463 524.5h2M217 523.5h3M287 533.5h2M310 545.5h2M746 536.5h3M275 547.5h2M553 556.5h2M685 541.5h3M247 530.5h2M379 545.5h2M598 549.5h3M511 533.5h2M473 548.5h2M542 554.5h3M262 545.5h2M515 555.5h3M336 550.5h3M517 557.5h3M571 537.5h2M437 551.5h2M710 558.5h3M360 534.5h3M398 553.5h2M489 525.5h2M315 535.5h2M492 552.5h2M549 555.5h2M602 540.5h3M777 586.5h3M286 554.5h2M319 539.5h2M440 523.5h2M399 543.5h2M297 550.5h2M394 551.5h3M329 551.5h2M283 541.5h2M238 548.5h3M688 567.5h3M385 543.5h3M498 544.5h3M296 544.5h2M617 564.5h2M265 518.5h2M309 546.5h3M534 557.5h3M496 556.5h2M312 544.5h3M463 548.5h3M568 562.5h3M344 542.5h2M388 521.5h2M436 523.5h2M300 554.5h3M277 543.5h3M268 536.5h3M317 526.5h3M507 526.5h3M322 534.5h2M994 602.5h3M530 550.5h2M362 527.5h3M255 552.5h2M776 580.5h3M468 542.5h3M608 527.5h2M1058 596.5h3M311 546.5h3M284 538.5h2M299 546.5h3M457 548.5h2M329 548.5h3M349 525.5h3M420 544.5h3M402 555.5h2M1033 594.5h3M555 550.5h3M359 545.5h2M271 551.5h2M668 547.5h2M346 551.5h2M450 550.5h2M544 551.5h3M256 544.5h3M346 552.5h2M351 533.5h3M434 544.5h3M374 540.5h3M266 543.5h3M502 525.5h2M232 535.5h3M643 562.5h2M456 542.5h2M456 513.5h3M703 571.5h3M295 550.5h3M258 503.5h2M513 553.5h3M442 547.5h3M677 565.5h3M346 525.5h2M380 550.5h2M420 543.5h2M382 543.5h3M276 516.5h2M397 545.5h2M398 555.5h2M558 548.5h2M510 533.5h2M816 571.5h2M495 541.5h3M489 536.5h2M391 550.5h3M284 518.5h3M662 545.5h2M676 574.5h3M425 547.5h3M492 556.5h2M265 549.5h3M273 555.5h3M230 544.5h2M481 552.5h3M487 540.5h2M449 551.5h2M628 538.5h2M395 551.5h2M680 571.5h2M443 550.5h2M418 530.5h2M227 546.5h3M592 543.5h3M484 528.5h2M353 550.5h2M463 539.5h3M329 541.5h2M637 561.5h2M467 534.5h3M509 524.5h2M241 547.5h3M715 570.5h3M434 546.5h2M330 527.5h2M414 542.5h3M327 549.5h2M488 525.5h3M638 441.5h3M474 529.5h2M469 549.5h3M582 555.5h3M311 521.5h2M425 552.5h2M237 540.5h2M299 551.5h3M368 541.5h2M671 552.5h2M441 549.5h3M333 523.5h2M227 541.5h3M364 532.5h2M616 529.5h2M575 555.5h2M360 545.5h3M225 555.5h3M306 554.5h2M708 578.5h2M265 544.5h2M477 548.5h2M211 551.5h2M429 549.5h3M654 559.5h2M441 536.5h2M404 547.5h2M473 535.5h2M262 549.5h3M544 531.5h2M505 544.5h3M454 553.5h2M400 536.5h3M440 553.5h3M296 533.5h2M277 532.5h3M458 550.5h3M322 546.5h3M593 557.5h3M834 589.5h2M593 564.5h2M504 546.5h3M494 544.5h3M330 545.5h2M451 550.5h2M876 590.5h2M528 532.5h3M228 542.5h2M536 493.5h3M286 555.5h3M258 543.5h3M526 547.5h3M342 552.5h3M460 544.5h3M353 544.5h2M444 551.5h3M552 553.5h2M359 555.5h3M504 531.5h2M429 553.5h3M483 556.5h2M248 550.5h3M706 559.5h3M961 595.5h3M302 529.5h3M243 546.5h2M376 543.5h3M506 555.5h2M266 549.5h2M267 551.5h3M640 536.5h3M260 553.5h3M1061 589.5h3M414 536.5h3M530 523.5h3M263 551.5h3M632 560.5h2M278 511.5h3M407 536.5h2M479 526.5h3M248 547.5h3M804 574.5h3M693 575.5h3M236 528.5h3M360 536.5h3M239 551.5h3M405 541.5h2M281 544.5h3M556 562.5h3M325 546.5h3M367 552.5h2M539 543.5h2M508 554.5h2M1076 598.5h3M240 525.5h3M384 531.5h2M490 545.5h3M402 549.5h3M294 537.5h2M675 572.5h2M369 536.5h3M665 574.5h3M490 526.5h3M349 554.5h2M295 547.5h3M512 552.5h2M668 547.5h3M514 554.5h3M757 578.5h2M250 550.5h3M357 549.5h3M592 506.5h3M341 551.5h2M278 523.5h3M613 543.5h3M540 542.5h3M315 542.5h2M597 549.5h2M1085 608.5h3M279 550.5h2M553 527.5h2M282 534.5h2M575 539.5h3M322 555.5h3M378 540.5h3M324 554.5h3M229 542.5h2M468 527.5h3M324 546.5h3M678 541.5h3M536 537.5h3M340 551.5h2M285 551.5h2M726 581.5h3M665 568.5h2M507 553.5h2M418 555.5h3M412 555.5h3M677 544.5h3M1133 590.5h3M488 554.5h3M362 548.5h3M701 553.5h2M260 549.5h2M480 545.5h3M920 591.5h3M420 555.5h3M284 542.5h2M494 552.5h2M390 546.5h3M375 550.5h3M296 546.5h2M395 537.5h3M284 543.5h2M337 553.5h2M280 544.5h3M229 547.5h2M477 546.5h3M429 521.5h3M433 550.5h2M383 553.5h3M232 528.5h2M546 509.5h2M536 556.5h2M824 581.5h2M481 553.5h3M731 575.5h3M536 551.5h2M340 540.5h2M857 572.5h3M471 548.5h3M318 534.5h3M227 543.5h2M523 528.5h3M898 586.5h3M450 548.5h3M414 546.5h2M344 553.5h3M737 581.5h2M450 536.5h2M228 555.5h3M375 554.5h3M564 559.5h2M470 550.5h2M616 554.5h2M418 540.5h3M277 524.5h3M515 548.5h2M510 553.5h3M385 545.5h3M238 549.5h2M359 550.5h3M328 533.5h2M480 549.5h2M453 542.5h3M658 565.5h2M599 553.5h2M499 540.5h3M769 559.5h2M361 542.5h2M437 550.5h3M461 543.5h2M398 536.5h2M947 597.5h3M353 544.5h3M389 542.5h3M427 542.5h2M441 537.5h3M425 537.5h3M367 546.5h2M552 558.5h3M253 521.5h2M595 544.5h3M849 584.5h2M569 549.5h2M238 547.5h2M328 527.5h3M284 542.5h2M789 555.5h3M492 549.5h2M381 537.5h2M392 542.5h2M256 541.5h3M387 526.5h2M727 579.5h3M331 550.5h2M335 530.5h3M656 566.5h3M522 554.5h2M503 502.5h3M289 535.5h2M512 539.5h2M852 585.5h2M511 545.5h3M530 553.5h3M347 546.5h2M290 555.5h2M520 543.5h3M386 552.5h2M514 558.5h2M356 548.5h2M400 546.5h2M279 549.5h2M357 550.5h3M390 547.5h2M506 536.5h2M269 538.5h3M231 535.5h2M263 555.5h2M387 553.5h2M637 562.5h2M509 536.5h3M548 525.5h2M640 571.5h2M666 571.5h2M486 554.5h2M458 555.5h3M510 549.5h2M293 537.5h2M341 550.5h2M1046 602.5h3M643 566.5h2M414 547.5h3M259 531.5h3M302 551.5h2M466 543.5h2M345 542.5h3M334 537.5h2M447 541.5h2M242 527.5h2M281 555.5h3M360 550.5h3M403 508.5h3M226 546.5h3M489 547.5h2M240 553.5h3M354 552.5h3M465 541.5h3M333 542.5h3M280 553.5h3M328 549.5h3M280 538.5h2M560 549.5h2M297 554.5h2M721 579.5h3M372 547.5h3M281 539.5h3M255 551.5h2M242 547.5h2M508 532.5h2M323 526.5h2M323 549.5h2M757 562.5h2M661 574.5h3M611 558.5h3M546 554.5h2M765 581.5h2M605 531.5h2M551 554.5h3M516 524.5h3M398 548.5h2M588 555.5h3M1017 604.5h2M533 559.5h2M471 520.5h3M288 552.5h3M248 543.5h3M310 553.5h2M439 545.5h2M203 550.5h2M545 526.5h3M378 533.5h3M590 535.5h3M278 528.5h2M228 536.5h3M532 559.5h2M573 550.5h3M302 553.5h3M581 523.5h3M332 554.5h3M738 580.5h2M356 553.5h2M294 532.5h3M686 576.5h3M255 552.5h2M667 561.5h2M442 552.5h3M497 557.5h3M400 551.5h3M442 553.5h2M512 547.5h3M244 526.5h3M321 541.5h3M310 548.5h3M276 549.5h3M510 542.5h3M474 542.5h2M426 548.5h2M620 553.5h3M480 555.5h3M241 540.5h3M612 529.5h2M350 539.5h2M245 535.5h3M448 550.5h3M439 550.5h2M257 553.5h3M480 530.5h2M334 545.5h3M1013 600.5h2M509 552.5h2M720 569.5h3M341 542.5h2M656 565.5h2M385 540.5h2M730 580.5h2M356 548.5h2M514 528.5h2M282 554.5h3M235 523.5h2M432 553.5h3M341 551.5h3M693 576.5h3M429 550.5h2M308 537.5h3M564 481.5h2M736 571.5h2M515 555.5h3M691 557.5h3M973 593.5h2M676 546.5h2M712 552.5h3M418 534.5h2M507 552.5h2M721 573.5h2M518 538.5h2M294 549.5h2M605 560.5h3M245 538.5h3M330 547.5h2M712 466.5h3M433 553.5h3M707 577.5h3M233 542.5h2M449 548.5h3M593 521.5h2M252 552.5h3M483 554.5h2M277 552.5h2M266 549.5h3M332 533.5h3M606 537.5h3M873 566.5h3M714 579.5h2M583 543.5h3M368 549.5h3M667 528.5h2M427 544.5h3M447 554.5h3M513 556.5h2M232 551.5h2M471 539.5h2M330 552.5h2M662 570.5h2M409 552.5h2M461 545.5h3M608 566.5h3M256 551.5h3M263 552.5h2M530 559.5h2M587 544.5h3M298 552.5h2M513 539.5h3M798 560.5h2M307 553.5h3M384 547.5h3M488 516.5h2M513 553.5h2M549 556.5h2M1068 542.5h2M452 538.5h2M469 515.5h2M402 550.5h2M623 568.5h2M228 540.5h2M532 547.5h2M658 553.5h2M266 541.5h3M251 548.5h2M717 543.5h3M623 568.5h2M416 536.5h3M289 505.5h2M641 548.5h2M419 552.5h2M537 526.5h3M266 545.5h2M711 515.5h3M458 552.5h3M542 543.5h2M396 546.5h2M531 544.5h2M547 554.5h2M568 531.5h3M340 553.5h2M291 553.5h3M537 559.5h2M271 537.5h2M915 594.5h3M357 545.5h2M476 547.5h3M413 537.5h2M405 542.5h2M361 543.5h2M333 552.5h2M567 532.5h3M450 543.5h3M686 532.5h2M318 555.5h3M496 526.5h3M297 539.5h2M360 552.5h3M299 551.5h2M335 548.5h3M348 542.5h2M748 582.5h2M315 550.5h2M250 552.5h3M344 541.5h2M306 549.5h3M594 555.5h3M903 574.5h2M862 517.5h2M809 581.5h3M494 556.5h2M567 556.5h2M372 526.5h3M483 529.5h3M426 550.5h3M360 541.5h3M367 529.5h3M257 552.5h2M291 548.5h3M629 554.5h3M340 532.5h2M544 551.5h3M230 550.5h2M600 531.5h3M300 549.5h3M398 534.5h3M238 549.5h3M480 550.5h3M865 574.5h2M359 538.5h2M315 536.5h2M341 549.5h3M842 585.5h2M681 537.5h2M452 534.5h2M299 543.5h3M436 551.5h2M378 544.5h3M443 543.5h2M588 512.5h3M442 540.5h3M420 545.5h2M680 563.5h2M740 576.5h2M704 569.5h2M843 588.5h2M601 559.5h2M503 531.5h2M460 550.5h2M559 558.5h2M246 550.5h3M458 540.5h3M402 554.5h2M700 555.5h2M1049 596.5h2M621 568.5h2M539 530.5h2M363 555.5h2M1058 601.5h2M508 552.5h3M561 551.5h2M760 573.5h3M480 542.5h2M224 526.5h3M292 551.5h2M743 580.5h2M580 546.5h2M283 550.5h2M520 552.5h3M263 544.5h2M382 543.5h2M791 588.5h2M282 533.5h3M664 505.5h3M744 580.5h3M461 552.5h2M671 565.5h3M573 549.5h3M261 525.5h2M404 532.5h3M505 554.5h3M248 543.5h2M619 543.5h2M424 525.5h3M399 535.5h2M638 566.5h2M805 584.5h3M344 534.5h3M366 554.5h2M504 549.5h2M437 553.5h3M364 540.5h3M465 543.5h2M361 552.5h3M263 544.5h2M666 572.5h3M260 526.5h2M937 565.5h3M531 552.5h2M813 557.5h3M1141 610.5h2M481 521.5h2M227 537.5h2M1037 581.5h2M509 533.5h2M514 526.5h2M324 522.5h3M361 538.5h2M267 551.5h3M227 543.5h2M418 553.5h3M311 542.5h3M467 552.5h3M475 527.5h3M430 543.5h2M461 547.5h2M239 554.5h2M568 530.5h3M473 552.5h2M284 550.5h3M704 576.5h2M283 540.5h3M390 555.5h2M393 539.5h3M443 545.5h3M358 545.5h2M345 542.5h3M634 562.5h2M236 541.5h2M446 546.5h2M372 553.5h2M559 561.5h3M494 530.5h2M306 551.5h2M777 570.5h2M364 544.5h3M717 553.5h3M520 505.5h2M289 551.5h3M637 567.5h3M377 545.5h3M368 553.5h3M592 564.5h2M519 554.5h3M498 548.5h3M345 540.5h3M459 541.5h2M400 535.5h3M694 577.5h2M260 534.5h2M293 553.5h3M1016 588.5h3M523 513.5h2M371 543.5h2M1026 596.5h2M311 537.5h3M246 551.5h2M451 541.5h3M744 580.5h3M298 535.5h2M374 552.5h3M510 554.5h2M574 548.5h3M465 551.5h2M465 512.5h2M418 538.5h2M224 551.5h2M336 546.5h2M337 529.5h2M535 549.5h2M299 544.5h2M486 545.5h2M513 548.5h3M285 545.5h3M393 542.5h2M382 551.5h3M346 551.5h3M372 545.5h2M457 546.5h2M325 554.5h3M307 555.5h2M281 537.5h2M238 518.5h3M251 532.5h3M629 530.5h3M251 537.5h3M647 548.5h2M373 551.5h2M670 554.5h2M328 532.5h3M610 558.5h3M483 547.5h2M247 528.5h2M201 510.5h2M544 550.5h2M258 545.5h3M859 575.5h3M305 554.5h2M381 512.5h3M500 552.5h3M286 544.5h2M325 542.5h3M281 546.5h3M388 539.5h3M549 558.5h2M454 544.5h2M229 546.5h2M375 529.5h3M446 526.5h3M539 551.5h2M979 592.5h3M318 548.5h2M524 544.5h3M373 555.5h3M318 550.5h3M416 543.5h3M651 557.5h2M316 555.5h2M227 551.5h3M447 550.5h3M270 546.5h2M457 544.5h2M654 539.5h2M430 512.5h2M343 537.5h2M959 570.5h2M340 541.5h2M558 534.5h3M411 547.5h3M379 543.5h3M345 539.5h2M492 552.5h3M318 548.5h3M545 545.5h2M307 539.5h3M453 553.5h2M749 583.5h2M641 565.5h2M398 548.5h3M241 552.5h2M583 563.5h3M644 530.5h3M427 541.5h2M939 593.5h3M236 548.5h2M398 554.5h2M586 562.5h3M648 572.5h2M614 565.5h3M358 543.5h2M238 543.5h2M568 555.5h3M327 550.5h2M520 556.5h3M964 581.5h2M385 553.5h2M301 549.5h3M350 535.5h2M888 585.5h2M539 549.5h2M470 543.5h3M856 560.5h2M288 553.5h3M370 543.5h3M791 567.5h3M394 551.5h3M462 549.5h3M776 584.5h2M301 553.5h3M375 552.5h3M479 551.5h2M518 540.5h2M464 554.5h2M276 549.5h2M264 550.5h3M697 574.5h3M629 550.5h2M650 571.5h3M508 556.5h3M658 548.5h2M493 544.5h2M1085 597.5h2M363 546.5h3M343 533.5h3M491 557.5h2M1094 603.5h3M486 523.5h3M388 549.5h3M677 532.5h2M772 572.5h2M489 551.5h2M399 514.5h3M705 550.5h2M329 549.5h2M702 546.5h3M263 534.5h2M233 544.5h3M681 571.5h2M453 549.5h2M567 518.5h2M817 582.5h2M361 549.5h2M622 533.5h2M747 582.5h3M410 524.5h2M270 488.5h3M255 533.5h2M464 553.5h3M621 558.5h3M369 554.5h3M509 553.5h3M553 556.5h3M506 544.5h2M373 535.5h2M932 532.5h2M345 552.5h3M478 537.5h3M401 539.5h2M240 539.5h2M275 547.5h3M412 537.5h2M352 549.5h3M459 551.5h2M214 542.5h2M273 550.5h2M696 548.5h2M495 538.5h3M781 580.5h2M358 544.5h2M420 554.5h3M424 536.5h3M1000 570.5h2M848 580.5h2M411 554.5h2M670 573.5h2M518 527.5h2M418 540.5h2M383 550.5h3M634 565.5h2M488 516.5h3M229 536.5h3M300 552.5h2M426 525.5h3M348 537.5h2M244 547.5h2M453 530.5h2M605 541.5h3M558 560.5h2M674 568.5h2M392 539.5h3M576 534.5h2M420 552.5h3M281 534.5h2M300 552.5h2M996 580.5h3M403 527.5h2M317 547.5h2M258 537.5h3M275 548.5h2M443 552.5h3M646 554.5h2M345 549.5h3M522 551.5h3M704 572.5h3M457 555.5h3M404 532.5h2M505 557.5h3M282 541.5h3M601 566.5h2M501 534.5h3M460 553.5h2M391 518.5h2M254 550.5h3M546 545.5h3M616 557.5h3M458 548.5h3M342 502.5h3M587 560.5h3M405 529.5h3M520 548.5h2M438 551.5h2M309 552.5h2M274 529.5h2M597 558.5h2M231 534.5h3M335 555.5h3M864 590.5h3M861 582.5h2M248 554.5h2M489 543.5h2M950 597.5h3M697 568.5h2M414 536.5h2M327 541.5h3M268 554.5h2M329 543.5h3M267 535.5h2M489 526.5h2M212 520.5h2M286 552.5h2M487 539.5h3M449 550.5h2M425 525.5h2M624 550.5h3M474 528.5h2M724 577.5h3M558 527.5h3M679 519.5h3M274 551.5h3M496 541.5h3M332 526.5h2M454 545.5h3M315 549.5h2M381 538.5h2M455 548.5h2M326 539.5h2M413 524.5h2M396 555.5h2M520 556.5h3M962 563.5h2M257 550.5h2M707 575.5h2M796 557.5h2M636 564.5h3M753 570.5h2M375 534.5h3M650 561.5h2M654 538.5h2M261 529.5h3M378 519.5h2M586 559.5h3M247 540.5h2M507 555.5h2M271 507.5h2M416 528.5h3M461 541.5h2M526 507.5h3M334 526.5h2M898 583.5h3M504 533.5h2M313 529.5h2M524 545.5h3M781 571.5h3M325 536.5h2M312 549.5h2M357 550.5h2M845 568.5h3M597 552.5h2M662 547.5h3M634 558.5h3M546 550.5h3M569 552.5h2M345 536.5h2M474 535.5h2M487 526.5h2M424 554.5h2M526 543.5h3M531 538.5h2M233 549.5h3M441 554.5h2M579 555.5h2M414 546.5h2M361 544.5h2M404 553.5h3M422 526.5h3M725 571.5h3M589 522.5h2M809 572.5h2M385 549.5h3M238 548.5h3M542 555.5h2M467 550.5h3M439 539.5h2M453 538.5h3M759 583.5h2M365 540.5h3M263 529.5h3M541 552.5h2M259 545.5h2M546 544.5h2M423 552.5h2M553 553.5h2M261 517.5h2M728 571.5h2M451 553.5h2M400 554.5h2M232 532.5h3M243 550.5h2M820 576.5h3M964 597.5h2M429 538.5h2M414 543.5h3M498 509.5h2M481 552.5h2M448 537.5h2M325 549.5h3M246 554.5h2M582 514.5h2M508 557.5h2M730 579.5h2M537 556.5h3M231 533.5h2M565 550.5h3M387 525.5h3M590 554.5h2M822 587.5h2M1022 599.5h3M281 551.5h3M310 548.5h2M505 547.5h2M599 553.5h2M1066 602.5h3M434 539.5h2M277 548.5h3M598 556.5h2M373 555.5h2M240 536.5h2M263 545.5h2M729 552.5h2M438 548.5h3M425 550.5h3M412 548.5h2M516 506.5h3M313 547.5h2M489 530.5h2M430 516.5h2M400 554.5h3M371 551.5h2M439 546.5h3M481 555.5h2M619 560.5h3M233 551.5h2M411 538.5h2M405 551.5h3M246 543.5h2M1059 575.5h3M554 515.5h3M390 536.5h2M476 538.5h2M480 549.5h2M368 548.5h2M340 548.5h2M514 555.5h2M554 538.5h3M425 541.5h3M540 556.5h3M649 558.5h2M492 535.5h2M369 554.5h3M682 575.5h3M614 550.5h3M342 552.5h3M231 549.5h2M240 554.5h3M396 546.5h2M314 533.5h2M615 563.5h3M254 553.5h2M477 550.5h3M441 544.5h2M521 559.5h2M655 561.5h3M444 551.5h3M623 563.5h2M539 559.5h3M571 558.5h2M352 544.5h3M677 574.5h2M227 547.5h2M805 588.5h2M612 567.5h3M380 550.5h2M520 542.5h3M312 553.5h2M252 549.5h3M388 532.5h3M271 545.5h2M354 547.5h2M775 582.5h3M1209 617.5h3M724 574.5h3M436 549.5h2M809 575.5h3M401 540.5h2M578 563.5h2M655 552.5h3M645 562.5h2M585 551.5h2M402 552.5h2M619 553.5h2M330 537.5h2M352 529.5h3M628 555.5h2M695 570.5h3M621 567.5h3M839 568.5h3M537 548.5h3M738 562.5h2M438 553.5h2M414 550.5h2M634 560.5h2M486 546.5h2M520 546.5h3M445 533.5h3M320 547.5h3M373 547.5h2M294 547.5h3M434 543.5h3M276 548.5h2M449 548.5h2M257 550.5h2M272 552.5h2M410 552.5h3M236 542.5h2M289 535.5h2M510 555.5h2M462 553.5h3M251 528.5h2M530 542.5h3M357 546.5h2M276 542.5h3M577 557.5h3M704 566.5h3M515 546.5h3M241 545.5h2M419 524.5h2M400 536.5h2M434 536.5h2M426 552.5h2M414 539.5h3M845 591.5h2M619 556.5h2M284 517.5h3M202 536.5h3M447 552.5h3M464 533.5h2M979 586.5h2M352 536.5h3M537 549.5h2M843 582.5h3M477 550.5h2M787 585.5h2M605 566.5h3M692 525.5h3M746 578.5h3M627 548.5h3M376 542.5h3M392 543.5h2M422 550.5h2M595 558.5h2M731 571.5h3M512 540.5h2M306 553.5h2M478 551.5h2M578 533.5h2M697 572.5h2M278 552.5h3M617 530.5h3M483 542.5h2M816 589.5h2M444 551.5h2M335 531.5h2M308 534.5h2M576 563.5h2M560 539.5h2M473 540.5h2M337 538.5h3M470 551.5h2M245 543.5h3M480 548.5h3M340 537.5h2M402 518.5h3M306 524.5h3M485 541.5h2M279 549.5h3M385 518.5h2M371 555.5h2M329 547.5h2M516 556.5h2M255 543.5h3M454 554.5h2M1017 597.5h2M263 545.5h3M417 541.5h2M918 554.5h2M338 547.5h3M229 555.5h3M737 580.5h3M249 517.5h2M397 547.5h3M703 569.5h2M432 552.5h3M461 549.5h2M584 548.5h2M402 549.5h3M365 550.5h3M766 581.5h3M361 540.5h2M362 546.5h2M359 550.5h2M564 556.5h2M562 548.5h2M446 547.5h2M709 545.5h2M328 539.5h2M367 553.5h3M701 565.5h2M249 546.5h3M361 541.5h2M509 556.5h2M569 562.5h3M238 541.5h2M447 537.5h2M256 534.5h3M481 551.5h2M503 538.5h2M240 552.5h3M242 530.5h3M516 526.5h2M415 539.5h3M344 554.5h2M249 535.5h3M561 551.5h2M329 548.5h2M490 552.5h3M876 593.5h2M378 542.5h3M376 530.5h3M439 546.5h2M226 535.5h3M482 538.5h2M440 509.5h3M405 552.5h2M313 549.5h2M270 514.5h2M414 548.5h2M319 553.5h2M255 545.5h3M251 544.5h3M262 536.5h3M517 550.5h3M579 551.5h2M278 553.5h3M644 566.5h3M1213 600.5h2M464 554.5h2M893 578.5h2M657 569.5h2M354 553.5h2M367 546.5h2M565 552.5h3M889 592.5h2M414 549.5h3M647 571.5h2M355 544.5h3M503 536.5h3M272 548.5h2M237 548.5h3M326 540.5h2M716 567.5h2M396 555.5h3M314 525.5h2M344 548.5h3M580 561.5h2M644 563.5h2M237 545.5h3M525 492.5h3M632 556.5h3M349 540.5h2M528 549.5h3M465 527.5h2M389 555.5h3M600 559.5h2M495 546.5h3M457 543.5h3M537 553.5h2M324 548.5h2M660 554.5h2M287 541.5h3M227 541.5h2M289 545.5h3M672 561.5h3M579 535.5h2M426 543.5h3M717 542.5h2M230 553.5h2M286 538.5h2M690 538.5h3M837 591.5h2M239 538.5h3M518 552.5h3M520 501.5h3M589 559.5h2M344 549.5h3M381 535.5h3M264 554.5h2M495 541.5h2M582 539.5h3M430 552.5h3M292 545.5h2M404 548.5h2M303 538.5h3M518 550.5h2M323 554.5h3M356 554.5h3M390 514.5h2M375 552.5h3M637 568.5h3M426 539.5h3M466 539.5h3M416 532.5h3M711 576.5h3M226 549.5h2M297 548.5h2M652 557.5h3M919 592.5h2M784 576.5h3M838 585.5h3M390 555.5h3M256 554.5h3M612 554.5h3M334 550.5h3M370 539.5h3M519 556.5h3M890 589.5h2M311 524.5h2M523 544.5h3M248 538.5h2M512 549.5h3M452 546.5h2M248 542.5h3M353 544.5h2M640 541.5h3M554 533.5h3M234 548.5h3M261 533.5h2M400 552.5h2M769 584.5h3M625 547.5h2M352 530.5h2M597 565.5h3M814 584.5h3M232 551.5h2M915 557.5h3M306 533.5h3M558 558.5h2M281 530.5h3M368 545.5h3M750 583.5h3M496 554.5h2M853 555.5h3M519 531.5h3M547 554.5h2M271 552.5h3M308 523.5h2M348 551.5h3M310 533.5h3M704 560.5h3M282 551.5h3M636 568.5h2M447 550.5h2M643 570.5h3M751 581.5h2M555 550.5h2M276 550.5h2M232 538.5h3M411 538.5h2M388 539.5h3M377 551.5h3M617 552.5h3M646 566.5h3M601 565.5h3M390 541.5h2M834 588.5h2M519 524.5h3M227 542.5h3M996 603.5h3M576 538.5h3M436 553.5h2M371 550.5h2M272 530.5h3M396 543.5h3M336 546.5h2M594 562.5h2M348 549.5h2M429 554.5h2M775 576.5h2M385 548.5h2M571 555.5h2M534 544.5h2M590 529.5h2M330 548.5h2M584 558.5h2M242 553.5h2M317 551.5h3M326 540.5h3M979 597.5h2M510 549.5h2M547 551.5h2M302 551.5h3M478 544.5h2M675 560.5h3M736 578.5h3M460 548.5h3M562 559.5h3M273 541.5h2M730 575.5h2M842 590.5h2M586 561.5h3M231 555.5h3M939 573.5h2M736 581.5h2M705 569.5h2M412 540.5h2M587 534.5h2M385 554.5h2M344 548.5h3M563 558.5h2M617 568.5h3M687 570.5h2M277 544.5h2M249 518.5h2M329 544.5h2M325 548.5h3M359 555.5h2M220 512.5h2M517 554.5h3M451 524.5h3M231 549.5h2M651 555.5h2M858 590.5h3M372 520.5h2M399 544.5h2M344 539.5h2M563 550.5h3M248 553.5h2M307 551.5h3M228 511.5h2M351 547.5h2M807 576.5h2M487 555.5h3M440 533.5h3M401 549.5h2M427 541.5h3M496 551.5h2M434 538.5h3M298 538.5h2M550 556.5h3M275 519.5h2M510 558.5h3M418 550.5h2M353 549.5h3M751 581.5h2M344 550.5h3M390 547.5h3M340 545.5h3M408 517.5h2M467 541.5h2M254 551.5h3M378 553.5h2M620 502.5h2M462 544.5h2M273 545.5h3M544 561.5h3M205 555.5h2M620 557.5h2M589 559.5h2M552 542.5h2M456 546.5h2M796 581.5h2M230 553.5h2M370 544.5h3M386 550.5h2M462 531.5h3M336 551.5h2M430 549.5h2M553 560.5h3M268 554.5h2M288 540.5h2M590 564.5h3M344 544.5h2M688 551.5h2M777 581.5h3M551 546.5h2M459 536.5h3M577 562.5h2M702 551.5h3M255 550.5h2M274 550.5h2M486 555.5h3M454 538.5h3M598 549.5h2M557 555.5h3M559 554.5h2M325 533.5h2M270 535.5h2M584 556.5h3M500 549.5h3M243 533.5h3M462 552.5h3M636 571.5h2M522 547.5h2M295 549.5h2M257 553.5h2M331 538.5h3M275 534.5h2M255 536.5h3M725 561.5h3M449 554.5h3M662 570.5h3M638 570.5h3M303 544.5h2M308 552.5h3M1015 596.5h2M518 552.5h3M520 551.5h2M772 570.5h3M281 555.5h2M525 556.5h3M219 541.5h3M250 551.5h2M426 548.5h3M531 545.5h3M292 531.5h3M305 548.5h2M284 525.5h2M394 540.5h2M232 537.5h2M592 526.5h3M666 551.5h3M395 535.5h3M357 552.5h2M346 546.5h2M563 560.5h3M464 548.5h3M693 577.5h2M429 544.5h2M259 543.5h2M602 556.5h3M505 544.5h2M695 536.5h3M454 547.5h3M334 554.5h2M910 572.5h3M401 515.5h2M255 548.5h3M889 591.5h2M568 541.5h3M412 526.5h2M282 553.5h3M549 558.5h3M374 538.5h2M244 528.5h3M499 551.5h2M229 542.5h3M558 529.5h3M237 505.5h3M467 533.5h3M772 565.5h3M436 546.5h3M493 521.5h2M510 534.5h3M241 550.5h3M446 539.5h3M384 549.5h2M370 534.5h3M400 533.5h2M447 524.5h2M421 555.5h2M458 543.5h3M643 530.5h2M747 581.5h3M435 514.5h2M310 542.5h2M469 547.5h3M284 543.5h2M650 546.5h2M541 544.5h3M536 552.5h2M661 544.5h3M258 533.5h2M1011 581.5h3M234 535.5h2M367 535.5h3M720 578.5h2M297 552.5h3M369 514.5h2M529 529.5h2M480 549.5h3M225 551.5h3M354 549.5h3M1165 611.5h3M340 548.5h2M470 549.5h2M286 544.5h3M899 588.5h3M448 547.5h3M344 542.5h2M617 565.5h3M323 533.5h2M321 550.5h3M377 534.5h2M446 551.5h3M485 535.5h3M412 541.5h2M350 539.5h3M325 543.5h2M580 555.5h2M1149 613.5h2M598 555.5h3M657 562.5h2M376 545.5h3M885 592.5h2M329 547.5h2M581 559.5h2M460 551.5h2M375 547.5h2M256 549.5h2M262 533.5h2M424 551.5h2M581 542.5h3M300 550.5h2M237 546.5h3M257 538.5h2M362 519.5h2M422 539.5h2M272 548.5h2M449 549.5h3M784 550.5h2M560 542.5h2M310 525.5h2M583 564.5h3M645 560.5h3M602 550.5h3M242 542.5h3M1025 605.5h2M568 549.5h3M318 548.5h2M318 525.5h3M503 525.5h2M433 542.5h3M335 555.5h2M249 553.5h2M443 545.5h3M313 544.5h3M374 555.5h2M469 541.5h2M265 544.5h2M614 566.5h3M405 550.5h3M894 594.5h2M773 575.5h2M292 549.5h2M252 527.5h3M486 554.5h2M310 542.5h2M267 553.5h3M575 561.5h3M294 533.5h3M253 541.5h2M358 550.5h2M516 541.5h3M375 532.5h3M375 519.5h3M869 586.5h2M264 537.5h2M372 536.5h3M395 552.5h3M1179 597.5h3M691 568.5h3M416 550.5h3M543 556.5h3M710 569.5h3M391 554.5h2M220 525.5h2M389 538.5h2M329 549.5h3M434 554.5h3M407 533.5h3M437 551.5h3M403 551.5h2M279 553.5h2M735 567.5h2M242 531.5h3M834 576.5h3M715 579.5h3M562 538.5h2M231 551.5h2M484 546.5h3M436 548.5h3M348 547.5h3M312 538.5h2M587 554.5h2M304 535.5h3M259 528.5h3M252 551.5h2M948 593.5h2M618 562.5h2M231 545.5h2M267 529.5h2M271 548.5h3M267 534.5h3M422 552.5h2M241 538.5h2M250 555.5h2M763 560.5h3M343 553.5h2M573 551.5h2M564 539.5h3M325 517.5h3M856 530.5h2M858 580.5h3M751 564.5h2M449 542.5h2M494 557.5h3M645 570.5h3M305 539.5h2M391 527.5h3M635 558.5h3M445 520.5h2M285 547.5h3M1053 581.5h3M727 566.5h2M641 556.5h2M543 552.5h3M474 547.5h3M301 526.5h3M420 529.5h3M483 540.5h2M700 564.5h2M557 549.5h2M666 496.5h3M472 545.5h2M538 542.5h3M296 550.5h3M680 576.5h2M405 521.5h2M496 556.5h2M354 548.5h3M434 531.5h3M507 554.5h3M284 541.5h2M282 547.5h3M567 553.5h2M600 565.5h3M662 568.5h2M608 562.5h3M452 547.5h2M567 552.5h3M312 540.5h3M561 548.5h3M485 533.5h3M249 538.5h2M801 572.5h3M634 548.5h3M491 547.5h3M285 543.5h2M379 544.5h2M469 545.5h3M622 539.5h3M594 562.5h3M478 550.5h2M625 526.5h3M423 550.5h3M974 590.5h3M278 549.5h3M274 544.5h3M631 560.5h2M359 544.5h2M753 546.5h2M361 546.5h3M707 575.5h3M702 558.5h3M412 547.5h3M681 566.5h3M352 548.5h2M367 548.5h2M605 561.5h3M756 579.5h3M438 551.5h2M514 536.5h3M429 549.5h2M596 543.5h3M236 543.5h3M450 529.5h2M285 553.5h3M487 552.5h2M266 527.5h3M294 541.5h3M671 570.5h2M388 548.5h3M367 537.5h3M903 595.5h2M286 547.5h3M397 528.5h2M356 550.5h2M199 550.5h2M429 543.5h2M322 552.5h3M469 523.5h2M580 539.5h2M249 539.5h2M480 510.5h3M722 571.5h3M490 516.5h3M678 557.5h3M461 554.5h2M547 560.5h3M1023 604.5h2M837 554.5h3M264 550.5h3M278 539.5h2M305 552.5h3M303 550.5h3M748 556.5h2M376 543.5h2M304 535.5h3M230 527.5h3M589 553.5h3M334 548.5h2M506 537.5h3M498 544.5h2M573 563.5h3M257 546.5h3M305 552.5h3M544 557.5h3M820 561.5h2M269 551.5h3M394 554.5h2M391 553.5h2M439 548.5h2M674 538.5h2M337 549.5h3M298 545.5h3M335 552.5h2M863 564.5h3M297 518.5h3M308 545.5h3M1140 599.5h3M248 540.5h3M619 564.5h2M625 565.5h3M737 542.5h2M400 543.5h2M431 552.5h3M763 569.5h2M991 592.5h2M526 547.5h3M297 538.5h2M351 539.5h2M653 569.5h2M227 552.5h2M401 544.5h3M268 518.5h2M987 584.5h2M822 587.5h3M697 575.5h2M392 553.5h2M234 520.5h3M483 552.5h2M237 541.5h2M561 562.5h2M229 538.5h2M347 552.5h2M251 526.5h2M526 493.5h2M364 541.5h2M259 543.5h3M406 554.5h2M884 573.5h2M457 549.5h2M289 542.5h2M510 519.5h2M506 557.5h3M273 534.5h3M682 575.5h3M387 532.5h2M536 546.5h3M539 515.5h3M503 551.5h3M515 531.5h3M342 536.5h2M278 539.5h3M611 560.5h3M364 547.5h3M1087 609.5h3M249 555.5h2M344 547.5h3M206 529.5h2M445 550.5h2M637 570.5h3M397 543.5h3M268 552.5h2M518 545.5h3M392 545.5h2M298 547.5h2M325 536.5h2M517 557.5h3M283 552.5h2M367 554.5h3M297 534.5h2M408 534.5h2M760 576.5h2M273 550.5h2M407 523.5h3M429 550.5h3M754 569.5h3M311 547.5h2M617 561.5h3M302 541.5h2M533 551.5h2M395 544.5h3M301 554.5h2M417 547.5h2M786 586.5h3M451 543.5h2M497 534.5h3M258 531.5h2M236 537.5h2M832 586.5h2M483 544.5h2M334 552.5h2M329 555.5h2M528 545.5h2M556 560.5h2M400 539.5h2M567 524.5h3M423 528.5h3M570 563.5h3M554 559.5h2M307 521.5h3M669 571.5h3M318 538.5h3M469 539.5h2M333 554.5h2M714 566.5h2M476 536.5h2M240 539.5h3M578 530.5h2M246 533.5h3M295 541.5h3M368 537.5h3M418 544.5h2M404 507.5h2M580 553.5h3M518 546.5h2M567 549.5h2M349 530.5h3M282 548.5h3M204 552.5h3M306 534.5h3M513 554.5h3M238 544.5h2M665 547.5h2M481 553.5h3M432 552.5h2M371 546.5h3M537 560.5h2M553 553.5h2M939 589.5h3M777 581.5h2M382 529.5h3M796 572.5h2M550 520.5h3M398 553.5h2M579 562.5h3M250 536.5h3M314 547.5h2M330 535.5h2M701 566.5h2M625 554.5h2M333 549.5h3M245 552.5h3M759 573.5h3M277 554.5h3M725 562.5h3M390 549.5h2M496 516.5h2M304 544.5h3M582 525.5h3M444 555.5h2M322 549.5h3M708 576.5h3M268 553.5h2M318 547.5h2M370 535.5h3M435 554.5h3M529 539.5h3M557 551.5h2M724 567.5h2M905 586.5h2M361 547.5h2M364 520.5h3M347 545.5h2M227 552.5h3M954 588.5h2M242 540.5h3M382 553.5h2M596 536.5h3M770 584.5h3M347 552.5h3M687 576.5h2M270 544.5h2M340 538.5h2M387 549.5h3M490 534.5h3M1193 604.5h3M487 548.5h3M521 547.5h2M419 550.5h3M923 587.5h3M338 537.5h3M311 550.5h3M387 549.5h2M551 534.5h3M445 534.5h3M566 544.5h3M556 552.5h2M237 547.5h3M236 550.5h3M708 537.5h3M245 545.5h2M322 540.5h3M683 548.5h2M251 524.5h2M434 544.5h3M400 545.5h3M405 546.5h2M420 538.5h3M445 546.5h3M401 552.5h2M678 546.5h2M523 559.5h3M422 555.5h3M552 559.5h2M330 551.5h3M479 548.5h3M811 577.5h2M381 539.5h2M613 555.5h2M491 548.5h3M393 539.5h3M598 542.5h2M500 550.5h3M433 546.5h3M519 544.5h2M376 540.5h2M477 553.5h2M344 538.5h2M366 534.5h2M227 548.5h2M374 552.5h3M397 510.5h3M352 526.5h2M365 551.5h3M256 535.5h3M522 533.5h3M264 534.5h3M423 540.5h3M317 528.5h3M466 524.5h3M595 565.5h3M519 551.5h3M440 540.5h2M855 588.5h2M736 564.5h2M1159 615.5h3M681 556.5h3M476 530.5h2M687 559.5h2M374 534.5h2M307 544.5h3M298 525.5h3M271 552.5h3M284 545.5h3M312 548.5h3M332 549.5h3M344 554.5h3M618 567.5h3M387 544.5h2M241 515.5h3M296 551.5h3M328 553.5h3M250 529.5h3M511 544.5h3M317 497.5h3M353 529.5h2M672 511.5h2M541 550.5h2M228 552.5h2M406 553.5h2M236 525.5h3M1056 601.5h3M508 538.5h2M372 552.5h3M349 553.5h3M531 549.5h3M479 547.5h2M376 554.5h3M403 551.5h2M417 531.5h2M412 548.5h2M380 530.5h2M444 534.5h2M441 554.5h2M473 544.5h2M799 586.5h3M354 545.5h3M542 521.5h3M554 552.5h3M547 558.5h3M403 523.5h2M276 555.5h3M413 540.5h2M264 533.5h2M537 530.5h2M504 534.5h2M350 530.5h3M425 534.5h2M266 541.5h3M358 547.5h2M794 558.5h2M356 547.5h2M400 551.5h3M530 559.5h3M419 539.5h2M632 568.5h3M462 543.5h3M475 549.5h2M543 544.5h2M280 537.5h2M775 572.5h3M312 548.5h3M501 531.5h2M430 554.5h2M366 542.5h2M233 544.5h3M625 570.5h2M332 531.5h3M357 539.5h3M364 547.5h3M583 560.5h3M324 550.5h2M243 546.5h2M271 553.5h2M598 561.5h3M382 537.5h2M356 553.5h2M581 517.5h3M460 547.5h3M382 546.5h2M275 552.5h3M279 555.5h2M263 520.5h2M499 548.5h3M278 544.5h3M742 535.5h2M311 544.5h3M254 533.5h2M516 555.5h3M654 558.5h2M514 547.5h2M393 535.5h2M679 573.5h3M401 536.5h3M398 550.5h3M1197 609.5h2M551 560.5h3M579 551.5h3M211 535.5h3M353 546.5h2M356 545.5h2M608 565.5h2M254 528.5h2M284 538.5h3M701 570.5h2M256 523.5h2M541 559.5h2M242 547.5h3M621 557.5h2M281 543.5h3M294 528.5h3M254 545.5h2M309 553.5h3M336 535.5h2M717 578.5h3M608 541.5h3M595 553.5h2M539 531.5h2M369 524.5h3M749 560.5h3M948 570.5h3M254 534.5h3M305 553.5h3M604 549.5h2M445 538.5h3M285 546.5h2M242 553.5h3M360 533.5h3M470 539.5h2M285 549.5h3M490 547.5h3M676 571.5h2M490 557.5h3M356 539.5h2M419 534.5h3M666 558.5h2M827 586.5h3M976 594.5h2M596 547.5h2M506 538.5h3M586 557.5h2M463 545.5h3M647 554.5h2M640 551.5h2M228 550.5h3M316 532.5h2M431 546.5h3M406 550.5h3M405 545.5h3M581 555.5h3M751 555.5h2M463 556.5h3M235 541.5h2M297 539.5h2M509 553.5h2M443 542.5h2M309 551.5h2M264 554.5h3M271 532.5h2M748 547.5h3M558 543.5h2M561 556.5h3M577 523.5h3M486 548.5h2M419 551.5h3M358 541.5h3M505 534.5h3M230 530.5h3M375 537.5h3M457 535.5h3M541 546.5h3M269 544.5h2M476 549.5h2M445 555.5h2M499 554.5h3M546 496.5h3M321 544.5h3M473 552.5h2M305 525.5h2M664 567.5h3M847 592.5h3M452 551.5h2M394 516.5h2M670 559.5h2M516 537.5h2M342 548.5h2M240 537.5h2M423 544.5h2M289 553.5h2M447 525.5h2M382 532.5h2M635 568.5h2M230 540.5h3M314 545.5h3M542 557.5h3M430 532.5h2M910 587.5h2M396 550.5h2M328 550.5h2M1110 605.5h3M842 584.5h3M283 554.5h3M228 545.5h3M273 554.5h3M493 544.5h3M682 571.5h2M565 542.5h3M334 540.5h3M417 550.5h2M232 555.5h2M449 554.5h2M771 578.5h3M667 552.5h3M378 548.5h3M865 580.5h2M517 556.5h2M229 528.5h2M275 542.5h2M729 569.5h2M303 538.5h3M258 542.5h2M461 513.5h3M291 554.5h2M1115 599.5h3M479 524.5h3M432 551.5h2M403 555.5h3M249 545.5h2M731 578.5h2M583 550.5h2M411 555.5h2M447 553.5h2M605 559.5h2M947 594.5h2M331 551.5h3M483 535.5h2M305 533.5h2M465 553.5h2M332 542.5h2M398 555.5h2M607 543.5h2M543 505.5h3M538 558.5h3M712 571.5h2M460 533.5h3M441 553.5h3M561 561.5h2M582 563.5h2M329 531.5h3M434 555.5h2M298 549.5h3M270 552.5h2M421 534.5h3M750 581.5h2M920 589.5h2M266 539.5h3M413 523.5h2M290 545.5h3M501 553.5h3M521 537.5h3M255 550.5h2M504 535.5h2M366 548.5h2M480 553.5h2M960 588.5h3M251 529.5h3M504 535.5h2M383 552.5h2M273 527.5h3M445 541.5h3M300 554.5h2M343 548.5h3M515 552.5h2M317 543.5h2M394 551.5h2M605 531.5h3M325 537.5h2M225 552.5h3M502 539.5h2M370 547.5h2M308 545.5h3M600 561.5h3M412 534.5h3M540 522.5h2M298 542.5h2M311 549.5h2M661 226.5h2M658 231.5h3M661 355.5h2M530 365.5h2M468 389.5h3M908 214.5h3M779 277.5h2M844 326.5h2M943 423.5h3M963 492.5h2" stroke="#f00" stroke-width="3" shape-rendering="crispEdges"/>
<polyline points="198.2,543.1 360.0,543.2 470.0,542.4 526.0,545.5 586.0,550.2 610.0,554.0 670.0,561.2 703.0,565.6 763.0,571.6 790.0,575.0 850.0,579.7 879.0,582.7 939.0,587.1 1056.0,596.6 1116.0,600.5 1180.0,605.8 1222.0,608.4" fill="none" stroke="#00f" stroke-width="4" stroke-linecap="round" stroke-linejoin="round"/>
<g stroke="#000" stroke-width="2" fill="none" stroke-linecap="round">
<rect x="157.4" y="157.4" width="1105.7" height="606.6" stroke-linecap="butt"/>
<line x1="203.83" y1="764" x2="203.83" y2="783.4"/><line x1="380.19" y1="764" x2="380.19" y2="783.4"/><line x1="556.55" y1="764" x2="556.55" y2="783.4"/><line x1="732.91" y1="764" x2="732.91" y2="783.4"/><line x1="909.27" y1="764" x2="909.27" y2="783.4"/><line x1="1085.63" y1="764" x2="1085.63" y2="783.4"/><line x1="1261.99" y1="764" x2="1261.99" y2="783.4"/><line x1="157.4" y1="655.20" x2="137.4" y2="655.20"/><line x1="157.4" y1="544.95" x2="137.4" y2="544.95"/><line x1="157.4" y1="434.70" x2="137.4" y2="434.70"/><line x1="157.4" y1="324.45" x2="137.4" y2="324.45"/><line x1="157.4" y1="214.20" x2="137.4" y2="214.20"/>
</g>
<text x="203.83" y="833.3" text-anchor="middle">2</text><text x="380.19" y="833.3" text-anchor="middle">4</text><text x="556.55" y="833.3" text-anchor="middle">6</text><text x="732.91" y="833.3" text-anchor="middle">8</text><text x="909.27" y="833.3" text-anchor="middle">10</text><text x="1085.63" y="833.3" text-anchor="middle">12</text><text x="1261.99" y="833.3" text-anchor="middle">14</text><text transform="translate(111.5 655.20) rotate(-90)" text-anchor="middle">0.5</text><text transform="translate(111.5 544.95) rotate(-90)" text-anchor="middle">1.0</text><text transform="translate(111.5 434.70) rotate(-90)" text-anchor="middle">1.5</text><text transform="translate(111.5 324.45) rotate(-90)" text-anchor="middle">2.0</text><text transform="translate(111.5 214.20) rotate(-90)" text-anchor="middle">2.5</text>
<text x="710" y="910.2" text-anchor="middle">Average Log2 CPM</text>
<text transform="translate(34.6 460.8) rotate(-90)" text-anchor="middle">Quarter-Root Mean Deviance</text>
<rect x="1010.8" y="157.4" width="252.3" height="153.4" fill="#fff" stroke="#000" stroke-width="2"/>
<circle cx="1047.9" cy="195.8" r="5" fill="#000"/>
<circle cx="1047.9" cy="234.4" r="5" fill="#f00"/>
<line x1="1019.4" y1="272.6" x2="1077" y2="272.6" stroke="#00f" stroke-width="4" stroke-linecap="round"/>
<text x="1105.4" y="206.3">Raw</text>
<text x="1105.4" y="244.8">Squeezed</text>
<text x="1105.4" y="283.3">Trend</text>
</svg>
</body></html>
